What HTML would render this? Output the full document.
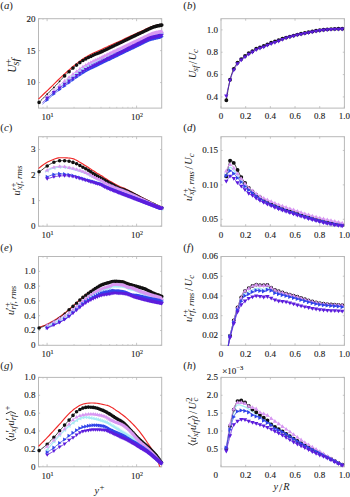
<!DOCTYPE html>
<html><head><meta charset="utf-8"><style>html,body{margin:0;padding:0;background:#fff}svg{display:block}</style></head>
<body><svg width="350" height="497" viewBox="0 0 350 497">
<style>.t{font-family:"Liberation Serif",serif;font-size:9px;fill:#222;stroke:#222;stroke-width:0.12px}.pl{font-family:"Liberation Serif",serif;font-size:10.8px;fill:#222}.al{font-family:"Liberation Serif",serif;fill:#222}</style>
<rect width="350" height="497" fill="#fff"/>
<rect x="38.5" y="18.7" width="123.20" height="89.40" fill="none" stroke="#b8b8b8" stroke-width="1"/>
<line x1="38.5" y1="82.56" x2="40.1" y2="82.56" stroke="#b8b8b8" stroke-width="0.8"/>
<line x1="161.7" y1="82.56" x2="160.1" y2="82.56" stroke="#b8b8b8" stroke-width="0.8"/>
<text x="35.50" y="85.46" text-anchor="end" class="t">10</text>
<line x1="38.5" y1="50.63" x2="40.1" y2="50.63" stroke="#b8b8b8" stroke-width="0.8"/>
<line x1="161.7" y1="50.63" x2="160.1" y2="50.63" stroke="#b8b8b8" stroke-width="0.8"/>
<text x="35.50" y="53.53" text-anchor="end" class="t">15</text>
<line x1="38.5" y1="18.70" x2="40.1" y2="18.70" stroke="#b8b8b8" stroke-width="0.8"/>
<line x1="161.7" y1="18.70" x2="160.1" y2="18.70" stroke="#b8b8b8" stroke-width="0.8"/>
<text x="35.50" y="21.60" text-anchor="end" class="t">20</text>
<line x1="47.10" y1="108.1" x2="47.10" y2="105.6" stroke="#b8b8b8" stroke-width="0.8"/>
<line x1="47.10" y1="18.7" x2="47.10" y2="21.2" stroke="#b8b8b8" stroke-width="0.8"/>
<text x="47.40" y="120.10" text-anchor="middle" class="t">10<tspan dy="-3.2" font-size="6">1</tspan></text>
<line x1="136.60" y1="108.1" x2="136.60" y2="105.6" stroke="#b8b8b8" stroke-width="0.8"/>
<line x1="136.60" y1="18.7" x2="136.60" y2="21.2" stroke="#b8b8b8" stroke-width="0.8"/>
<text x="136.90" y="120.10" text-anchor="middle" class="t">10<tspan dy="-3.2" font-size="6">2</tspan></text>
<line x1="43.00" y1="108.1" x2="43.00" y2="106.8" stroke="#b8b8b8" stroke-width="0.6"/>
<line x1="43.00" y1="18.7" x2="43.00" y2="20.0" stroke="#b8b8b8" stroke-width="0.6"/>
<line x1="74.04" y1="108.1" x2="74.04" y2="106.8" stroke="#b8b8b8" stroke-width="0.6"/>
<line x1="74.04" y1="18.7" x2="74.04" y2="20.0" stroke="#b8b8b8" stroke-width="0.6"/>
<line x1="89.80" y1="108.1" x2="89.80" y2="106.8" stroke="#b8b8b8" stroke-width="0.6"/>
<line x1="89.80" y1="18.7" x2="89.80" y2="20.0" stroke="#b8b8b8" stroke-width="0.6"/>
<line x1="100.98" y1="108.1" x2="100.98" y2="106.8" stroke="#b8b8b8" stroke-width="0.6"/>
<line x1="100.98" y1="18.7" x2="100.98" y2="20.0" stroke="#b8b8b8" stroke-width="0.6"/>
<line x1="109.66" y1="108.1" x2="109.66" y2="106.8" stroke="#b8b8b8" stroke-width="0.6"/>
<line x1="109.66" y1="18.7" x2="109.66" y2="20.0" stroke="#b8b8b8" stroke-width="0.6"/>
<line x1="116.74" y1="108.1" x2="116.74" y2="106.8" stroke="#b8b8b8" stroke-width="0.6"/>
<line x1="116.74" y1="18.7" x2="116.74" y2="20.0" stroke="#b8b8b8" stroke-width="0.6"/>
<line x1="122.74" y1="108.1" x2="122.74" y2="106.8" stroke="#b8b8b8" stroke-width="0.6"/>
<line x1="122.74" y1="18.7" x2="122.74" y2="20.0" stroke="#b8b8b8" stroke-width="0.6"/>
<line x1="127.93" y1="108.1" x2="127.93" y2="106.8" stroke="#b8b8b8" stroke-width="0.6"/>
<line x1="127.93" y1="18.7" x2="127.93" y2="20.0" stroke="#b8b8b8" stroke-width="0.6"/>
<line x1="132.50" y1="108.1" x2="132.50" y2="106.8" stroke="#b8b8b8" stroke-width="0.6"/>
<line x1="132.50" y1="18.7" x2="132.50" y2="20.0" stroke="#b8b8b8" stroke-width="0.6"/>
<rect x="221.0" y="18.7" width="123.40" height="89.40" fill="none" stroke="#b8b8b8" stroke-width="1"/>
<line x1="221.0" y1="96.92" x2="222.6" y2="96.92" stroke="#b8b8b8" stroke-width="0.8"/>
<line x1="344.4" y1="96.92" x2="342.79999999999995" y2="96.92" stroke="#b8b8b8" stroke-width="0.8"/>
<text x="218.00" y="99.83" text-anchor="end" class="t">0.4</text>
<line x1="221.0" y1="74.58" x2="222.6" y2="74.58" stroke="#b8b8b8" stroke-width="0.8"/>
<line x1="344.4" y1="74.58" x2="342.79999999999995" y2="74.58" stroke="#b8b8b8" stroke-width="0.8"/>
<text x="218.00" y="77.48" text-anchor="end" class="t">0.6</text>
<line x1="221.0" y1="52.23" x2="222.6" y2="52.23" stroke="#b8b8b8" stroke-width="0.8"/>
<line x1="344.4" y1="52.23" x2="342.79999999999995" y2="52.23" stroke="#b8b8b8" stroke-width="0.8"/>
<text x="218.00" y="55.12" text-anchor="end" class="t">0.8</text>
<line x1="221.0" y1="29.88" x2="222.6" y2="29.88" stroke="#b8b8b8" stroke-width="0.8"/>
<line x1="344.4" y1="29.88" x2="342.79999999999995" y2="29.88" stroke="#b8b8b8" stroke-width="0.8"/>
<text x="218.00" y="32.78" text-anchor="end" class="t">1.0</text>
<line x1="221.00" y1="108.1" x2="221.00" y2="106.1" stroke="#b8b8b8" stroke-width="0.8"/>
<line x1="221.00" y1="18.7" x2="221.00" y2="20.7" stroke="#b8b8b8" stroke-width="0.8"/>
<text x="221.00" y="119.40" text-anchor="middle" class="t">0</text>
<line x1="245.68" y1="108.1" x2="245.68" y2="106.1" stroke="#b8b8b8" stroke-width="0.8"/>
<line x1="245.68" y1="18.7" x2="245.68" y2="20.7" stroke="#b8b8b8" stroke-width="0.8"/>
<text x="245.68" y="119.40" text-anchor="middle" class="t">0.2</text>
<line x1="270.36" y1="108.1" x2="270.36" y2="106.1" stroke="#b8b8b8" stroke-width="0.8"/>
<line x1="270.36" y1="18.7" x2="270.36" y2="20.7" stroke="#b8b8b8" stroke-width="0.8"/>
<text x="270.36" y="119.40" text-anchor="middle" class="t">0.4</text>
<line x1="295.04" y1="108.1" x2="295.04" y2="106.1" stroke="#b8b8b8" stroke-width="0.8"/>
<line x1="295.04" y1="18.7" x2="295.04" y2="20.7" stroke="#b8b8b8" stroke-width="0.8"/>
<text x="295.04" y="119.40" text-anchor="middle" class="t">0.6</text>
<line x1="319.72" y1="108.1" x2="319.72" y2="106.1" stroke="#b8b8b8" stroke-width="0.8"/>
<line x1="319.72" y1="18.7" x2="319.72" y2="20.7" stroke="#b8b8b8" stroke-width="0.8"/>
<text x="319.72" y="119.40" text-anchor="middle" class="t">0.8</text>
<line x1="344.40" y1="108.1" x2="344.40" y2="106.1" stroke="#b8b8b8" stroke-width="0.8"/>
<line x1="344.40" y1="18.7" x2="344.40" y2="20.7" stroke="#b8b8b8" stroke-width="0.8"/>
<text x="344.40" y="119.40" text-anchor="middle" class="t">1.0</text>
<rect x="38.5" y="136.7" width="123.20" height="89.50" fill="none" stroke="#b8b8b8" stroke-width="1"/>
<line x1="38.5" y1="226.20" x2="40.1" y2="226.20" stroke="#b8b8b8" stroke-width="0.8"/>
<line x1="161.7" y1="226.20" x2="160.1" y2="226.20" stroke="#b8b8b8" stroke-width="0.8"/>
<text x="35.50" y="229.10" text-anchor="end" class="t">0</text>
<line x1="38.5" y1="200.63" x2="40.1" y2="200.63" stroke="#b8b8b8" stroke-width="0.8"/>
<line x1="161.7" y1="200.63" x2="160.1" y2="200.63" stroke="#b8b8b8" stroke-width="0.8"/>
<text x="35.50" y="203.53" text-anchor="end" class="t">1</text>
<line x1="38.5" y1="175.06" x2="40.1" y2="175.06" stroke="#b8b8b8" stroke-width="0.8"/>
<line x1="161.7" y1="175.06" x2="160.1" y2="175.06" stroke="#b8b8b8" stroke-width="0.8"/>
<text x="35.50" y="177.96" text-anchor="end" class="t">2</text>
<line x1="38.5" y1="149.49" x2="40.1" y2="149.49" stroke="#b8b8b8" stroke-width="0.8"/>
<line x1="161.7" y1="149.49" x2="160.1" y2="149.49" stroke="#b8b8b8" stroke-width="0.8"/>
<text x="35.50" y="152.39" text-anchor="end" class="t">3</text>
<line x1="47.10" y1="226.2" x2="47.10" y2="223.7" stroke="#b8b8b8" stroke-width="0.8"/>
<line x1="47.10" y1="136.7" x2="47.10" y2="139.2" stroke="#b8b8b8" stroke-width="0.8"/>
<text x="47.40" y="238.20" text-anchor="middle" class="t">10<tspan dy="-3.2" font-size="6">1</tspan></text>
<line x1="136.60" y1="226.2" x2="136.60" y2="223.7" stroke="#b8b8b8" stroke-width="0.8"/>
<line x1="136.60" y1="136.7" x2="136.60" y2="139.2" stroke="#b8b8b8" stroke-width="0.8"/>
<text x="136.90" y="238.20" text-anchor="middle" class="t">10<tspan dy="-3.2" font-size="6">2</tspan></text>
<line x1="43.00" y1="226.2" x2="43.00" y2="224.89999999999998" stroke="#b8b8b8" stroke-width="0.6"/>
<line x1="43.00" y1="136.7" x2="43.00" y2="138.0" stroke="#b8b8b8" stroke-width="0.6"/>
<line x1="74.04" y1="226.2" x2="74.04" y2="224.89999999999998" stroke="#b8b8b8" stroke-width="0.6"/>
<line x1="74.04" y1="136.7" x2="74.04" y2="138.0" stroke="#b8b8b8" stroke-width="0.6"/>
<line x1="89.80" y1="226.2" x2="89.80" y2="224.89999999999998" stroke="#b8b8b8" stroke-width="0.6"/>
<line x1="89.80" y1="136.7" x2="89.80" y2="138.0" stroke="#b8b8b8" stroke-width="0.6"/>
<line x1="100.98" y1="226.2" x2="100.98" y2="224.89999999999998" stroke="#b8b8b8" stroke-width="0.6"/>
<line x1="100.98" y1="136.7" x2="100.98" y2="138.0" stroke="#b8b8b8" stroke-width="0.6"/>
<line x1="109.66" y1="226.2" x2="109.66" y2="224.89999999999998" stroke="#b8b8b8" stroke-width="0.6"/>
<line x1="109.66" y1="136.7" x2="109.66" y2="138.0" stroke="#b8b8b8" stroke-width="0.6"/>
<line x1="116.74" y1="226.2" x2="116.74" y2="224.89999999999998" stroke="#b8b8b8" stroke-width="0.6"/>
<line x1="116.74" y1="136.7" x2="116.74" y2="138.0" stroke="#b8b8b8" stroke-width="0.6"/>
<line x1="122.74" y1="226.2" x2="122.74" y2="224.89999999999998" stroke="#b8b8b8" stroke-width="0.6"/>
<line x1="122.74" y1="136.7" x2="122.74" y2="138.0" stroke="#b8b8b8" stroke-width="0.6"/>
<line x1="127.93" y1="226.2" x2="127.93" y2="224.89999999999998" stroke="#b8b8b8" stroke-width="0.6"/>
<line x1="127.93" y1="136.7" x2="127.93" y2="138.0" stroke="#b8b8b8" stroke-width="0.6"/>
<line x1="132.50" y1="226.2" x2="132.50" y2="224.89999999999998" stroke="#b8b8b8" stroke-width="0.6"/>
<line x1="132.50" y1="136.7" x2="132.50" y2="138.0" stroke="#b8b8b8" stroke-width="0.6"/>
<rect x="221.0" y="136.7" width="123.40" height="89.50" fill="none" stroke="#b8b8b8" stroke-width="1"/>
<line x1="221.0" y1="219.32" x2="222.6" y2="219.32" stroke="#b8b8b8" stroke-width="0.8"/>
<line x1="344.4" y1="219.32" x2="342.79999999999995" y2="219.32" stroke="#b8b8b8" stroke-width="0.8"/>
<text x="218.00" y="222.22" text-anchor="end" class="t">0.05</text>
<line x1="221.0" y1="184.89" x2="222.6" y2="184.89" stroke="#b8b8b8" stroke-width="0.8"/>
<line x1="344.4" y1="184.89" x2="342.79999999999995" y2="184.89" stroke="#b8b8b8" stroke-width="0.8"/>
<text x="218.00" y="187.79" text-anchor="end" class="t">0.10</text>
<line x1="221.0" y1="150.47" x2="222.6" y2="150.47" stroke="#b8b8b8" stroke-width="0.8"/>
<line x1="344.4" y1="150.47" x2="342.79999999999995" y2="150.47" stroke="#b8b8b8" stroke-width="0.8"/>
<text x="218.00" y="153.37" text-anchor="end" class="t">0.15</text>
<line x1="221.00" y1="226.2" x2="221.00" y2="224.2" stroke="#b8b8b8" stroke-width="0.8"/>
<line x1="221.00" y1="136.7" x2="221.00" y2="138.7" stroke="#b8b8b8" stroke-width="0.8"/>
<text x="221.00" y="237.50" text-anchor="middle" class="t">0</text>
<line x1="245.68" y1="226.2" x2="245.68" y2="224.2" stroke="#b8b8b8" stroke-width="0.8"/>
<line x1="245.68" y1="136.7" x2="245.68" y2="138.7" stroke="#b8b8b8" stroke-width="0.8"/>
<text x="245.68" y="237.50" text-anchor="middle" class="t">0.2</text>
<line x1="270.36" y1="226.2" x2="270.36" y2="224.2" stroke="#b8b8b8" stroke-width="0.8"/>
<line x1="270.36" y1="136.7" x2="270.36" y2="138.7" stroke="#b8b8b8" stroke-width="0.8"/>
<text x="270.36" y="237.50" text-anchor="middle" class="t">0.4</text>
<line x1="295.04" y1="226.2" x2="295.04" y2="224.2" stroke="#b8b8b8" stroke-width="0.8"/>
<line x1="295.04" y1="136.7" x2="295.04" y2="138.7" stroke="#b8b8b8" stroke-width="0.8"/>
<text x="295.04" y="237.50" text-anchor="middle" class="t">0.6</text>
<line x1="319.72" y1="226.2" x2="319.72" y2="224.2" stroke="#b8b8b8" stroke-width="0.8"/>
<line x1="319.72" y1="136.7" x2="319.72" y2="138.7" stroke="#b8b8b8" stroke-width="0.8"/>
<text x="319.72" y="237.50" text-anchor="middle" class="t">0.8</text>
<line x1="344.40" y1="226.2" x2="344.40" y2="224.2" stroke="#b8b8b8" stroke-width="0.8"/>
<line x1="344.40" y1="136.7" x2="344.40" y2="138.7" stroke="#b8b8b8" stroke-width="0.8"/>
<text x="344.40" y="237.50" text-anchor="middle" class="t">1.0</text>
<rect x="38.5" y="256.5" width="123.20" height="88.80" fill="none" stroke="#b8b8b8" stroke-width="1"/>
<line x1="38.5" y1="345.30" x2="40.1" y2="345.30" stroke="#b8b8b8" stroke-width="0.8"/>
<line x1="161.7" y1="345.30" x2="160.1" y2="345.30" stroke="#b8b8b8" stroke-width="0.8"/>
<text x="35.50" y="348.20" text-anchor="end" class="t">0</text>
<line x1="38.5" y1="330.50" x2="40.1" y2="330.50" stroke="#b8b8b8" stroke-width="0.8"/>
<line x1="161.7" y1="330.50" x2="160.1" y2="330.50" stroke="#b8b8b8" stroke-width="0.8"/>
<text x="35.50" y="333.40" text-anchor="end" class="t">0.2</text>
<line x1="38.5" y1="315.70" x2="40.1" y2="315.70" stroke="#b8b8b8" stroke-width="0.8"/>
<line x1="161.7" y1="315.70" x2="160.1" y2="315.70" stroke="#b8b8b8" stroke-width="0.8"/>
<text x="35.50" y="318.60" text-anchor="end" class="t">0.4</text>
<line x1="38.5" y1="300.90" x2="40.1" y2="300.90" stroke="#b8b8b8" stroke-width="0.8"/>
<line x1="161.7" y1="300.90" x2="160.1" y2="300.90" stroke="#b8b8b8" stroke-width="0.8"/>
<text x="35.50" y="303.80" text-anchor="end" class="t">0.6</text>
<line x1="38.5" y1="286.10" x2="40.1" y2="286.10" stroke="#b8b8b8" stroke-width="0.8"/>
<line x1="161.7" y1="286.10" x2="160.1" y2="286.10" stroke="#b8b8b8" stroke-width="0.8"/>
<text x="35.50" y="289.00" text-anchor="end" class="t">0.8</text>
<line x1="38.5" y1="271.30" x2="40.1" y2="271.30" stroke="#b8b8b8" stroke-width="0.8"/>
<line x1="161.7" y1="271.30" x2="160.1" y2="271.30" stroke="#b8b8b8" stroke-width="0.8"/>
<text x="35.50" y="274.20" text-anchor="end" class="t">1.0</text>
<line x1="47.10" y1="345.3" x2="47.10" y2="342.8" stroke="#b8b8b8" stroke-width="0.8"/>
<line x1="47.10" y1="256.5" x2="47.10" y2="259.0" stroke="#b8b8b8" stroke-width="0.8"/>
<text x="47.40" y="357.30" text-anchor="middle" class="t">10<tspan dy="-3.2" font-size="6">1</tspan></text>
<line x1="136.60" y1="345.3" x2="136.60" y2="342.8" stroke="#b8b8b8" stroke-width="0.8"/>
<line x1="136.60" y1="256.5" x2="136.60" y2="259.0" stroke="#b8b8b8" stroke-width="0.8"/>
<text x="136.90" y="357.30" text-anchor="middle" class="t">10<tspan dy="-3.2" font-size="6">2</tspan></text>
<line x1="43.00" y1="345.3" x2="43.00" y2="344.0" stroke="#b8b8b8" stroke-width="0.6"/>
<line x1="43.00" y1="256.5" x2="43.00" y2="257.8" stroke="#b8b8b8" stroke-width="0.6"/>
<line x1="74.04" y1="345.3" x2="74.04" y2="344.0" stroke="#b8b8b8" stroke-width="0.6"/>
<line x1="74.04" y1="256.5" x2="74.04" y2="257.8" stroke="#b8b8b8" stroke-width="0.6"/>
<line x1="89.80" y1="345.3" x2="89.80" y2="344.0" stroke="#b8b8b8" stroke-width="0.6"/>
<line x1="89.80" y1="256.5" x2="89.80" y2="257.8" stroke="#b8b8b8" stroke-width="0.6"/>
<line x1="100.98" y1="345.3" x2="100.98" y2="344.0" stroke="#b8b8b8" stroke-width="0.6"/>
<line x1="100.98" y1="256.5" x2="100.98" y2="257.8" stroke="#b8b8b8" stroke-width="0.6"/>
<line x1="109.66" y1="345.3" x2="109.66" y2="344.0" stroke="#b8b8b8" stroke-width="0.6"/>
<line x1="109.66" y1="256.5" x2="109.66" y2="257.8" stroke="#b8b8b8" stroke-width="0.6"/>
<line x1="116.74" y1="345.3" x2="116.74" y2="344.0" stroke="#b8b8b8" stroke-width="0.6"/>
<line x1="116.74" y1="256.5" x2="116.74" y2="257.8" stroke="#b8b8b8" stroke-width="0.6"/>
<line x1="122.74" y1="345.3" x2="122.74" y2="344.0" stroke="#b8b8b8" stroke-width="0.6"/>
<line x1="122.74" y1="256.5" x2="122.74" y2="257.8" stroke="#b8b8b8" stroke-width="0.6"/>
<line x1="127.93" y1="345.3" x2="127.93" y2="344.0" stroke="#b8b8b8" stroke-width="0.6"/>
<line x1="127.93" y1="256.5" x2="127.93" y2="257.8" stroke="#b8b8b8" stroke-width="0.6"/>
<line x1="132.50" y1="345.3" x2="132.50" y2="344.0" stroke="#b8b8b8" stroke-width="0.6"/>
<line x1="132.50" y1="256.5" x2="132.50" y2="257.8" stroke="#b8b8b8" stroke-width="0.6"/>
<rect x="221.0" y="256.5" width="123.40" height="88.80" fill="none" stroke="#b8b8b8" stroke-width="1"/>
<line x1="221.0" y1="335.43" x2="222.6" y2="335.43" stroke="#b8b8b8" stroke-width="0.8"/>
<line x1="344.4" y1="335.43" x2="342.79999999999995" y2="335.43" stroke="#b8b8b8" stroke-width="0.8"/>
<text x="218.00" y="338.33" text-anchor="end" class="t">0.02</text>
<line x1="221.0" y1="315.70" x2="222.6" y2="315.70" stroke="#b8b8b8" stroke-width="0.8"/>
<line x1="344.4" y1="315.70" x2="342.79999999999995" y2="315.70" stroke="#b8b8b8" stroke-width="0.8"/>
<text x="218.00" y="318.60" text-anchor="end" class="t">0.03</text>
<line x1="221.0" y1="295.97" x2="222.6" y2="295.97" stroke="#b8b8b8" stroke-width="0.8"/>
<line x1="344.4" y1="295.97" x2="342.79999999999995" y2="295.97" stroke="#b8b8b8" stroke-width="0.8"/>
<text x="218.00" y="298.87" text-anchor="end" class="t">0.04</text>
<line x1="221.0" y1="276.23" x2="222.6" y2="276.23" stroke="#b8b8b8" stroke-width="0.8"/>
<line x1="344.4" y1="276.23" x2="342.79999999999995" y2="276.23" stroke="#b8b8b8" stroke-width="0.8"/>
<text x="218.00" y="279.13" text-anchor="end" class="t">0.05</text>
<line x1="221.0" y1="256.50" x2="222.6" y2="256.50" stroke="#b8b8b8" stroke-width="0.8"/>
<line x1="344.4" y1="256.50" x2="342.79999999999995" y2="256.50" stroke="#b8b8b8" stroke-width="0.8"/>
<text x="218.00" y="259.40" text-anchor="end" class="t">0.06</text>
<line x1="221.00" y1="345.3" x2="221.00" y2="343.3" stroke="#b8b8b8" stroke-width="0.8"/>
<line x1="221.00" y1="256.5" x2="221.00" y2="258.5" stroke="#b8b8b8" stroke-width="0.8"/>
<text x="221.00" y="356.60" text-anchor="middle" class="t">0</text>
<line x1="245.68" y1="345.3" x2="245.68" y2="343.3" stroke="#b8b8b8" stroke-width="0.8"/>
<line x1="245.68" y1="256.5" x2="245.68" y2="258.5" stroke="#b8b8b8" stroke-width="0.8"/>
<text x="245.68" y="356.60" text-anchor="middle" class="t">0.2</text>
<line x1="270.36" y1="345.3" x2="270.36" y2="343.3" stroke="#b8b8b8" stroke-width="0.8"/>
<line x1="270.36" y1="256.5" x2="270.36" y2="258.5" stroke="#b8b8b8" stroke-width="0.8"/>
<text x="270.36" y="356.60" text-anchor="middle" class="t">0.4</text>
<line x1="295.04" y1="345.3" x2="295.04" y2="343.3" stroke="#b8b8b8" stroke-width="0.8"/>
<line x1="295.04" y1="256.5" x2="295.04" y2="258.5" stroke="#b8b8b8" stroke-width="0.8"/>
<text x="295.04" y="356.60" text-anchor="middle" class="t">0.6</text>
<line x1="319.72" y1="345.3" x2="319.72" y2="343.3" stroke="#b8b8b8" stroke-width="0.8"/>
<line x1="319.72" y1="256.5" x2="319.72" y2="258.5" stroke="#b8b8b8" stroke-width="0.8"/>
<text x="319.72" y="356.60" text-anchor="middle" class="t">0.8</text>
<line x1="344.40" y1="345.3" x2="344.40" y2="343.3" stroke="#b8b8b8" stroke-width="0.8"/>
<line x1="344.40" y1="256.5" x2="344.40" y2="258.5" stroke="#b8b8b8" stroke-width="0.8"/>
<text x="344.40" y="356.60" text-anchor="middle" class="t">1.0</text>
<rect x="38.5" y="377.4" width="123.20" height="89.40" fill="none" stroke="#b8b8b8" stroke-width="1"/>
<line x1="38.5" y1="466.80" x2="40.1" y2="466.80" stroke="#b8b8b8" stroke-width="0.8"/>
<line x1="161.7" y1="466.80" x2="160.1" y2="466.80" stroke="#b8b8b8" stroke-width="0.8"/>
<text x="35.50" y="469.70" text-anchor="end" class="t">0</text>
<line x1="38.5" y1="448.92" x2="40.1" y2="448.92" stroke="#b8b8b8" stroke-width="0.8"/>
<line x1="161.7" y1="448.92" x2="160.1" y2="448.92" stroke="#b8b8b8" stroke-width="0.8"/>
<text x="35.50" y="451.82" text-anchor="end" class="t">0.2</text>
<line x1="38.5" y1="431.04" x2="40.1" y2="431.04" stroke="#b8b8b8" stroke-width="0.8"/>
<line x1="161.7" y1="431.04" x2="160.1" y2="431.04" stroke="#b8b8b8" stroke-width="0.8"/>
<text x="35.50" y="433.94" text-anchor="end" class="t">0.4</text>
<line x1="38.5" y1="413.16" x2="40.1" y2="413.16" stroke="#b8b8b8" stroke-width="0.8"/>
<line x1="161.7" y1="413.16" x2="160.1" y2="413.16" stroke="#b8b8b8" stroke-width="0.8"/>
<text x="35.50" y="416.06" text-anchor="end" class="t">0.6</text>
<line x1="38.5" y1="395.28" x2="40.1" y2="395.28" stroke="#b8b8b8" stroke-width="0.8"/>
<line x1="161.7" y1="395.28" x2="160.1" y2="395.28" stroke="#b8b8b8" stroke-width="0.8"/>
<text x="35.50" y="398.18" text-anchor="end" class="t">0.8</text>
<line x1="38.5" y1="377.40" x2="40.1" y2="377.40" stroke="#b8b8b8" stroke-width="0.8"/>
<line x1="161.7" y1="377.40" x2="160.1" y2="377.40" stroke="#b8b8b8" stroke-width="0.8"/>
<text x="35.50" y="380.30" text-anchor="end" class="t">1.0</text>
<line x1="47.10" y1="466.8" x2="47.10" y2="464.3" stroke="#b8b8b8" stroke-width="0.8"/>
<line x1="47.10" y1="377.4" x2="47.10" y2="379.9" stroke="#b8b8b8" stroke-width="0.8"/>
<text x="47.40" y="478.80" text-anchor="middle" class="t">10<tspan dy="-3.2" font-size="6">1</tspan></text>
<line x1="136.60" y1="466.8" x2="136.60" y2="464.3" stroke="#b8b8b8" stroke-width="0.8"/>
<line x1="136.60" y1="377.4" x2="136.60" y2="379.9" stroke="#b8b8b8" stroke-width="0.8"/>
<text x="136.90" y="478.80" text-anchor="middle" class="t">10<tspan dy="-3.2" font-size="6">2</tspan></text>
<line x1="43.00" y1="466.8" x2="43.00" y2="465.5" stroke="#b8b8b8" stroke-width="0.6"/>
<line x1="43.00" y1="377.4" x2="43.00" y2="378.7" stroke="#b8b8b8" stroke-width="0.6"/>
<line x1="74.04" y1="466.8" x2="74.04" y2="465.5" stroke="#b8b8b8" stroke-width="0.6"/>
<line x1="74.04" y1="377.4" x2="74.04" y2="378.7" stroke="#b8b8b8" stroke-width="0.6"/>
<line x1="89.80" y1="466.8" x2="89.80" y2="465.5" stroke="#b8b8b8" stroke-width="0.6"/>
<line x1="89.80" y1="377.4" x2="89.80" y2="378.7" stroke="#b8b8b8" stroke-width="0.6"/>
<line x1="100.98" y1="466.8" x2="100.98" y2="465.5" stroke="#b8b8b8" stroke-width="0.6"/>
<line x1="100.98" y1="377.4" x2="100.98" y2="378.7" stroke="#b8b8b8" stroke-width="0.6"/>
<line x1="109.66" y1="466.8" x2="109.66" y2="465.5" stroke="#b8b8b8" stroke-width="0.6"/>
<line x1="109.66" y1="377.4" x2="109.66" y2="378.7" stroke="#b8b8b8" stroke-width="0.6"/>
<line x1="116.74" y1="466.8" x2="116.74" y2="465.5" stroke="#b8b8b8" stroke-width="0.6"/>
<line x1="116.74" y1="377.4" x2="116.74" y2="378.7" stroke="#b8b8b8" stroke-width="0.6"/>
<line x1="122.74" y1="466.8" x2="122.74" y2="465.5" stroke="#b8b8b8" stroke-width="0.6"/>
<line x1="122.74" y1="377.4" x2="122.74" y2="378.7" stroke="#b8b8b8" stroke-width="0.6"/>
<line x1="127.93" y1="466.8" x2="127.93" y2="465.5" stroke="#b8b8b8" stroke-width="0.6"/>
<line x1="127.93" y1="377.4" x2="127.93" y2="378.7" stroke="#b8b8b8" stroke-width="0.6"/>
<line x1="132.50" y1="466.8" x2="132.50" y2="465.5" stroke="#b8b8b8" stroke-width="0.6"/>
<line x1="132.50" y1="377.4" x2="132.50" y2="378.7" stroke="#b8b8b8" stroke-width="0.6"/>
<rect x="221.0" y="377.4" width="123.40" height="89.40" fill="none" stroke="#b8b8b8" stroke-width="1"/>
<line x1="221.0" y1="448.92" x2="222.6" y2="448.92" stroke="#b8b8b8" stroke-width="0.8"/>
<line x1="344.4" y1="448.92" x2="342.79999999999995" y2="448.92" stroke="#b8b8b8" stroke-width="0.8"/>
<text x="218.00" y="451.82" text-anchor="end" class="t">0.5</text>
<line x1="221.0" y1="431.04" x2="222.6" y2="431.04" stroke="#b8b8b8" stroke-width="0.8"/>
<line x1="344.4" y1="431.04" x2="342.79999999999995" y2="431.04" stroke="#b8b8b8" stroke-width="0.8"/>
<text x="218.00" y="433.94" text-anchor="end" class="t">1.0</text>
<line x1="221.0" y1="413.16" x2="222.6" y2="413.16" stroke="#b8b8b8" stroke-width="0.8"/>
<line x1="344.4" y1="413.16" x2="342.79999999999995" y2="413.16" stroke="#b8b8b8" stroke-width="0.8"/>
<text x="218.00" y="416.06" text-anchor="end" class="t">1.5</text>
<line x1="221.0" y1="395.28" x2="222.6" y2="395.28" stroke="#b8b8b8" stroke-width="0.8"/>
<line x1="344.4" y1="395.28" x2="342.79999999999995" y2="395.28" stroke="#b8b8b8" stroke-width="0.8"/>
<text x="218.00" y="398.18" text-anchor="end" class="t">2.0</text>
<line x1="221.0" y1="377.40" x2="222.6" y2="377.40" stroke="#b8b8b8" stroke-width="0.8"/>
<line x1="344.4" y1="377.40" x2="342.79999999999995" y2="377.40" stroke="#b8b8b8" stroke-width="0.8"/>
<text x="218.00" y="380.30" text-anchor="end" class="t">2.5</text>
<line x1="221.00" y1="466.8" x2="221.00" y2="464.8" stroke="#b8b8b8" stroke-width="0.8"/>
<line x1="221.00" y1="377.4" x2="221.00" y2="379.4" stroke="#b8b8b8" stroke-width="0.8"/>
<text x="215.80" y="478.10" text-anchor="middle" class="t">0</text>
<line x1="245.68" y1="466.8" x2="245.68" y2="464.8" stroke="#b8b8b8" stroke-width="0.8"/>
<line x1="245.68" y1="377.4" x2="245.68" y2="379.4" stroke="#b8b8b8" stroke-width="0.8"/>
<text x="245.68" y="478.10" text-anchor="middle" class="t">0.2</text>
<line x1="270.36" y1="466.8" x2="270.36" y2="464.8" stroke="#b8b8b8" stroke-width="0.8"/>
<line x1="270.36" y1="377.4" x2="270.36" y2="379.4" stroke="#b8b8b8" stroke-width="0.8"/>
<text x="270.36" y="478.10" text-anchor="middle" class="t">0.4</text>
<line x1="295.04" y1="466.8" x2="295.04" y2="464.8" stroke="#b8b8b8" stroke-width="0.8"/>
<line x1="295.04" y1="377.4" x2="295.04" y2="379.4" stroke="#b8b8b8" stroke-width="0.8"/>
<text x="295.04" y="478.10" text-anchor="middle" class="t">0.6</text>
<line x1="319.72" y1="466.8" x2="319.72" y2="464.8" stroke="#b8b8b8" stroke-width="0.8"/>
<line x1="319.72" y1="377.4" x2="319.72" y2="379.4" stroke="#b8b8b8" stroke-width="0.8"/>
<text x="319.72" y="478.10" text-anchor="middle" class="t">0.8</text>
<line x1="344.40" y1="466.8" x2="344.40" y2="464.8" stroke="#b8b8b8" stroke-width="0.8"/>
<line x1="344.40" y1="377.4" x2="344.40" y2="379.4" stroke="#b8b8b8" stroke-width="0.8"/>
<text x="344.40" y="478.10" text-anchor="middle" class="t">1.0</text>
<clipPath id="cpa"><rect x="35.5" y="15.7" width="129.2" height="95.39999999999999"/></clipPath>
<g clip-path="url(#cpa)">
<path d="M38.5,99.0 L39.7,97.9 L41.3,96.3 L43.2,94.5 L45.3,92.5 L47.6,90.3 L50.0,88.0 L52.5,85.6 L55.2,82.9 L58.1,80.0 L61.1,77.1 L64.1,74.3 L67.0,71.7 L69.9,69.2 L72.7,66.8 L75.6,64.4 L78.5,62.1 L81.4,60.0 L84.3,58.0 L87.3,56.2 L90.4,54.6 L93.4,53.1 L96.4,51.7 L99.1,50.5 L101.5,49.4 L103.4,48.5 L104.9,47.8 L106.2,47.2 L107.4,46.7 L108.6,46.1 L110.0,45.5 L111.6,44.8 L113.2,44.1 L114.9,43.3 L116.6,42.5 L118.3,41.8 L120.0,41.0 L121.7,40.2 L123.3,39.4 L125.0,38.6 L126.7,37.9 L128.3,37.1 L130.0,36.3 L131.7,35.5 L133.3,34.8 L135.0,34.0 L136.7,33.3 L138.3,32.5 L140.0,31.8 L141.7,31.0 L143.5,30.2 L145.3,29.4 L147.0,28.6 L148.6,27.9 L150.0,27.3 L151.1,26.9 L152.0,26.5 L152.7,26.3 L153.4,26.1 L154.1,25.9 L155.0,25.7 L156.1,25.4 L157.4,25.2 L158.7,24.9 L159.9,24.7 L161.0,24.4 L161.7,24.3" fill="none" stroke="#f02828" stroke-width="1.15"/>
<path d="M45.5,100.0 L46.6,99.0 L48.2,97.6 L50.1,95.9 L52.1,94.0 L54.1,92.2 L56.0,90.5 L57.8,88.9 L59.5,87.3 L61.2,85.8 L63.0,84.1 L65.0,82.4 L67.2,80.6 L69.7,78.6 L72.5,76.4 L75.4,74.1 L78.4,71.8 L81.4,69.6 L84.3,67.7 L87.3,66.0 L90.3,64.4 L93.4,62.9 L96.4,61.5 L99.1,60.3 L101.5,59.2 L103.4,58.3 L104.9,57.5 L106.2,56.9 L107.4,56.3 L108.6,55.8 L110.0,55.1 L111.6,54.4 L113.2,53.6 L114.9,52.8 L116.6,52.1 L118.3,51.3 L120.0,50.5 L121.7,49.7 L123.3,48.9 L125.0,48.1 L126.7,47.4 L128.3,46.6 L130.0,45.8 L131.7,45.0 L133.3,44.3 L135.0,43.5 L136.7,42.7 L138.3,42.0 L140.0,41.2 L141.7,40.4 L143.5,39.5 L145.3,38.7 L147.0,37.8 L148.6,37.1 L150.0,36.5 L151.1,36.0 L152.0,35.7 L152.7,35.4 L153.4,35.2 L154.1,35.0 L155.0,34.8 L156.1,34.5 L157.4,34.3 L158.7,34.0 L159.9,33.8 L161.0,33.6 L161.7,33.5" fill="none" stroke="#a8ecf4" stroke-width="1.3"/>
<path d="M45.4,98.4L48.7,96.6L48.7,100.3ZM52.1,92.4L55.4,90.5L55.4,94.3ZM57.8,87.2L61.1,85.3L61.1,89.1ZM62.8,82.7L66.1,80.8L66.1,84.6ZM67.3,79.1L70.5,77.2L70.5,81.0ZM71.2,75.9L74.5,74.0L74.5,77.8ZM74.8,73.1L78.1,71.2L78.1,75.0ZM78.1,70.7L81.4,68.8L81.4,72.6ZM81.1,68.6L84.4,66.7L84.4,70.5ZM84.0,66.8L87.2,65.0L87.2,68.7ZM86.6,65.4L89.8,63.5L89.8,67.3ZM89.1,64.1L92.3,62.2L92.3,66.0ZM91.4,63.0L94.6,61.1L94.6,64.9ZM93.5,62.0L96.8,60.1L96.8,63.9ZM95.6,61.1L98.9,59.2L98.9,63.0ZM97.6,60.2L100.8,58.3L100.8,62.1ZM99.4,59.3L102.7,57.4L102.7,61.2ZM101.2,58.5L104.5,56.6L104.5,60.3ZM102.9,57.6L106.2,55.7L106.2,59.5ZM104.6,56.8L107.8,54.9L107.8,58.7ZM106.1,56.1L109.4,54.2L109.4,58.0ZM107.6,55.4L110.9,53.5L110.9,57.3ZM109.1,54.7L112.3,52.8L112.3,56.6ZM110.5,54.0L113.7,52.1L113.7,55.9ZM111.8,53.4L115.1,51.5L115.1,55.3ZM113.1,52.8L116.4,50.9L116.4,54.7ZM114.4,52.2L117.6,50.4L117.6,54.1ZM115.6,51.7L118.9,49.8L118.9,53.6ZM116.8,51.1L120.1,49.3L120.1,53.0ZM118.0,50.6L121.2,48.7L121.2,52.5ZM119.1,50.1L122.3,48.2L122.3,52.0ZM120.2,49.6L123.4,47.7L123.4,51.5ZM121.2,49.1L124.5,47.2L124.5,51.0ZM122.2,48.6L125.5,46.7L125.5,50.5ZM123.2,48.1L126.5,46.2L126.5,50.0ZM124.2,47.7L127.5,45.8L127.5,49.6ZM125.2,47.2L128.4,45.3L128.4,49.1ZM126.1,46.8L129.3,44.9L129.3,48.7ZM127.0,46.4L130.3,44.5L130.3,48.2ZM127.9,45.9L131.1,44.0L131.1,47.8ZM128.8,45.5L132.0,43.6L132.0,47.4ZM129.6,45.1L132.9,43.3L132.9,47.0ZM130.4,44.8L133.7,42.9L133.7,46.7ZM131.3,44.4L134.5,42.5L134.5,46.3ZM132.1,44.0L135.3,42.1L135.3,45.9ZM132.8,43.7L136.1,41.8L136.1,45.6ZM133.6,43.3L136.8,41.4L136.8,45.2ZM134.4,43.0L137.6,41.1L137.6,44.9ZM135.1,42.6L138.3,40.7L138.3,44.5ZM135.8,42.3L139.1,40.4L139.1,44.2ZM136.5,42.0L139.8,40.1L139.8,43.9ZM137.2,41.7L140.5,39.8L140.5,43.5ZM137.9,41.3L141.1,39.4L141.1,43.2ZM138.6,41.0L141.8,39.1L141.8,42.9ZM139.2,40.7L142.5,38.8L142.5,42.6ZM139.9,40.4L143.1,38.5L143.1,42.3ZM140.5,40.1L143.8,38.2L143.8,42.0ZM141.2,39.8L144.4,37.9L144.4,41.7ZM141.8,39.5L145.0,37.6L145.0,41.4ZM142.4,39.2L145.6,37.3L145.6,41.1ZM143.0,38.9L146.2,37.0L146.2,40.8ZM143.6,38.6L146.8,36.8L146.8,40.5ZM144.2,38.4L147.4,36.5L147.4,40.3ZM144.7,38.1L148.0,36.2L148.0,40.0ZM145.3,37.8L148.5,35.9L148.5,39.7ZM145.8,37.6L149.1,35.7L149.1,39.5ZM146.4,37.3L149.6,35.4L149.6,39.2ZM146.9,37.1L150.2,35.2L150.2,38.9ZM147.5,36.8L150.7,34.9L150.7,38.7ZM148.0,36.6L151.2,34.7L151.2,38.5ZM148.5,36.4L151.8,34.5L151.8,38.3ZM149.0,36.2L152.3,34.3L152.3,38.0ZM149.5,35.9L152.8,34.1L152.8,37.8ZM150.0,35.7L153.3,33.9L153.3,37.6ZM150.5,35.6L153.8,33.7L153.8,37.5ZM151.0,35.4L154.3,33.5L154.3,37.3ZM151.5,35.3L154.7,33.4L154.7,37.1ZM152.0,35.1L155.2,33.2L155.2,37.0ZM152.4,35.0L155.7,33.1L155.7,36.9ZM152.9,34.9L156.1,33.0L156.1,36.8ZM153.4,34.8L156.6,32.9L156.6,36.7ZM153.8,34.7L157.1,32.8L157.1,36.5ZM154.3,34.6L157.5,32.7L157.5,36.4ZM154.7,34.5L157.9,32.6L157.9,36.4ZM155.1,34.4L158.4,32.5L158.4,36.3ZM155.6,34.3L158.8,32.4L158.8,36.2ZM156.0,34.2L159.2,32.3L159.2,36.1ZM156.4,34.1L159.7,32.2L159.7,36.0ZM156.9,34.0L160.1,32.2L160.1,35.9ZM157.3,34.0L160.5,32.1L160.5,35.9ZM157.7,33.9L160.9,32.0L160.9,35.8ZM158.1,33.8L161.3,31.9L161.3,35.7ZM158.5,33.8L161.7,31.9L161.7,35.6ZM158.9,33.7L162.1,31.8L162.1,35.6ZM159.3,33.6L162.5,31.7L162.5,35.5ZM159.7,33.5L162.9,31.7L162.9,35.4ZM160.0,33.5L163.3,31.6L163.3,35.4Z" fill="#a8ecf4"/>
<path d="M39.0,102.5 L39.7,101.7 L40.7,100.7 L41.9,99.5 L43.2,98.2 L44.6,96.7 L46.0,95.3 L47.5,93.8 L49.2,92.1 L51.0,90.4 L52.7,88.6 L54.4,86.9 L56.0,85.3 L57.4,83.8 L58.8,82.3 L60.0,80.8 L61.3,79.4 L62.5,78.1 L63.7,76.8 L64.9,75.6 L66.1,74.5 L67.2,73.4 L68.3,72.3 L69.5,71.3 L70.6,70.3 L71.7,69.3 L72.9,68.3 L74.0,67.3 L75.1,66.3 L76.3,65.4 L77.4,64.5 L78.5,63.6 L79.6,62.8 L80.7,62.0 L81.9,61.2 L83.1,60.5 L84.3,59.7 L85.6,58.9 L87.0,58.2 L88.5,57.5 L90.0,56.8 L91.4,56.1 L92.9,55.4 L94.3,54.8 L95.8,54.2 L97.2,53.6 L98.6,53.0 L100.1,52.4 L101.5,51.8 L102.9,51.2 L104.3,50.5 L105.7,49.8 L107.1,49.1 L108.5,48.4 L110.0,47.7 L111.6,46.9 L113.2,46.2 L114.9,45.3 L116.6,44.5 L118.3,43.7 L120.0,42.9 L121.7,42.1 L123.3,41.3 L125.0,40.5 L126.7,39.7 L128.3,38.9 L130.0,38.1 L131.7,37.3 L133.3,36.5 L135.0,35.7 L136.7,34.9 L138.3,34.1 L140.0,33.3 L141.7,32.5 L143.5,31.6 L145.3,30.7 L147.0,29.9 L148.6,29.1 L150.0,28.5 L151.1,28.0 L152.0,27.6 L152.7,27.3 L153.4,27.1 L154.1,26.9 L155.0,26.6 L156.1,26.3 L157.4,26.0 L158.7,25.7 L159.9,25.5 L161.0,25.3 L161.7,25.1" fill="none" stroke="#111111" stroke-width="0.8"/>
<path d="M37.3,102.4a1.80,1.80 0 1,0 3.60,0a1.80,1.80 0 1,0 -3.60,0M46.3,94.1a0.90,0.90 0 1,0 1.80,0a0.90,0.90 0 1,0 -1.80,0M53.0,87.4a0.90,0.90 0 1,0 1.80,0a0.90,0.90 0 1,0 -1.80,0M58.7,81.3a0.90,0.90 0 1,0 1.80,0a0.90,0.90 0 1,0 -1.80,0M62.8,75.9a1.80,1.80 0 1,0 3.60,0a1.80,1.80 0 1,0 -3.60,0M67.3,71.7a1.80,1.80 0 1,0 3.60,0a1.80,1.80 0 1,0 -3.60,0M71.2,68.1a1.80,1.80 0 1,0 3.60,0a1.80,1.80 0 1,0 -3.60,0M74.8,65.1a1.80,1.80 0 1,0 3.60,0a1.80,1.80 0 1,0 -3.60,0M78.1,62.6a1.80,1.80 0 1,0 3.60,0a1.80,1.80 0 1,0 -3.60,0M81.1,60.5a1.80,1.80 0 1,0 3.60,0a1.80,1.80 0 1,0 -3.60,0M84.0,58.9a1.80,1.80 0 1,0 3.60,0a1.80,1.80 0 1,0 -3.60,0M86.6,57.5a1.80,1.80 0 1,0 3.60,0a1.80,1.80 0 1,0 -3.60,0M89.1,56.4a1.80,1.80 0 1,0 3.60,0a1.80,1.80 0 1,0 -3.60,0M91.4,55.3a1.80,1.80 0 1,0 3.60,0a1.80,1.80 0 1,0 -3.60,0M93.5,54.3a1.80,1.80 0 1,0 3.60,0a1.80,1.80 0 1,0 -3.60,0M95.6,53.5a1.80,1.80 0 1,0 3.60,0a1.80,1.80 0 1,0 -3.60,0M97.6,52.7a1.80,1.80 0 1,0 3.60,0a1.80,1.80 0 1,0 -3.60,0M99.4,51.9a1.80,1.80 0 1,0 3.60,0a1.80,1.80 0 1,0 -3.60,0M101.2,51.1a1.80,1.80 0 1,0 3.60,0a1.80,1.80 0 1,0 -3.60,0M102.9,50.3a1.80,1.80 0 1,0 3.60,0a1.80,1.80 0 1,0 -3.60,0M104.6,49.5a1.80,1.80 0 1,0 3.60,0a1.80,1.80 0 1,0 -3.60,0M106.1,48.7a1.80,1.80 0 1,0 3.60,0a1.80,1.80 0 1,0 -3.60,0M107.6,48.0a1.80,1.80 0 1,0 3.60,0a1.80,1.80 0 1,0 -3.60,0M109.1,47.3a1.80,1.80 0 1,0 3.60,0a1.80,1.80 0 1,0 -3.60,0M110.5,46.6a1.80,1.80 0 1,0 3.60,0a1.80,1.80 0 1,0 -3.60,0M111.8,46.0a1.80,1.80 0 1,0 3.60,0a1.80,1.80 0 1,0 -3.60,0M113.1,45.3a1.80,1.80 0 1,0 3.60,0a1.80,1.80 0 1,0 -3.60,0M114.4,44.7a1.80,1.80 0 1,0 3.60,0a1.80,1.80 0 1,0 -3.60,0M115.6,44.1a1.80,1.80 0 1,0 3.60,0a1.80,1.80 0 1,0 -3.60,0M116.8,43.6a1.80,1.80 0 1,0 3.60,0a1.80,1.80 0 1,0 -3.60,0M118.0,43.0a1.80,1.80 0 1,0 3.60,0a1.80,1.80 0 1,0 -3.60,0M119.1,42.5a1.80,1.80 0 1,0 3.60,0a1.80,1.80 0 1,0 -3.60,0M120.2,42.0a1.80,1.80 0 1,0 3.60,0a1.80,1.80 0 1,0 -3.60,0M121.2,41.5a1.80,1.80 0 1,0 3.60,0a1.80,1.80 0 1,0 -3.60,0M122.2,41.0a1.80,1.80 0 1,0 3.60,0a1.80,1.80 0 1,0 -3.60,0M123.2,40.5a1.80,1.80 0 1,0 3.60,0a1.80,1.80 0 1,0 -3.60,0M124.2,40.0a1.80,1.80 0 1,0 3.60,0a1.80,1.80 0 1,0 -3.60,0M125.2,39.6a1.80,1.80 0 1,0 3.60,0a1.80,1.80 0 1,0 -3.60,0M126.1,39.1a1.80,1.80 0 1,0 3.60,0a1.80,1.80 0 1,0 -3.60,0M127.0,38.7a1.80,1.80 0 1,0 3.60,0a1.80,1.80 0 1,0 -3.60,0M127.9,38.2a1.80,1.80 0 1,0 3.60,0a1.80,1.80 0 1,0 -3.60,0M128.8,37.8a1.80,1.80 0 1,0 3.60,0a1.80,1.80 0 1,0 -3.60,0M129.6,37.4a1.80,1.80 0 1,0 3.60,0a1.80,1.80 0 1,0 -3.60,0M130.4,37.0a1.80,1.80 0 1,0 3.60,0a1.80,1.80 0 1,0 -3.60,0M131.3,36.6a1.80,1.80 0 1,0 3.60,0a1.80,1.80 0 1,0 -3.60,0M132.1,36.2a1.80,1.80 0 1,0 3.60,0a1.80,1.80 0 1,0 -3.60,0M132.8,35.9a1.80,1.80 0 1,0 3.60,0a1.80,1.80 0 1,0 -3.60,0M133.6,35.5a1.80,1.80 0 1,0 3.60,0a1.80,1.80 0 1,0 -3.60,0M134.4,35.1a1.80,1.80 0 1,0 3.60,0a1.80,1.80 0 1,0 -3.60,0M135.1,34.8a1.80,1.80 0 1,0 3.60,0a1.80,1.80 0 1,0 -3.60,0M135.8,34.4a1.80,1.80 0 1,0 3.60,0a1.80,1.80 0 1,0 -3.60,0M136.5,34.1a1.80,1.80 0 1,0 3.60,0a1.80,1.80 0 1,0 -3.60,0M137.2,33.8a1.80,1.80 0 1,0 3.60,0a1.80,1.80 0 1,0 -3.60,0M137.9,33.4a1.80,1.80 0 1,0 3.60,0a1.80,1.80 0 1,0 -3.60,0M138.6,33.1a1.80,1.80 0 1,0 3.60,0a1.80,1.80 0 1,0 -3.60,0M139.2,32.8a1.80,1.80 0 1,0 3.60,0a1.80,1.80 0 1,0 -3.60,0M139.9,32.5a1.80,1.80 0 1,0 3.60,0a1.80,1.80 0 1,0 -3.60,0M140.5,32.2a1.80,1.80 0 1,0 3.60,0a1.80,1.80 0 1,0 -3.60,0M141.2,31.9a1.80,1.80 0 1,0 3.60,0a1.80,1.80 0 1,0 -3.60,0M141.8,31.6a1.80,1.80 0 1,0 3.60,0a1.80,1.80 0 1,0 -3.60,0M142.4,31.3a1.80,1.80 0 1,0 3.60,0a1.80,1.80 0 1,0 -3.60,0M143.0,31.0a1.80,1.80 0 1,0 3.60,0a1.80,1.80 0 1,0 -3.60,0M143.6,30.7a1.80,1.80 0 1,0 3.60,0a1.80,1.80 0 1,0 -3.60,0M144.2,30.4a1.80,1.80 0 1,0 3.60,0a1.80,1.80 0 1,0 -3.60,0M144.7,30.1a1.80,1.80 0 1,0 3.60,0a1.80,1.80 0 1,0 -3.60,0M145.3,29.9a1.80,1.80 0 1,0 3.60,0a1.80,1.80 0 1,0 -3.60,0M145.8,29.6a1.80,1.80 0 1,0 3.60,0a1.80,1.80 0 1,0 -3.60,0M146.4,29.3a1.80,1.80 0 1,0 3.60,0a1.80,1.80 0 1,0 -3.60,0M146.9,29.1a1.80,1.80 0 1,0 3.60,0a1.80,1.80 0 1,0 -3.60,0M147.5,28.8a1.80,1.80 0 1,0 3.60,0a1.80,1.80 0 1,0 -3.60,0M148.0,28.6a1.80,1.80 0 1,0 3.60,0a1.80,1.80 0 1,0 -3.60,0M148.5,28.4a1.80,1.80 0 1,0 3.60,0a1.80,1.80 0 1,0 -3.60,0M149.0,28.1a1.80,1.80 0 1,0 3.60,0a1.80,1.80 0 1,0 -3.60,0M149.5,27.9a1.80,1.80 0 1,0 3.60,0a1.80,1.80 0 1,0 -3.60,0M150.0,27.7a1.80,1.80 0 1,0 3.60,0a1.80,1.80 0 1,0 -3.60,0M150.5,27.5a1.80,1.80 0 1,0 3.60,0a1.80,1.80 0 1,0 -3.60,0M151.0,27.3a1.80,1.80 0 1,0 3.60,0a1.80,1.80 0 1,0 -3.60,0M151.5,27.1a1.80,1.80 0 1,0 3.60,0a1.80,1.80 0 1,0 -3.60,0M152.0,27.0a1.80,1.80 0 1,0 3.60,0a1.80,1.80 0 1,0 -3.60,0M152.4,26.8a1.80,1.80 0 1,0 3.60,0a1.80,1.80 0 1,0 -3.60,0M152.9,26.7a1.80,1.80 0 1,0 3.60,0a1.80,1.80 0 1,0 -3.60,0M153.4,26.6a1.80,1.80 0 1,0 3.60,0a1.80,1.80 0 1,0 -3.60,0M153.8,26.4a1.80,1.80 0 1,0 3.60,0a1.80,1.80 0 1,0 -3.60,0M154.3,26.3a1.80,1.80 0 1,0 3.60,0a1.80,1.80 0 1,0 -3.60,0M154.7,26.2a1.80,1.80 0 1,0 3.60,0a1.80,1.80 0 1,0 -3.60,0M155.1,26.1a1.80,1.80 0 1,0 3.60,0a1.80,1.80 0 1,0 -3.60,0M155.6,26.0a1.80,1.80 0 1,0 3.60,0a1.80,1.80 0 1,0 -3.60,0M156.0,25.9a1.80,1.80 0 1,0 3.60,0a1.80,1.80 0 1,0 -3.60,0M156.4,25.8a1.80,1.80 0 1,0 3.60,0a1.80,1.80 0 1,0 -3.60,0M156.9,25.7a1.80,1.80 0 1,0 3.60,0a1.80,1.80 0 1,0 -3.60,0M157.3,25.6a1.80,1.80 0 1,0 3.60,0a1.80,1.80 0 1,0 -3.60,0M157.7,25.6a1.80,1.80 0 1,0 3.60,0a1.80,1.80 0 1,0 -3.60,0M158.1,25.5a1.80,1.80 0 1,0 3.60,0a1.80,1.80 0 1,0 -3.60,0M158.5,25.4a1.80,1.80 0 1,0 3.60,0a1.80,1.80 0 1,0 -3.60,0M158.9,25.3a1.80,1.80 0 1,0 3.60,0a1.80,1.80 0 1,0 -3.60,0M159.3,25.2a1.80,1.80 0 1,0 3.60,0a1.80,1.80 0 1,0 -3.60,0M159.7,25.2a1.80,1.80 0 1,0 3.60,0a1.80,1.80 0 1,0 -3.60,0M160.0,25.1a1.80,1.80 0 1,0 3.60,0a1.80,1.80 0 1,0 -3.60,0" fill="#111111"/>
<path d="M45.5,98.0 L46.6,97.0 L48.2,95.6 L50.1,93.9 L52.1,92.0 L54.1,90.2 L56.0,88.5 L57.8,86.9 L59.5,85.3 L61.2,83.8 L63.0,82.1 L65.0,80.4 L67.2,78.6 L69.7,76.6 L72.5,74.4 L75.4,72.1 L78.4,69.8 L81.4,67.6 L84.3,65.7 L87.3,64.0 L90.3,62.4 L93.4,60.9 L96.4,59.5 L99.1,58.3 L101.5,57.2 L103.4,56.3 L104.9,55.5 L106.2,54.9 L107.4,54.3 L108.6,53.8 L110.0,53.1 L111.6,52.4 L113.2,51.6 L114.9,50.8 L116.6,50.1 L118.3,49.3 L120.0,48.5 L121.7,47.7 L123.3,46.9 L125.0,46.1 L126.7,45.4 L128.3,44.6 L130.0,43.8 L131.7,43.0 L133.3,42.3 L135.0,41.5 L136.7,40.7 L138.3,40.0 L140.0,39.2 L141.7,38.4 L143.5,37.5 L145.3,36.7 L147.0,35.8 L148.6,35.1 L150.0,34.5 L151.1,34.0 L152.0,33.7 L152.7,33.4 L153.4,33.2 L154.1,33.0 L155.0,32.8 L156.1,32.5 L157.4,32.3 L158.7,32.0 L159.9,31.8 L161.0,31.6 L161.7,31.5" fill="none" stroke="#d898f2" stroke-width="0.8"/>
<path d="M47.2,94.5L49.2,98.0L45.2,98.0ZM53.9,88.4L55.9,91.9L51.9,91.9ZM59.6,83.3L61.7,86.7L57.6,86.7ZM64.6,78.8L66.6,82.3L62.6,82.3ZM69.1,75.2L71.1,78.6L67.0,78.6ZM73.0,72.0L75.0,75.5L71.0,75.5ZM76.6,69.2L78.6,72.7L74.6,72.7ZM79.9,66.8L81.9,70.2L77.9,70.2ZM82.9,64.7L85.0,68.1L80.9,68.1ZM85.8,62.9L87.8,66.4L83.7,66.4ZM88.4,61.5L90.4,64.9L86.4,64.9ZM90.9,60.2L92.9,63.7L88.8,63.7ZM93.2,59.1L95.2,62.6L91.1,62.6ZM95.3,58.1L97.4,61.6L93.3,61.6ZM97.4,57.2L99.4,60.6L95.4,60.6ZM99.4,56.3L101.4,59.7L97.4,59.7ZM101.2,55.4L103.3,58.9L99.2,58.9ZM103.0,54.5L105.0,58.0L101.0,58.0ZM104.7,53.7L106.7,57.2L102.7,57.2ZM106.4,52.9L108.4,56.4L104.4,56.4ZM107.9,52.2L109.9,55.6L105.9,55.6ZM109.4,51.4L111.5,54.9L107.4,54.9ZM110.9,50.8L112.9,54.2L108.9,54.2ZM112.3,50.1L114.3,53.6L110.3,53.6ZM113.6,49.5L115.7,53.0L111.6,53.0ZM114.9,48.9L117.0,52.4L112.9,52.4ZM116.2,48.3L118.2,51.8L114.2,51.8ZM117.4,47.8L119.4,51.2L115.4,51.2ZM118.6,47.2L120.6,50.7L116.6,50.7ZM119.8,46.7L121.8,50.1L117.7,50.1ZM120.9,46.2L122.9,49.6L118.9,49.6ZM122.0,45.7L124.0,49.1L119.9,49.1ZM123.0,45.2L125.0,48.6L121.0,48.6ZM124.0,44.7L126.1,48.1L122.0,48.1ZM125.0,44.2L127.1,47.7L123.0,47.7ZM126.0,43.7L128.0,47.2L124.0,47.2ZM127.0,43.3L129.0,46.8L125.0,46.8ZM127.9,42.9L129.9,46.3L125.9,46.3ZM128.8,42.4L130.8,45.9L126.8,45.9ZM129.7,42.0L131.7,45.5L127.7,45.5ZM130.6,41.6L132.6,45.1L128.6,45.1ZM131.4,41.2L133.4,44.7L129.4,44.7ZM132.2,40.8L134.3,44.3L130.2,44.3ZM133.1,40.5L135.1,43.9L131.0,43.9ZM133.9,40.1L135.9,43.6L131.8,43.6ZM134.6,39.7L136.7,43.2L132.6,43.2ZM135.4,39.4L137.4,42.9L133.4,42.9ZM136.2,39.1L138.2,42.5L134.1,42.5ZM136.9,38.7L138.9,42.2L134.9,42.2ZM137.6,38.4L139.6,41.8L135.6,41.8ZM138.3,38.1L140.3,41.5L136.3,41.5ZM139.0,37.7L141.0,41.2L137.0,41.2ZM139.7,37.4L141.7,40.9L137.7,40.9ZM140.4,37.1L142.4,40.6L138.4,40.6ZM141.0,36.8L143.1,40.2L139.0,40.2ZM141.7,36.5L143.7,39.9L139.7,39.9ZM142.3,36.2L144.3,39.6L140.3,39.6ZM143.0,35.9L145.0,39.3L140.9,39.3ZM143.6,35.6L145.6,39.0L141.6,39.0ZM144.2,35.3L146.2,38.7L142.2,38.7ZM144.8,35.0L146.8,38.5L142.8,38.5ZM145.4,34.7L147.4,38.2L143.4,38.2ZM146.0,34.4L148.0,37.9L143.9,37.9ZM146.5,34.2L148.5,37.6L144.5,37.6ZM147.1,33.9L149.1,37.4L145.1,37.4ZM147.6,33.6L149.7,37.1L145.6,37.1ZM148.2,33.4L150.2,36.8L146.2,36.8ZM148.7,33.1L150.8,36.6L146.7,36.6ZM149.3,32.9L151.3,36.4L147.3,36.4ZM149.8,32.7L151.8,36.1L147.8,36.1ZM150.3,32.4L152.3,35.9L148.3,35.9ZM150.8,32.2L152.8,35.7L148.8,35.7ZM151.3,32.0L153.4,35.5L149.3,35.5ZM151.8,31.8L153.9,35.3L149.8,35.3ZM152.3,31.6L154.3,35.1L150.3,35.1ZM152.8,31.5L154.8,34.9L150.8,34.9ZM153.3,31.3L155.3,34.8L151.3,34.8ZM153.8,31.2L155.8,34.7L151.8,34.7ZM154.2,31.1L156.3,34.5L152.2,34.5ZM154.7,31.0L156.7,34.4L152.7,34.4ZM155.2,30.8L157.2,34.3L153.2,34.3ZM155.6,30.7L157.6,34.2L153.6,34.2ZM156.1,30.6L158.1,34.1L154.1,34.1ZM156.5,30.5L158.5,34.0L154.5,34.0ZM156.9,30.5L159.0,33.9L154.9,33.9ZM157.4,30.4L159.4,33.8L155.4,33.8ZM157.8,30.3L159.8,33.7L155.8,33.7ZM158.2,30.2L160.2,33.7L156.2,33.7ZM158.7,30.1L160.7,33.6L156.6,33.6ZM159.1,30.1L161.1,33.5L157.0,33.5ZM159.5,30.0L161.5,33.4L157.5,33.4ZM159.9,29.9L161.9,33.4L157.9,33.4ZM160.3,29.8L162.3,33.3L158.3,33.3ZM160.7,29.8L162.7,33.2L158.7,33.2ZM161.1,29.7L163.1,33.2L159.1,33.2ZM161.5,29.6L163.5,33.1L159.4,33.1ZM161.8,29.6L163.9,33.0L159.8,33.0Z" fill="#d898f2"/>
<path d="M42.5,104.1 L43.4,103.3 L44.6,102.2 L46.1,100.9 L47.6,99.6 L49.2,98.3 L50.5,97.1 L51.6,96.1 L52.6,95.2 L53.6,94.4 L54.6,93.5 L55.7,92.6 L57.0,91.6 L58.4,90.5 L59.9,89.4 L61.4,88.3 L63.2,87.0 L65.1,85.6 L67.2,84.1 L69.6,82.3 L72.4,80.3 L75.3,78.2 L78.3,76.0 L81.4,74.0 L84.3,72.1 L87.3,70.4 L90.3,68.8 L93.4,67.3 L96.4,65.8 L99.1,64.5 L101.5,63.4 L103.4,62.5 L104.9,61.7 L106.2,61.1 L107.4,60.5 L108.6,60.0 L110.0,59.3 L111.6,58.5 L113.2,57.8 L114.9,57.0 L116.6,56.1 L118.3,55.3 L120.0,54.5 L121.7,53.7 L123.3,52.9 L125.0,52.1 L126.7,51.2 L128.3,50.4 L130.0,49.6 L131.7,48.8 L133.3,48.0 L135.0,47.2 L136.7,46.4 L138.3,45.6 L140.0,44.8 L141.7,43.9 L143.5,43.0 L145.3,42.1 L147.0,41.3 L148.6,40.5 L150.0,39.9 L151.1,39.5 L152.0,39.2 L152.7,38.9 L153.4,38.8 L154.1,38.6 L155.0,38.4 L156.1,38.1 L157.4,37.8 L158.7,37.5 L159.9,37.2 L161.0,37.0 L161.7,36.8" fill="none" stroke="#3044ea" stroke-width="0.8"/>
<path d="M49.1,100.0L45.7,97.9L45.7,102.0ZM55.8,94.1L52.4,92.1L52.4,96.1ZM61.6,89.6L58.1,87.6L58.1,91.6ZM66.6,85.9L63.1,83.9L63.1,88.0ZM71.0,82.8L67.5,80.7L67.5,84.8ZM74.9,79.8L71.5,77.8L71.5,81.9ZM78.5,77.2L75.1,75.2L75.1,79.3ZM81.8,75.0L78.4,72.9L78.4,77.0ZM84.9,73.0L81.4,70.9L81.4,75.0ZM87.7,71.3L84.2,69.2L84.2,73.3ZM90.3,69.8L86.9,67.8L86.9,71.8ZM92.8,68.5L89.3,66.5L89.3,70.6ZM95.1,67.4L91.6,65.4L91.6,69.4ZM97.3,66.3L93.8,64.3L93.8,68.4ZM99.3,65.4L95.9,63.3L95.9,67.4ZM101.3,64.4L97.8,62.4L97.8,66.4ZM103.2,63.5L99.7,61.5L99.7,65.5ZM104.9,62.6L101.5,60.6L101.5,64.7ZM106.7,61.8L103.2,59.8L103.2,63.8ZM108.3,61.0L104.8,59.0L104.8,63.0ZM109.9,60.3L106.4,58.3L106.4,62.3ZM111.4,59.6L107.9,57.6L107.9,61.6ZM112.8,58.9L109.4,56.9L109.4,60.9ZM114.2,58.2L110.8,56.2L110.8,60.2ZM115.6,57.6L112.1,55.5L112.1,59.6ZM116.9,56.9L113.4,54.9L113.4,58.9ZM118.1,56.3L114.7,54.3L114.7,58.3ZM119.3,55.7L115.9,53.7L115.9,57.8ZM120.5,55.2L117.1,53.2L117.1,57.2ZM121.7,54.6L118.2,52.6L118.2,56.6ZM122.8,54.1L119.3,52.1L119.3,56.1ZM123.9,53.5L120.4,51.5L120.4,55.6ZM124.9,53.0L121.5,51.0L121.5,55.0ZM126.0,52.5L122.5,50.5L122.5,54.5ZM127.0,52.0L123.5,50.0L123.5,54.0ZM127.9,51.5L124.5,49.5L124.5,53.6ZM128.9,51.1L125.4,49.1L125.4,53.1ZM129.8,50.6L126.4,48.6L126.4,52.6ZM130.7,50.2L127.3,48.2L127.3,52.2ZM131.6,49.7L128.2,47.7L128.2,51.8ZM132.5,49.3L129.0,47.3L129.0,51.3ZM133.3,48.9L129.9,46.9L129.9,50.9ZM134.2,48.5L130.7,46.5L130.7,50.5ZM135.0,48.1L131.5,46.1L131.5,50.1ZM135.8,47.7L132.3,45.7L132.3,49.8ZM136.6,47.4L133.1,45.4L133.1,49.4ZM137.3,47.0L133.9,45.0L133.9,49.0ZM138.1,46.6L134.6,44.6L134.6,48.7ZM138.8,46.3L135.4,44.3L135.4,48.3ZM139.5,46.0L136.1,43.9L136.1,48.0ZM140.2,45.6L136.8,43.6L136.8,47.6ZM140.9,45.3L137.5,43.3L137.5,47.3ZM141.6,44.9L138.2,42.9L138.2,47.0ZM142.3,44.6L138.8,42.6L138.8,46.6ZM143.0,44.3L139.5,42.3L139.5,46.3ZM143.6,44.0L140.2,42.0L140.2,46.0ZM144.2,43.6L140.8,41.6L140.8,45.7ZM144.9,43.3L141.4,41.3L141.4,45.3ZM145.5,43.0L142.0,41.0L142.0,45.0ZM146.1,42.7L142.6,40.7L142.6,44.7ZM146.7,42.4L143.2,40.4L143.2,44.4ZM147.3,42.1L143.8,40.1L143.8,44.1ZM147.9,41.8L144.4,39.8L144.4,43.8ZM148.4,41.5L145.0,39.5L145.0,43.6ZM149.0,41.3L145.6,39.2L145.6,43.3ZM149.6,41.0L146.1,39.0L146.1,43.0ZM150.1,40.7L146.7,38.7L146.7,42.7ZM150.7,40.5L147.2,38.5L147.2,42.5ZM151.2,40.2L147.7,38.2L147.7,42.2ZM151.7,40.0L148.3,38.0L148.3,42.0ZM152.2,39.8L148.8,37.8L148.8,41.8ZM152.8,39.6L149.3,37.5L149.3,41.6ZM153.3,39.4L149.8,37.4L149.8,41.4ZM153.8,39.2L150.3,37.2L150.3,41.2ZM154.3,39.1L150.8,37.0L150.8,41.1ZM154.7,38.9L151.3,36.9L151.3,40.9ZM155.2,38.8L151.8,36.8L151.8,40.8ZM155.7,38.7L152.2,36.7L152.2,40.7ZM156.2,38.6L152.7,36.6L152.7,40.6ZM156.6,38.5L153.2,36.5L153.2,40.5ZM157.1,38.4L153.6,36.3L153.6,40.4ZM157.5,38.2L154.1,36.2L154.1,40.3ZM158.0,38.1L154.5,36.1L154.5,40.1ZM158.4,38.0L155.0,36.0L155.0,40.0ZM158.9,37.9L155.4,35.9L155.4,39.9ZM159.3,37.8L155.8,35.8L155.8,39.8ZM159.7,37.7L156.3,35.7L156.3,39.7ZM160.2,37.6L156.7,35.6L156.7,39.6ZM160.6,37.5L157.1,35.5L157.1,39.5ZM161.0,37.4L157.5,35.4L157.5,39.4ZM161.4,37.3L157.9,35.3L157.9,39.3ZM161.8,37.2L158.3,35.2L158.3,39.2ZM162.2,37.1L158.7,35.1L158.7,39.1ZM162.6,37.0L159.1,35.0L159.1,39.1ZM163.0,36.9L159.5,34.9L159.5,39.0ZM163.4,36.9L159.9,34.8L159.9,38.9ZM163.8,36.8L160.3,34.8L160.3,38.8Z" fill="#3044ea"/>
<path d="M42.5,102.5 L43.4,101.7 L44.6,100.6 L46.1,99.3 L47.6,98.0 L49.2,96.7 L50.5,95.5 L51.6,94.5 L52.6,93.6 L53.6,92.8 L54.6,91.9 L55.7,91.0 L57.0,90.0 L58.4,88.9 L59.9,87.8 L61.4,86.7 L63.2,85.4 L65.1,84.0 L67.2,82.5 L69.6,80.7 L72.4,78.7 L75.3,76.6 L78.3,74.4 L81.4,72.4 L84.3,70.5 L87.3,68.8 L90.3,67.2 L93.4,65.7 L96.4,64.2 L99.1,62.9 L101.5,61.8 L103.4,60.9 L104.9,60.1 L106.2,59.5 L107.4,58.9 L108.6,58.4 L110.0,57.7 L111.6,56.9 L113.2,56.2 L114.9,55.4 L116.6,54.5 L118.3,53.7 L120.0,52.9 L121.7,52.1 L123.3,51.3 L125.0,50.4 L126.7,49.6 L128.3,48.8 L130.0,48.0 L131.7,47.2 L133.3,46.4 L135.0,45.6 L136.7,44.8 L138.3,44.0 L140.0,43.2 L141.7,42.3 L143.5,41.4 L145.3,40.5 L147.0,39.7 L148.6,38.9 L150.0,38.3 L151.1,37.9 L152.0,37.6 L152.7,37.3 L153.4,37.2 L154.1,37.0 L155.0,36.8 L156.1,36.5 L157.4,36.2 L158.7,35.9 L159.9,35.6 L161.0,35.4 L161.7,35.2" fill="none" stroke="#5c1cdc" stroke-width="0.8"/>
<path d="M47.2,100.3L49.2,96.8L45.2,96.8ZM53.9,94.4L55.9,91.0L51.9,91.0ZM59.6,89.9L61.7,86.4L57.6,86.4ZM64.6,86.3L66.6,82.8L62.6,82.8ZM69.1,83.1L71.1,79.6L67.0,79.6ZM73.0,80.2L75.0,76.7L71.0,76.7ZM76.6,77.6L78.6,74.1L74.6,74.1ZM79.9,75.3L81.9,71.8L77.9,71.8ZM82.9,73.3L85.0,69.8L80.9,69.8ZM85.8,71.6L87.8,68.1L83.7,68.1ZM88.4,70.1L90.4,66.7L86.4,66.7ZM90.9,68.9L92.9,65.4L88.8,65.4ZM93.2,67.7L95.2,64.3L91.1,64.3ZM95.3,66.7L97.4,63.2L93.3,63.2ZM97.4,65.7L99.4,62.2L95.4,62.2ZM99.4,64.7L101.4,61.3L97.4,61.3ZM101.2,63.8L103.3,60.4L99.2,60.4ZM103.0,63.0L105.0,59.5L101.0,59.5ZM104.7,62.1L106.7,58.7L102.7,58.7ZM106.4,61.3L108.4,57.9L104.4,57.9ZM107.9,60.6L109.9,57.1L105.9,57.1ZM109.4,59.9L111.5,56.4L107.4,56.4ZM110.9,59.2L112.9,55.7L108.9,55.7ZM112.3,58.5L114.3,55.1L110.3,55.1ZM113.6,57.9L115.7,54.4L111.6,54.4ZM114.9,57.3L117.0,53.8L112.9,53.8ZM116.2,56.6L118.2,53.2L114.2,53.2ZM117.4,56.1L119.4,52.6L115.4,52.6ZM118.6,55.5L120.6,52.0L116.6,52.0ZM119.8,54.9L121.8,51.5L117.7,51.5ZM120.9,54.4L122.9,50.9L118.9,50.9ZM122.0,53.9L124.0,50.4L119.9,50.4ZM123.0,53.3L125.0,49.9L121.0,49.9ZM124.0,52.8L126.1,49.4L122.0,49.4ZM125.0,52.3L127.1,48.9L123.0,48.9ZM126.0,51.9L128.0,48.4L124.0,48.4ZM127.0,51.4L129.0,47.9L125.0,47.9ZM127.9,50.9L129.9,47.5L125.9,47.5ZM128.8,50.5L130.8,47.0L126.8,47.0ZM129.7,50.1L131.7,46.6L127.7,46.6ZM130.6,49.6L132.6,46.2L128.6,46.2ZM131.4,49.2L133.4,45.8L129.4,45.8ZM132.2,48.8L134.3,45.4L130.2,45.4ZM133.1,48.4L135.1,45.0L131.0,45.0ZM133.9,48.1L135.9,44.6L131.8,44.6ZM134.6,47.7L136.7,44.2L132.6,44.2ZM135.4,47.3L137.4,43.9L133.4,43.9ZM136.2,47.0L138.2,43.5L134.1,43.5ZM136.9,46.6L138.9,43.2L134.9,43.2ZM137.6,46.3L139.6,42.8L135.6,42.8ZM138.3,45.9L140.3,42.5L136.3,42.5ZM139.0,45.6L141.0,42.1L137.0,42.1ZM139.7,45.3L141.7,41.8L137.7,41.8ZM140.4,44.9L142.4,41.5L138.4,41.5ZM141.0,44.6L143.1,41.2L139.0,41.2ZM141.7,44.3L143.7,40.8L139.7,40.8ZM142.3,44.0L144.3,40.5L140.3,40.5ZM143.0,43.7L145.0,40.2L140.9,40.2ZM143.6,43.3L145.6,39.9L141.6,39.9ZM144.2,43.0L146.2,39.6L142.2,39.6ZM144.8,42.7L146.8,39.3L142.8,39.3ZM145.4,42.4L147.4,39.0L143.4,39.0ZM146.0,42.1L148.0,38.7L143.9,38.7ZM146.5,41.9L148.5,38.4L144.5,38.4ZM147.1,41.6L149.1,38.1L145.1,38.1ZM147.6,41.3L149.7,37.9L145.6,37.9ZM148.2,41.0L150.2,37.6L146.2,37.6ZM148.7,40.8L150.8,37.3L146.7,37.3ZM149.3,40.5L151.3,37.1L147.3,37.1ZM149.8,40.3L151.8,36.9L147.8,36.9ZM150.3,40.1L152.3,36.6L148.3,36.6ZM150.8,39.9L152.8,36.4L148.8,36.4ZM151.3,39.7L153.4,36.2L149.3,36.2ZM151.8,39.5L153.9,36.1L149.8,36.1ZM152.3,39.4L154.3,35.9L150.3,35.9ZM152.8,39.2L154.8,35.8L150.8,35.8ZM153.3,39.1L155.3,35.7L151.3,35.7ZM153.8,39.0L155.8,35.6L151.8,35.6ZM154.2,38.9L156.3,35.5L152.2,35.5ZM154.7,38.8L156.7,35.3L152.7,35.3ZM155.2,38.7L157.2,35.2L153.2,35.2ZM155.6,38.6L157.6,35.1L153.6,35.1ZM156.1,38.4L158.1,35.0L154.1,35.0ZM156.5,38.3L158.5,34.9L154.5,34.9ZM156.9,38.2L159.0,34.8L154.9,34.8ZM157.4,38.1L159.4,34.7L155.4,34.7ZM157.8,38.0L159.8,34.6L155.8,34.6ZM158.2,37.9L160.2,34.5L156.2,34.5ZM158.7,37.8L160.7,34.4L156.6,34.4ZM159.1,37.7L161.1,34.3L157.0,34.3ZM159.5,37.6L161.5,34.2L157.5,34.2ZM159.9,37.5L161.9,34.1L157.9,34.1ZM160.3,37.5L162.3,34.0L158.3,34.0ZM160.7,37.4L162.7,33.9L158.7,33.9ZM161.1,37.3L163.1,33.8L159.1,33.8ZM161.5,37.2L163.5,33.7L159.4,33.7ZM161.8,37.1L163.9,33.7L159.8,33.7Z" fill="#5c1cdc"/>
</g>
<clipPath id="cpc"><rect x="35.5" y="133.7" width="129.2" height="95.5"/></clipPath>
<g clip-path="url(#cpc)">
<path d="M38.5,168.5 L39.3,167.9 L40.4,167.0 L41.6,166.0 L43.0,165.0 L44.5,163.9 L46.0,163.0 L47.6,162.1 L49.3,161.3 L51.0,160.5 L52.8,159.7 L54.5,159.0 L56.0,158.5 L57.3,158.1 L58.5,157.9 L59.6,157.8 L60.7,157.7 L61.8,157.7 L63.0,157.7 L64.3,157.7 L65.7,157.8 L67.1,157.8 L68.5,158.0 L69.8,158.1 L71.0,158.3 L71.9,158.5 L72.7,158.6 L73.4,158.8 L74.1,159.1 L74.9,159.5 L76.0,160.0 L77.4,160.7 L79.0,161.7 L80.7,162.7 L82.5,163.8 L84.3,164.9 L86.0,166.0 L87.7,167.1 L89.5,168.3 L91.3,169.4 L93.0,170.6 L94.6,171.6 L96.0,172.5 L97.1,173.2 L98.0,173.7 L98.7,174.1 L99.4,174.5 L100.1,175.0 L101.0,175.5 L102.0,176.1 L103.0,176.8 L104.0,177.5 L105.2,178.3 L106.5,179.1 L107.9,180.0 L109.6,181.0 L111.6,182.1 L113.7,183.3 L115.8,184.4 L117.7,185.5 L119.3,186.3 L120.5,186.9 L121.5,187.3 L122.3,187.6 L123.1,187.8 L123.9,188.1 L125.0,188.6 L126.3,189.2 L127.6,189.9 L129.1,190.6 L130.7,191.5 L132.3,192.3 L134.0,193.2 L135.8,194.2 L137.8,195.2 L139.8,196.3 L141.9,197.4 L144.0,198.5 L146.0,199.5 L148.1,200.6 L150.3,201.7 L152.5,202.9 L154.6,203.9 L156.5,204.8 L158.0,205.5 L159.1,206.0 L160.0,206.3 L160.6,206.5 L161.0,206.6 L161.4,206.7 L161.7,206.8" fill="none" stroke="#f02828" stroke-width="1.15"/>
<path d="M45.0,172.1 L45.7,171.7 L46.6,171.2 L47.6,170.6 L48.8,170.0 L49.9,169.4 L51.0,168.9 L52.0,168.5 L53.0,168.2 L54.0,168.0 L55.0,167.7 L56.0,167.6 L57.0,167.4 L58.0,167.3 L58.9,167.2 L59.8,167.2 L60.7,167.2 L61.6,167.2 L62.5,167.2 L63.3,167.2 L64.1,167.3 L64.8,167.4 L65.6,167.5 L66.5,167.7 L67.5,167.9 L68.7,168.1 L70.0,168.4 L71.4,168.7 L72.9,169.1 L74.5,169.5 L76.0,169.9 L77.6,170.4 L79.2,170.9 L80.9,171.4 L82.6,172.0 L84.3,172.7 L86.0,173.4 L87.7,174.2 L89.5,175.1 L91.3,176.1 L93.0,177.1 L94.6,178.0 L96.0,178.7 L97.1,179.2 L98.0,179.6 L98.7,179.9 L99.4,180.1 L100.1,180.5 L101.0,180.9 L102.0,181.5 L103.0,182.1 L104.0,182.7 L105.2,183.4 L106.5,184.2 L107.9,184.9 L109.6,185.7 L111.6,186.5 L113.7,187.4 L115.8,188.3 L117.7,189.0 L119.3,189.7 L120.5,190.2 L121.5,190.6 L122.3,190.8 L123.1,191.1 L123.9,191.4 L125.0,191.9 L126.3,192.5 L127.6,193.1 L129.1,193.8 L130.7,194.5 L132.3,195.3 L134.0,196.1 L135.8,197.0 L137.8,197.9 L139.8,198.9 L141.9,199.9 L144.0,200.9 L146.0,201.8 L148.1,202.8 L150.3,203.9 L152.5,205.0 L154.6,206.0 L156.5,206.9 L158.0,207.6 L159.1,208.1 L160.0,208.3 L160.6,208.5 L161.0,208.6 L161.4,208.6 L161.7,208.7" fill="none" stroke="#a8ecf4" stroke-width="1.3"/>
<path d="M45.4,170.8L48.7,168.9L48.7,172.7ZM52.1,168.0L55.4,166.1L55.4,169.9ZM57.8,167.2L61.1,165.3L61.1,169.1ZM62.8,167.4L66.1,165.5L66.1,169.3ZM67.3,168.2L70.5,166.3L70.5,170.1ZM71.2,169.1L74.5,167.2L74.5,171.0ZM74.8,170.1L78.1,168.2L78.1,172.0ZM78.1,171.1L81.4,169.2L81.4,173.0ZM81.1,172.2L84.4,170.3L84.4,174.1ZM84.0,173.3L87.2,171.4L87.2,175.2ZM86.6,174.6L89.8,172.7L89.8,176.5ZM89.1,175.9L92.3,174.0L92.3,177.8ZM91.4,177.2L94.6,175.3L94.6,179.1ZM93.5,178.4L96.8,176.5L96.8,180.2ZM95.6,179.4L98.9,177.5L98.9,181.2ZM97.6,180.1L100.8,178.3L100.8,182.0ZM99.4,181.0L102.7,179.1L102.7,182.9ZM101.2,182.1L104.5,180.2L104.5,184.0ZM102.9,183.2L106.2,181.3L106.2,185.0ZM104.6,184.1L107.8,182.2L107.8,186.0ZM106.1,184.9L109.4,183.0L109.4,186.8ZM107.6,185.6L110.9,183.7L110.9,187.5ZM109.1,186.2L112.3,184.3L112.3,188.1ZM110.5,186.8L113.7,184.9L113.7,188.7ZM111.8,187.4L115.1,185.5L115.1,189.3ZM113.1,187.9L116.4,186.0L116.4,189.8ZM114.4,188.4L117.6,186.6L117.6,190.3ZM115.6,188.9L118.9,187.0L118.9,190.8ZM116.8,189.4L120.1,187.5L120.1,191.3ZM118.0,189.9L121.2,188.0L121.2,191.8ZM119.1,190.3L122.3,188.4L122.3,192.2ZM120.2,190.7L123.4,188.8L123.4,192.6ZM121.2,191.1L124.5,189.2L124.5,193.0ZM122.2,191.5L125.5,189.6L125.5,193.4ZM123.2,191.9L126.5,190.0L126.5,193.8ZM124.2,192.4L127.5,190.5L127.5,194.2ZM125.2,192.8L128.4,190.9L128.4,194.7ZM126.1,193.2L129.3,191.3L129.3,195.1ZM127.0,193.6L130.3,191.8L130.3,195.5ZM127.9,194.1L131.1,192.2L131.1,196.0ZM128.8,194.5L132.0,192.6L132.0,196.4ZM129.6,194.9L132.9,193.0L132.9,196.8ZM130.4,195.3L133.7,193.4L133.7,197.2ZM131.3,195.7L134.5,193.8L134.5,197.5ZM132.1,196.0L135.3,194.1L135.3,197.9ZM132.8,196.4L136.1,194.5L136.1,198.3ZM133.6,196.8L136.8,194.9L136.8,198.7ZM134.4,197.1L137.6,195.2L137.6,199.0ZM135.1,197.5L138.3,195.6L138.3,199.4ZM135.8,197.8L139.1,195.9L139.1,199.7ZM136.5,198.2L139.8,196.3L139.8,200.0ZM137.2,198.5L140.5,196.6L140.5,200.4ZM137.9,198.8L141.1,196.9L141.1,200.7ZM138.6,199.1L141.8,197.2L141.8,201.0ZM139.2,199.5L142.5,197.6L142.5,201.3ZM139.9,199.8L143.1,197.9L143.1,201.7ZM140.5,200.1L143.8,198.2L143.8,202.0ZM141.2,200.4L144.4,198.5L144.4,202.3ZM141.8,200.7L145.0,198.8L145.0,202.6ZM142.4,201.0L145.6,199.1L145.6,202.9ZM143.0,201.2L146.2,199.4L146.2,203.1ZM143.6,201.5L146.8,199.6L146.8,203.4ZM144.2,201.8L147.4,199.9L147.4,203.7ZM144.7,202.1L148.0,200.2L148.0,204.0ZM145.3,202.4L148.5,200.5L148.5,204.2ZM145.8,202.6L149.1,200.7L149.1,204.5ZM146.4,202.9L149.6,201.0L149.6,204.8ZM146.9,203.2L150.2,201.3L150.2,205.0ZM147.5,203.4L150.7,201.5L150.7,205.3ZM148.0,203.7L151.2,201.8L151.2,205.6ZM148.5,203.9L151.8,202.0L151.8,205.8ZM149.0,204.2L152.3,202.3L152.3,206.1ZM149.5,204.4L152.8,202.5L152.8,206.3ZM150.0,204.7L153.3,202.8L153.3,206.6ZM150.5,204.9L153.8,203.0L153.8,206.8ZM151.0,205.1L154.3,203.3L154.3,207.0ZM151.5,205.4L154.7,203.5L154.7,207.3ZM152.0,205.6L155.2,203.7L155.2,207.5ZM152.4,205.8L155.7,203.9L155.7,207.7ZM152.9,206.1L156.1,204.2L156.1,208.0ZM153.4,206.3L156.6,204.4L156.6,208.2ZM153.8,206.5L157.1,204.6L157.1,208.4ZM154.3,206.7L157.5,204.8L157.5,208.6ZM154.7,206.9L157.9,205.0L157.9,208.8ZM155.1,207.1L158.4,205.2L158.4,209.0ZM155.6,207.3L158.8,205.4L158.8,209.2ZM156.0,207.5L159.2,205.6L159.2,209.4ZM156.4,207.7L159.7,205.8L159.7,209.6ZM156.9,207.9L160.1,206.0L160.1,209.8ZM157.3,208.0L160.5,206.1L160.5,209.9ZM157.7,208.2L160.9,206.3L160.9,210.1ZM158.1,208.3L161.3,206.4L161.3,210.2ZM158.5,208.4L161.7,206.5L161.7,210.3ZM158.9,208.5L162.1,206.6L162.1,210.4ZM159.3,208.6L162.5,206.7L162.5,210.5ZM159.7,208.6L162.9,206.8L162.9,210.5ZM160.0,208.7L163.3,206.8L163.3,210.6Z" fill="#a8ecf4"/>
<path d="M39.5,171.8 L40.4,171.1 L41.6,170.2 L43.1,169.0 L44.6,167.8 L46.2,166.7 L47.5,165.8 L48.7,165.0 L49.8,164.3 L50.9,163.7 L51.9,163.2 L53.0,162.7 L54.0,162.2 L55.0,161.8 L56.0,161.5 L57.0,161.2 L57.9,161.0 L58.9,160.8 L59.8,160.7 L60.7,160.6 L61.6,160.6 L62.5,160.6 L63.3,160.6 L64.2,160.6 L65.0,160.7 L65.8,160.7 L66.4,160.8 L67.1,160.8 L67.8,160.9 L68.6,161.1 L69.5,161.3 L70.6,161.6 L71.8,162.0 L73.1,162.5 L74.5,163.0 L75.8,163.5 L77.0,164.0 L78.1,164.5 L79.3,165.1 L80.3,165.7 L81.4,166.3 L82.5,166.9 L83.5,167.5 L84.5,168.1 L85.5,168.6 L86.5,169.2 L87.5,169.8 L88.5,170.4 L89.5,171.0 L90.5,171.6 L91.5,172.3 L92.5,173.0 L93.5,173.7 L94.5,174.4 L95.5,175.0 L96.4,175.6 L97.3,176.1 L98.2,176.5 L99.1,177.0 L100.0,177.5 L101.0,178.1 L102.0,178.6 L103.0,179.3 L104.1,179.9 L105.2,180.6 L106.5,181.3 L107.9,182.1 L109.6,183.1 L111.6,184.2 L113.7,185.4 L115.8,186.5 L117.7,187.6 L119.3,188.4 L120.5,188.9 L121.5,189.2 L122.3,189.4 L123.1,189.6 L123.9,189.8 L125.0,190.2 L126.3,190.8 L127.6,191.5 L129.1,192.2 L130.7,193.0 L132.3,193.8 L134.0,194.7 L135.8,195.6 L137.8,196.6 L139.8,197.7 L141.9,198.7 L144.0,199.8 L146.0,200.8 L148.1,201.9 L150.3,203.0 L152.5,204.1 L154.6,205.1 L156.5,206.0 L158.0,206.7 L159.1,207.2 L160.0,207.5 L160.6,207.7 L161.0,207.8 L161.4,207.9 L161.7,208.0" fill="none" stroke="#111111" stroke-width="0.8"/>
<path d="M37.3,171.8a1.80,1.80 0 1,0 3.60,0a1.80,1.80 0 1,0 -3.60,0M45.4,166.0a1.80,1.80 0 1,0 3.60,0a1.80,1.80 0 1,0 -3.60,0M52.1,162.2a1.80,1.80 0 1,0 3.60,0a1.80,1.80 0 1,0 -3.60,0M57.8,160.7a1.80,1.80 0 1,0 3.60,0a1.80,1.80 0 1,0 -3.60,0M62.8,160.7a1.80,1.80 0 1,0 3.60,0a1.80,1.80 0 1,0 -3.60,0M67.3,161.2a1.80,1.80 0 1,0 3.60,0a1.80,1.80 0 1,0 -3.60,0M71.2,162.4a1.80,1.80 0 1,0 3.60,0a1.80,1.80 0 1,0 -3.60,0M74.8,163.8a1.80,1.80 0 1,0 3.60,0a1.80,1.80 0 1,0 -3.60,0M78.1,165.5a1.80,1.80 0 1,0 3.60,0a1.80,1.80 0 1,0 -3.60,0M81.1,167.2a1.80,1.80 0 1,0 3.60,0a1.80,1.80 0 1,0 -3.60,0M84.0,168.8a1.80,1.80 0 1,0 3.60,0a1.80,1.80 0 1,0 -3.60,0M86.6,170.3a1.80,1.80 0 1,0 3.60,0a1.80,1.80 0 1,0 -3.60,0M89.1,171.9a1.80,1.80 0 1,0 3.60,0a1.80,1.80 0 1,0 -3.60,0M91.4,173.5a1.80,1.80 0 1,0 3.60,0a1.80,1.80 0 1,0 -3.60,0M93.5,174.9a1.80,1.80 0 1,0 3.60,0a1.80,1.80 0 1,0 -3.60,0M95.6,176.1a1.80,1.80 0 1,0 3.60,0a1.80,1.80 0 1,0 -3.60,0M97.6,177.2a1.80,1.80 0 1,0 3.60,0a1.80,1.80 0 1,0 -3.60,0M99.4,178.2a1.80,1.80 0 1,0 3.60,0a1.80,1.80 0 1,0 -3.60,0M101.2,179.2a1.80,1.80 0 1,0 3.60,0a1.80,1.80 0 1,0 -3.60,0M102.9,180.3a1.80,1.80 0 1,0 3.60,0a1.80,1.80 0 1,0 -3.60,0M104.6,181.2a1.80,1.80 0 1,0 3.60,0a1.80,1.80 0 1,0 -3.60,0M106.1,182.1a1.80,1.80 0 1,0 3.60,0a1.80,1.80 0 1,0 -3.60,0M107.6,183.0a1.80,1.80 0 1,0 3.60,0a1.80,1.80 0 1,0 -3.60,0M109.1,183.8a1.80,1.80 0 1,0 3.60,0a1.80,1.80 0 1,0 -3.60,0M110.5,184.6a1.80,1.80 0 1,0 3.60,0a1.80,1.80 0 1,0 -3.60,0M111.8,185.4a1.80,1.80 0 1,0 3.60,0a1.80,1.80 0 1,0 -3.60,0M113.1,186.1a1.80,1.80 0 1,0 3.60,0a1.80,1.80 0 1,0 -3.60,0M114.4,186.8a1.80,1.80 0 1,0 3.60,0a1.80,1.80 0 1,0 -3.60,0M115.6,187.4a1.80,1.80 0 1,0 3.60,0a1.80,1.80 0 1,0 -3.60,0M116.8,188.1a1.80,1.80 0 1,0 3.60,0a1.80,1.80 0 1,0 -3.60,0M118.0,188.6a1.80,1.80 0 1,0 3.60,0a1.80,1.80 0 1,0 -3.60,0M119.1,189.0a1.80,1.80 0 1,0 3.60,0a1.80,1.80 0 1,0 -3.60,0M120.2,189.4a1.80,1.80 0 1,0 3.60,0a1.80,1.80 0 1,0 -3.60,0M121.2,189.6a1.80,1.80 0 1,0 3.60,0a1.80,1.80 0 1,0 -3.60,0M122.2,189.9a1.80,1.80 0 1,0 3.60,0a1.80,1.80 0 1,0 -3.60,0M123.2,190.3a1.80,1.80 0 1,0 3.60,0a1.80,1.80 0 1,0 -3.60,0M124.2,190.7a1.80,1.80 0 1,0 3.60,0a1.80,1.80 0 1,0 -3.60,0M125.2,191.1a1.80,1.80 0 1,0 3.60,0a1.80,1.80 0 1,0 -3.60,0M126.1,191.6a1.80,1.80 0 1,0 3.60,0a1.80,1.80 0 1,0 -3.60,0M127.0,192.0a1.80,1.80 0 1,0 3.60,0a1.80,1.80 0 1,0 -3.60,0M127.9,192.5a1.80,1.80 0 1,0 3.60,0a1.80,1.80 0 1,0 -3.60,0M128.8,192.9a1.80,1.80 0 1,0 3.60,0a1.80,1.80 0 1,0 -3.60,0M129.6,193.3a1.80,1.80 0 1,0 3.60,0a1.80,1.80 0 1,0 -3.60,0M130.4,193.8a1.80,1.80 0 1,0 3.60,0a1.80,1.80 0 1,0 -3.60,0M131.3,194.2a1.80,1.80 0 1,0 3.60,0a1.80,1.80 0 1,0 -3.60,0M132.1,194.6a1.80,1.80 0 1,0 3.60,0a1.80,1.80 0 1,0 -3.60,0M132.8,195.0a1.80,1.80 0 1,0 3.60,0a1.80,1.80 0 1,0 -3.60,0M133.6,195.4a1.80,1.80 0 1,0 3.60,0a1.80,1.80 0 1,0 -3.60,0M134.4,195.8a1.80,1.80 0 1,0 3.60,0a1.80,1.80 0 1,0 -3.60,0M135.1,196.1a1.80,1.80 0 1,0 3.60,0a1.80,1.80 0 1,0 -3.60,0M135.8,196.5a1.80,1.80 0 1,0 3.60,0a1.80,1.80 0 1,0 -3.60,0M136.5,196.9a1.80,1.80 0 1,0 3.60,0a1.80,1.80 0 1,0 -3.60,0M137.2,197.2a1.80,1.80 0 1,0 3.60,0a1.80,1.80 0 1,0 -3.60,0M137.9,197.6a1.80,1.80 0 1,0 3.60,0a1.80,1.80 0 1,0 -3.60,0M138.6,198.0a1.80,1.80 0 1,0 3.60,0a1.80,1.80 0 1,0 -3.60,0M139.2,198.3a1.80,1.80 0 1,0 3.60,0a1.80,1.80 0 1,0 -3.60,0M139.9,198.6a1.80,1.80 0 1,0 3.60,0a1.80,1.80 0 1,0 -3.60,0M140.5,199.0a1.80,1.80 0 1,0 3.60,0a1.80,1.80 0 1,0 -3.60,0M141.2,199.3a1.80,1.80 0 1,0 3.60,0a1.80,1.80 0 1,0 -3.60,0M141.8,199.6a1.80,1.80 0 1,0 3.60,0a1.80,1.80 0 1,0 -3.60,0M142.4,199.9a1.80,1.80 0 1,0 3.60,0a1.80,1.80 0 1,0 -3.60,0M143.0,200.2a1.80,1.80 0 1,0 3.60,0a1.80,1.80 0 1,0 -3.60,0M143.6,200.5a1.80,1.80 0 1,0 3.60,0a1.80,1.80 0 1,0 -3.60,0M144.2,200.8a1.80,1.80 0 1,0 3.60,0a1.80,1.80 0 1,0 -3.60,0M144.7,201.1a1.80,1.80 0 1,0 3.60,0a1.80,1.80 0 1,0 -3.60,0M145.3,201.4a1.80,1.80 0 1,0 3.60,0a1.80,1.80 0 1,0 -3.60,0M145.8,201.7a1.80,1.80 0 1,0 3.60,0a1.80,1.80 0 1,0 -3.60,0M146.4,201.9a1.80,1.80 0 1,0 3.60,0a1.80,1.80 0 1,0 -3.60,0M146.9,202.2a1.80,1.80 0 1,0 3.60,0a1.80,1.80 0 1,0 -3.60,0M147.5,202.5a1.80,1.80 0 1,0 3.60,0a1.80,1.80 0 1,0 -3.60,0M148.0,202.7a1.80,1.80 0 1,0 3.60,0a1.80,1.80 0 1,0 -3.60,0M148.5,203.0a1.80,1.80 0 1,0 3.60,0a1.80,1.80 0 1,0 -3.60,0M149.0,203.2a1.80,1.80 0 1,0 3.60,0a1.80,1.80 0 1,0 -3.60,0M149.5,203.5a1.80,1.80 0 1,0 3.60,0a1.80,1.80 0 1,0 -3.60,0M150.0,203.7a1.80,1.80 0 1,0 3.60,0a1.80,1.80 0 1,0 -3.60,0M150.5,204.0a1.80,1.80 0 1,0 3.60,0a1.80,1.80 0 1,0 -3.60,0M151.0,204.2a1.80,1.80 0 1,0 3.60,0a1.80,1.80 0 1,0 -3.60,0M151.5,204.4a1.80,1.80 0 1,0 3.60,0a1.80,1.80 0 1,0 -3.60,0M152.0,204.7a1.80,1.80 0 1,0 3.60,0a1.80,1.80 0 1,0 -3.60,0M152.4,204.9a1.80,1.80 0 1,0 3.60,0a1.80,1.80 0 1,0 -3.60,0M152.9,205.1a1.80,1.80 0 1,0 3.60,0a1.80,1.80 0 1,0 -3.60,0M153.4,205.3a1.80,1.80 0 1,0 3.60,0a1.80,1.80 0 1,0 -3.60,0M153.8,205.6a1.80,1.80 0 1,0 3.60,0a1.80,1.80 0 1,0 -3.60,0M154.3,205.8a1.80,1.80 0 1,0 3.60,0a1.80,1.80 0 1,0 -3.60,0M154.7,206.0a1.80,1.80 0 1,0 3.60,0a1.80,1.80 0 1,0 -3.60,0M155.1,206.2a1.80,1.80 0 1,0 3.60,0a1.80,1.80 0 1,0 -3.60,0M155.6,206.4a1.80,1.80 0 1,0 3.60,0a1.80,1.80 0 1,0 -3.60,0M156.0,206.6a1.80,1.80 0 1,0 3.60,0a1.80,1.80 0 1,0 -3.60,0M156.4,206.8a1.80,1.80 0 1,0 3.60,0a1.80,1.80 0 1,0 -3.60,0M156.9,207.0a1.80,1.80 0 1,0 3.60,0a1.80,1.80 0 1,0 -3.60,0M157.3,207.1a1.80,1.80 0 1,0 3.60,0a1.80,1.80 0 1,0 -3.60,0M157.7,207.3a1.80,1.80 0 1,0 3.60,0a1.80,1.80 0 1,0 -3.60,0M158.1,207.5a1.80,1.80 0 1,0 3.60,0a1.80,1.80 0 1,0 -3.60,0M158.5,207.6a1.80,1.80 0 1,0 3.60,0a1.80,1.80 0 1,0 -3.60,0M158.9,207.7a1.80,1.80 0 1,0 3.60,0a1.80,1.80 0 1,0 -3.60,0M159.3,207.8a1.80,1.80 0 1,0 3.60,0a1.80,1.80 0 1,0 -3.60,0M159.7,207.9a1.80,1.80 0 1,0 3.60,0a1.80,1.80 0 1,0 -3.60,0M160.0,208.0a1.80,1.80 0 1,0 3.60,0a1.80,1.80 0 1,0 -3.60,0" fill="#111111"/>
<path d="M45.0,171.2 L45.7,170.8 L46.6,170.3 L47.6,169.7 L48.8,169.1 L49.9,168.5 L51.0,168.0 L52.0,167.6 L53.0,167.3 L54.0,167.1 L55.0,166.8 L56.0,166.7 L57.0,166.5 L58.0,166.4 L58.9,166.3 L59.8,166.3 L60.7,166.3 L61.6,166.3 L62.5,166.3 L63.3,166.3 L64.1,166.4 L64.8,166.5 L65.6,166.6 L66.5,166.8 L67.5,167.0 L68.7,167.2 L70.0,167.5 L71.4,167.8 L72.9,168.2 L74.5,168.6 L76.0,169.0 L77.6,169.5 L79.2,170.0 L80.9,170.5 L82.6,171.1 L84.3,171.8 L86.0,172.5 L87.7,173.3 L89.5,174.2 L91.3,175.2 L93.0,176.2 L94.6,177.1 L96.0,177.8 L97.1,178.3 L98.0,178.7 L98.7,179.0 L99.4,179.3 L100.1,179.6 L101.0,180.0 L102.0,180.6 L103.0,181.2 L104.0,181.9 L105.2,182.6 L106.5,183.4 L107.9,184.1 L109.6,184.9 L111.6,185.8 L113.7,186.7 L115.8,187.6 L117.7,188.4 L119.3,189.1 L120.5,189.6 L121.5,190.0 L122.3,190.2 L123.1,190.5 L123.9,190.8 L125.0,191.3 L126.3,191.8 L127.6,192.4 L129.1,193.1 L130.7,193.8 L132.3,194.6 L134.0,195.4 L135.8,196.3 L137.8,197.2 L139.8,198.2 L141.9,199.2 L144.0,200.1 L146.0,201.1 L148.1,202.1 L150.3,203.2 L152.5,204.3 L154.6,205.3 L156.5,206.2 L158.0,206.9 L159.1,207.4 L160.0,207.6 L160.6,207.8 L161.0,207.9 L161.4,207.9 L161.7,208.0" fill="none" stroke="#d898f2" stroke-width="0.8"/>
<path d="M47.2,168.0L49.2,171.5L45.2,171.5ZM53.9,165.2L55.9,168.6L51.9,168.6ZM59.6,164.3L61.7,167.8L57.6,167.8ZM64.6,164.6L66.6,168.0L62.6,168.0ZM69.1,165.4L71.1,168.9L67.0,168.9ZM73.0,166.3L75.0,169.7L71.0,169.7ZM76.6,167.3L78.6,170.7L74.6,170.7ZM79.9,168.3L81.9,171.8L77.9,171.8ZM82.9,169.4L85.0,172.8L80.9,172.8ZM85.8,170.5L87.8,173.9L83.7,173.9ZM88.4,171.7L90.4,175.2L86.4,175.2ZM90.9,173.1L92.9,176.5L88.8,176.5ZM93.2,174.3L95.2,177.8L91.1,177.8ZM95.3,175.5L97.4,179.0L93.3,179.0ZM97.4,176.5L99.4,180.0L95.4,180.0ZM99.4,177.3L101.4,180.8L97.4,180.8ZM101.2,178.2L103.3,181.7L99.2,181.7ZM103.0,179.3L105.0,182.8L101.0,182.8ZM104.7,180.4L106.7,183.9L102.7,183.9ZM106.4,181.4L108.4,184.8L104.4,184.8ZM107.9,182.2L109.9,185.7L105.9,185.7ZM109.4,182.9L111.5,186.4L107.4,186.4ZM110.9,183.6L112.9,187.0L108.9,187.0ZM112.3,184.2L114.3,187.7L110.3,187.7ZM113.6,184.8L115.7,188.3L111.6,188.3ZM114.9,185.4L117.0,188.8L112.9,188.8ZM116.2,185.9L118.2,189.3L114.2,189.3ZM117.4,186.4L119.4,189.9L115.4,189.9ZM118.6,186.9L120.6,190.3L116.6,190.3ZM119.8,187.4L121.8,190.8L117.7,190.8ZM120.9,187.8L122.9,191.3L118.9,191.3ZM122.0,188.2L124.0,191.6L119.9,191.6ZM123.0,188.6L125.0,192.0L121.0,192.0ZM124.0,188.9L126.1,192.4L122.0,192.4ZM125.0,189.4L127.1,192.8L123.0,192.8ZM126.0,189.8L128.0,193.2L124.0,193.2ZM127.0,190.2L129.0,193.7L125.0,193.7ZM127.9,190.6L129.9,194.1L125.9,194.1ZM128.8,191.0L130.8,194.5L126.8,194.5ZM129.7,191.5L131.7,194.9L127.7,194.9ZM130.6,191.9L132.6,195.3L128.6,195.3ZM131.4,192.3L133.4,195.7L129.4,195.7ZM132.2,192.7L134.3,196.1L130.2,196.1ZM133.1,193.0L135.1,196.5L131.0,196.5ZM133.9,193.4L135.9,196.9L131.8,196.9ZM134.6,193.8L136.7,197.2L132.6,197.2ZM135.4,194.1L137.4,197.6L133.4,197.6ZM136.2,194.5L138.2,197.9L134.1,197.9ZM136.9,194.8L138.9,198.3L134.9,198.3ZM137.6,195.2L139.6,198.6L135.6,198.6ZM138.3,195.5L140.3,199.0L136.3,199.0ZM139.0,195.9L141.0,199.3L137.0,199.3ZM139.7,196.2L141.7,199.6L137.7,199.6ZM140.4,196.5L142.4,200.0L138.4,200.0ZM141.0,196.8L143.1,200.3L139.0,200.3ZM141.7,197.1L143.7,200.6L139.7,200.6ZM142.3,197.4L144.3,200.9L140.3,200.9ZM143.0,197.7L145.0,201.2L140.9,201.2ZM143.6,198.0L145.6,201.5L141.6,201.5ZM144.2,198.3L146.2,201.8L142.2,201.8ZM144.8,198.6L146.8,202.1L142.8,202.1ZM145.4,198.9L147.4,202.4L143.4,202.4ZM146.0,199.2L148.0,202.6L143.9,202.6ZM146.5,199.5L148.5,202.9L144.5,202.9ZM147.1,199.7L149.1,203.2L145.1,203.2ZM147.6,200.0L149.7,203.5L145.6,203.5ZM148.2,200.3L150.2,203.7L146.2,203.7ZM148.7,200.5L150.8,204.0L146.7,204.0ZM149.3,200.8L151.3,204.2L147.3,204.2ZM149.8,201.0L151.8,204.5L147.8,204.5ZM150.3,201.3L152.3,204.8L148.3,204.8ZM150.8,201.6L152.8,205.0L148.8,205.0ZM151.3,201.8L153.4,205.3L149.3,205.3ZM151.8,202.0L153.9,205.5L149.8,205.5ZM152.3,202.3L154.3,205.7L150.3,205.7ZM152.8,202.5L154.8,206.0L150.8,206.0ZM153.3,202.8L155.3,206.2L151.3,206.2ZM153.8,203.0L155.8,206.4L151.8,206.4ZM154.2,203.2L156.3,206.7L152.2,206.7ZM154.7,203.4L156.7,206.9L152.7,206.9ZM155.2,203.7L157.2,207.1L153.2,207.1ZM155.6,203.9L157.6,207.3L153.6,207.3ZM156.1,204.1L158.1,207.5L154.1,207.5ZM156.5,204.3L158.5,207.8L154.5,207.8ZM156.9,204.5L159.0,207.9L154.9,207.9ZM157.4,204.7L159.4,208.1L155.4,208.1ZM157.8,204.9L159.8,208.3L155.8,208.3ZM158.2,205.1L160.2,208.5L156.2,208.5ZM158.7,205.2L160.7,208.7L156.6,208.7ZM159.1,205.4L161.1,208.9L157.0,208.9ZM159.5,205.6L161.5,209.0L157.5,209.0ZM159.9,205.7L161.9,209.1L157.9,209.1ZM160.3,205.8L162.3,209.3L158.3,209.3ZM160.7,205.9L162.7,209.4L158.7,209.4ZM161.1,206.0L163.1,209.4L159.1,209.4ZM161.5,206.0L163.5,209.5L159.4,209.5ZM161.8,206.1L163.9,209.5L159.8,209.5Z" fill="#d898f2"/>
<path d="M46.5,177.0 L47.3,176.7 L48.4,176.3 L49.6,175.8 L51.0,175.3 L52.3,174.8 L53.5,174.5 L54.6,174.3 L55.6,174.1 L56.6,174.0 L57.6,173.9 L58.5,173.8 L59.5,173.8 L60.5,173.8 L61.4,173.8 L62.3,173.9 L63.3,174.0 L64.1,174.1 L65.0,174.2 L65.8,174.3 L66.5,174.3 L67.2,174.4 L67.9,174.5 L68.6,174.6 L69.5,174.8 L70.4,175.0 L71.4,175.2 L72.4,175.5 L73.5,175.8 L74.7,176.1 L76.0,176.5 L77.5,176.9 L79.1,177.4 L80.8,177.9 L82.5,178.5 L84.3,179.0 L86.0,179.5 L87.7,180.0 L89.5,180.6 L91.3,181.1 L93.0,181.6 L94.6,182.1 L96.0,182.5 L97.1,182.8 L98.0,183.0 L98.7,183.2 L99.4,183.4 L100.1,183.7 L101.0,184.0 L102.0,184.5 L103.0,185.0 L104.0,185.6 L105.2,186.2 L106.5,186.8 L107.9,187.5 L109.5,188.2 L111.2,188.9 L113.1,189.6 L115.1,190.4 L117.2,191.2 L119.3,192.0 L121.6,192.9 L124.1,193.8 L126.6,194.7 L129.2,195.7 L131.7,196.6 L134.0,197.5 L136.2,198.3 L138.2,199.1 L140.2,199.9 L142.1,200.6 L144.0,201.4 L146.0,202.1 L148.1,203.0 L150.3,203.8 L152.5,204.7 L154.6,205.5 L156.5,206.3 L158.0,206.9 L159.1,207.3 L160.0,207.6 L160.6,207.8 L161.0,207.9 L161.4,208.0 L161.7,208.1" fill="none" stroke="#3044ea" stroke-width="0.8"/>
<path d="M49.1,176.7L45.7,174.7L45.7,178.7ZM55.8,174.4L52.4,172.4L52.4,176.4ZM61.6,173.8L58.1,171.8L58.1,175.8ZM66.6,174.2L63.1,172.1L63.1,176.2ZM71.0,174.7L67.5,172.7L67.5,176.7ZM74.9,175.7L71.5,173.6L71.5,177.7ZM78.5,176.7L75.1,174.7L75.1,178.7ZM81.8,177.7L78.4,175.6L78.4,179.7ZM84.9,178.6L81.4,176.6L81.4,180.6ZM87.7,179.4L84.2,177.4L84.2,181.4ZM90.3,180.2L86.9,178.2L86.9,182.2ZM92.8,181.0L89.3,178.9L89.3,183.0ZM95.1,181.6L91.6,179.6L91.6,183.7ZM97.3,182.3L93.8,180.3L93.8,184.3ZM99.3,182.9L95.9,180.9L95.9,184.9ZM101.3,183.4L97.8,181.4L97.8,185.4ZM103.2,184.1L99.7,182.1L99.7,186.1ZM104.9,185.0L101.5,183.0L101.5,187.0ZM106.7,185.9L103.2,183.9L103.2,187.9ZM108.3,186.8L104.8,184.8L104.8,188.8ZM109.9,187.5L106.4,185.5L106.4,189.5ZM111.4,188.2L107.9,186.1L107.9,190.2ZM112.8,188.7L109.4,186.7L109.4,190.8ZM114.2,189.3L110.8,187.3L110.8,191.3ZM115.6,189.8L112.1,187.8L112.1,191.8ZM116.9,190.3L113.4,188.3L113.4,192.3ZM118.1,190.8L114.7,188.8L114.7,192.8ZM119.3,191.3L115.9,189.3L115.9,193.3ZM120.5,191.7L117.1,189.7L117.1,193.8ZM121.7,192.2L118.2,190.2L118.2,194.2ZM122.8,192.6L119.3,190.6L119.3,194.6ZM123.9,193.0L120.4,191.0L120.4,195.0ZM124.9,193.4L121.5,191.4L121.5,195.4ZM126.0,193.8L122.5,191.8L122.5,195.8ZM127.0,194.2L123.5,192.1L123.5,196.2ZM127.9,194.5L124.5,192.5L124.5,196.5ZM128.9,194.9L125.4,192.9L125.4,196.9ZM129.8,195.2L126.4,193.2L126.4,197.2ZM130.7,195.6L127.3,193.5L127.3,197.6ZM131.6,195.9L128.2,193.9L128.2,197.9ZM132.5,196.2L129.0,194.2L129.0,198.2ZM133.3,196.5L129.9,194.5L129.9,198.5ZM134.2,196.8L130.7,194.8L130.7,198.9ZM135.0,197.1L131.5,195.1L131.5,199.2ZM135.8,197.4L132.3,195.4L132.3,199.5ZM136.6,197.7L133.1,195.7L133.1,199.8ZM137.3,198.0L133.9,196.0L133.9,200.1ZM138.1,198.3L134.6,196.3L134.6,200.3ZM138.8,198.6L135.4,196.6L135.4,200.6ZM139.5,198.9L136.1,196.9L136.1,200.9ZM140.2,199.2L136.8,197.1L136.8,201.2ZM140.9,199.4L137.5,197.4L137.5,201.4ZM141.6,199.7L138.2,197.7L138.2,201.7ZM142.3,199.9L138.8,197.9L138.8,202.0ZM143.0,200.2L139.5,198.2L139.5,202.2ZM143.6,200.5L140.2,198.4L140.2,202.5ZM144.2,200.7L140.8,198.7L140.8,202.7ZM144.9,200.9L141.4,198.9L141.4,203.0ZM145.5,201.2L142.0,199.2L142.0,203.2ZM146.1,201.4L142.6,199.4L142.6,203.4ZM146.7,201.7L143.2,199.6L143.2,203.7ZM147.3,201.9L143.8,199.9L143.8,203.9ZM147.9,202.1L144.4,200.1L144.4,204.1ZM148.4,202.3L145.0,200.3L145.0,204.4ZM149.0,202.6L145.6,200.5L145.6,204.6ZM149.6,202.8L146.1,200.8L146.1,204.8ZM150.1,203.0L146.7,201.0L146.7,205.0ZM150.7,203.2L147.2,201.2L147.2,205.2ZM151.2,203.4L147.7,201.4L147.7,205.4ZM151.7,203.6L148.3,201.6L148.3,205.6ZM152.2,203.8L148.8,201.8L148.8,205.9ZM152.8,204.0L149.3,202.0L149.3,206.1ZM153.3,204.2L149.8,202.2L149.8,206.3ZM153.8,204.4L150.3,202.4L150.3,206.5ZM154.3,204.6L150.8,202.6L150.8,206.6ZM154.7,204.8L151.3,202.8L151.3,206.8ZM155.2,205.0L151.8,203.0L151.8,207.0ZM155.7,205.2L152.2,203.2L152.2,207.2ZM156.2,205.4L152.7,203.4L152.7,207.4ZM156.6,205.6L153.2,203.6L153.2,207.6ZM157.1,205.8L153.6,203.7L153.6,207.8ZM157.5,205.9L154.1,203.9L154.1,207.9ZM158.0,206.1L154.5,204.1L154.5,208.1ZM158.4,206.3L155.0,204.3L155.0,208.3ZM158.9,206.4L155.4,204.4L155.4,208.5ZM159.3,206.6L155.8,204.6L155.8,208.6ZM159.7,206.8L156.3,204.8L156.3,208.8ZM160.2,206.9L156.7,204.9L156.7,209.0ZM160.6,207.1L157.1,205.1L157.1,209.1ZM161.0,207.2L157.5,205.2L157.5,209.3ZM161.4,207.4L157.9,205.4L157.9,209.4ZM161.8,207.5L158.3,205.5L158.3,209.6ZM162.2,207.7L158.7,205.7L158.7,209.7ZM162.6,207.8L159.1,205.8L159.1,209.8ZM163.0,207.9L159.5,205.9L159.5,209.9ZM163.4,208.0L159.9,206.0L159.9,210.0ZM163.8,208.1L160.3,206.1L160.3,210.1Z" fill="#3044ea"/>
<path d="M46.5,179.0 L47.3,178.8 L48.4,178.4 L49.6,178.1 L51.0,177.7 L52.3,177.3 L53.5,177.0 L54.6,176.8 L55.6,176.6 L56.6,176.4 L57.6,176.2 L58.5,176.1 L59.5,176.0 L60.5,175.9 L61.4,175.9 L62.3,175.8 L63.3,175.8 L64.1,175.8 L65.0,175.8 L65.8,175.8 L66.5,175.8 L67.2,175.8 L67.9,175.8 L68.6,175.9 L69.5,176.0 L70.4,176.2 L71.4,176.3 L72.4,176.6 L73.5,176.8 L74.7,177.1 L76.0,177.5 L77.5,177.9 L79.1,178.4 L80.8,178.9 L82.5,179.4 L84.3,180.0 L86.0,180.5 L87.7,181.0 L89.5,181.6 L91.3,182.1 L93.0,182.6 L94.6,183.1 L96.0,183.5 L97.1,183.8 L98.0,184.0 L98.7,184.2 L99.4,184.4 L100.1,184.7 L101.0,185.0 L102.0,185.5 L103.0,186.0 L104.0,186.6 L105.2,187.2 L106.5,187.8 L107.9,188.5 L109.5,189.2 L111.2,189.9 L113.1,190.6 L115.1,191.4 L117.2,192.2 L119.3,193.0 L121.6,193.9 L124.1,194.8 L126.6,195.8 L129.2,196.7 L131.7,197.6 L134.0,198.5 L136.2,199.3 L138.2,200.1 L140.2,200.8 L142.1,201.5 L144.0,202.2 L146.0,203.0 L148.1,203.7 L150.3,204.5 L152.5,205.3 L154.6,206.1 L156.5,206.8 L158.0,207.3 L159.1,207.7 L160.0,208.0 L160.6,208.1 L161.0,208.2 L161.4,208.3 L161.7,208.4" fill="none" stroke="#5c1cdc" stroke-width="0.8"/>
<path d="M47.2,180.7L49.2,177.3L45.2,177.3ZM53.9,178.8L55.9,175.4L51.9,175.4ZM59.6,177.9L61.7,174.5L57.6,174.5ZM64.6,177.7L66.6,174.3L62.6,174.3ZM69.1,177.9L71.1,174.4L67.0,174.4ZM73.0,178.6L75.0,175.2L71.0,175.2ZM76.6,179.6L78.6,176.1L74.6,176.1ZM79.9,180.6L81.9,177.1L77.9,177.1ZM82.9,181.5L85.0,178.0L80.9,178.0ZM85.8,182.3L87.8,178.9L83.7,178.9ZM88.4,183.1L90.4,179.7L86.4,179.7ZM90.9,183.9L92.9,180.4L88.8,180.4ZM93.2,184.6L95.2,181.1L91.1,181.1ZM95.3,185.2L97.4,181.8L93.3,181.8ZM97.4,185.8L99.4,182.4L95.4,182.4ZM99.4,186.3L101.4,182.9L97.4,182.9ZM101.2,187.0L103.3,183.6L99.2,183.6ZM103.0,187.9L105.0,184.5L101.0,184.5ZM104.7,188.9L106.7,185.4L102.7,185.4ZM106.4,189.7L108.4,186.2L104.4,186.2ZM107.9,190.4L109.9,187.0L105.9,187.0ZM109.4,191.1L111.5,187.6L107.4,187.6ZM110.9,191.7L112.9,188.2L108.9,188.2ZM112.3,192.2L114.3,188.8L110.3,188.8ZM113.6,192.7L115.7,189.3L111.6,189.3ZM114.9,193.3L117.0,189.8L112.9,189.8ZM116.2,193.7L118.2,190.3L114.2,190.3ZM117.4,194.2L119.4,190.7L115.4,190.7ZM118.6,194.7L120.6,191.2L116.6,191.2ZM119.8,195.1L121.8,191.6L117.7,191.6ZM120.9,195.5L122.9,192.1L118.9,192.1ZM122.0,195.9L124.0,192.5L119.9,192.5ZM123.0,196.3L125.0,192.9L121.0,192.9ZM124.0,196.7L126.1,193.3L122.0,193.3ZM125.0,197.1L127.1,193.6L123.0,193.6ZM126.0,197.5L128.0,194.0L124.0,194.0ZM127.0,197.8L129.0,194.4L125.0,194.4ZM127.9,198.2L129.9,194.7L125.9,194.7ZM128.8,198.5L130.8,195.0L126.8,195.0ZM129.7,198.8L131.7,195.4L127.7,195.4ZM130.6,199.1L132.6,195.7L128.6,195.7ZM131.4,199.5L133.4,196.0L129.4,196.0ZM132.2,199.8L134.3,196.3L130.2,196.3ZM133.1,200.1L135.1,196.6L131.0,196.6ZM133.9,200.4L135.9,196.9L131.8,196.9ZM134.6,200.7L136.7,197.2L132.6,197.2ZM135.4,200.9L137.4,197.5L133.4,197.5ZM136.2,201.2L138.2,197.8L134.1,197.8ZM136.9,201.5L138.9,198.0L134.9,198.0ZM137.6,201.8L139.6,198.3L135.6,198.3ZM138.3,202.0L140.3,198.6L136.3,198.6ZM139.0,202.3L141.0,198.8L137.0,198.8ZM139.7,202.6L141.7,199.1L137.7,199.1ZM140.4,202.8L142.4,199.3L138.4,199.3ZM141.0,203.0L143.1,199.6L139.0,199.6ZM141.7,203.3L143.7,199.8L139.7,199.8ZM142.3,203.5L144.3,200.1L140.3,200.1ZM143.0,203.8L145.0,200.3L140.9,200.3ZM143.6,204.0L145.6,200.5L141.6,200.5ZM144.2,204.2L146.2,200.8L142.2,200.8ZM144.8,204.4L146.8,201.0L142.8,201.0ZM145.4,204.7L147.4,201.2L143.4,201.2ZM146.0,204.9L148.0,201.4L143.9,201.4ZM146.5,205.1L148.5,201.6L144.5,201.6ZM147.1,205.3L149.1,201.8L145.1,201.8ZM147.6,205.5L149.7,202.0L145.6,202.0ZM148.2,205.7L150.2,202.2L146.2,202.2ZM148.7,205.9L150.8,202.4L146.7,202.4ZM149.3,206.1L151.3,202.6L147.3,202.6ZM149.8,206.3L151.8,202.8L147.8,202.8ZM150.3,206.5L152.3,203.0L148.3,203.0ZM150.8,206.7L152.8,203.2L148.8,203.2ZM151.3,206.8L153.4,203.4L149.3,203.4ZM151.8,207.0L153.9,203.6L149.8,203.6ZM152.3,207.2L154.3,203.7L150.3,203.7ZM152.8,207.4L154.8,203.9L150.8,203.9ZM153.3,207.5L155.3,204.1L151.3,204.1ZM153.8,207.7L155.8,204.3L151.8,204.3ZM154.2,207.9L156.3,204.4L152.2,204.4ZM154.7,208.1L156.7,204.6L152.7,204.6ZM155.2,208.2L157.2,204.8L153.2,204.8ZM155.6,208.4L157.6,204.9L153.6,204.9ZM156.1,208.5L158.1,205.1L154.1,205.1ZM156.5,208.7L158.5,205.2L154.5,205.2ZM156.9,208.9L159.0,205.4L154.9,205.4ZM157.4,209.0L159.4,205.6L155.4,205.6ZM157.8,209.2L159.8,205.7L155.8,205.7ZM158.2,209.3L160.2,205.8L156.2,205.8ZM158.7,209.4L160.7,206.0L156.6,206.0ZM159.1,209.6L161.1,206.1L157.0,206.1ZM159.5,209.7L161.5,206.3L157.5,206.3ZM159.9,209.8L161.9,206.4L157.9,206.4ZM160.3,210.0L162.3,206.5L158.3,206.5ZM160.7,210.1L162.7,206.6L158.7,206.6ZM161.1,210.2L163.1,206.7L159.1,206.7ZM161.5,210.3L163.5,206.8L159.4,206.8ZM161.8,210.3L163.9,206.9L159.8,206.9Z" fill="#5c1cdc"/>
</g>
<clipPath id="cpe"><rect x="35.5" y="253.5" width="129.2" height="94.80000000000001"/></clipPath>
<g clip-path="url(#cpe)">
<path d="M38.5,327.6 L39.4,327.3 L40.6,326.8 L42.0,326.3 L43.5,325.7 L44.9,325.2 L46.0,324.7 L46.8,324.4 L47.4,324.1 L47.9,323.8 L48.5,323.6 L49.1,323.2 L50.0,322.7 L51.2,322.0 L52.5,321.3 L54.0,320.4 L55.6,319.5 L57.1,318.6 L58.6,317.6 L60.0,316.6 L61.5,315.5 L62.9,314.4 L64.3,313.3 L65.8,312.1 L67.2,310.9 L68.6,309.7 L70.0,308.5 L71.5,307.2 L72.9,305.9 L74.3,304.7 L75.7,303.4 L77.1,302.1 L78.6,300.8 L80.0,299.5 L81.4,298.2 L82.9,296.9 L84.3,295.7 L85.7,294.6 L87.2,293.5 L88.6,292.5 L90.0,291.5 L91.5,290.5 L92.9,289.6 L94.3,288.7 L95.8,287.7 L97.2,286.8 L98.6,285.9 L100.1,285.1 L101.5,284.4 L103.0,283.8 L104.5,283.2 L106.1,282.8 L107.6,282.4 L108.9,282.0 L110.0,281.7 L110.8,281.4 L111.3,281.3 L111.7,281.1 L112.1,281.0 L112.4,281.0 L113.0,280.9 L113.7,280.8 L114.5,280.8 L115.4,280.8 L116.3,280.8 L117.1,280.9 L118.0,280.9 L118.8,280.9 L119.7,281.0 L120.5,281.0 L121.3,281.1 L122.2,281.2 L123.0,281.4 L123.8,281.7 L124.7,282.0 L125.5,282.3 L126.3,282.7 L127.2,283.1 L128.0,283.4 L128.8,283.7 L129.6,283.9 L130.4,284.1 L131.2,284.4 L132.1,284.6 L133.0,284.9 L134.1,285.2 L135.3,285.5 L136.5,285.9 L137.7,286.3 L138.9,286.6 L140.0,286.9 L140.9,287.2 L141.8,287.4 L142.6,287.6 L143.4,287.8 L144.2,288.1 L145.0,288.4 L145.8,288.8 L146.7,289.2 L147.5,289.6 L148.3,290.0 L149.2,290.5 L150.0,290.9 L150.8,291.3 L151.7,291.8 L152.5,292.2 L153.3,292.6 L154.2,293.0 L155.0,293.4 L155.9,293.7 L156.8,294.1 L157.7,294.4 L158.6,294.6 L159.4,294.9 L160.0,295.1 L160.5,295.3 L160.9,295.5 L161.2,295.6 L161.4,295.7 L161.6,295.8 L161.7,295.9" fill="none" stroke="#f02828" stroke-width="1.15"/>
<path d="M45.0,327.5 L45.5,327.3 L46.2,326.9 L47.0,326.5 L47.9,326.1 L48.9,325.6 L50.0,325.0 L51.2,324.4 L52.6,323.7 L54.1,322.9 L55.6,322.1 L57.1,321.3 L58.6,320.5 L60.0,319.7 L61.5,318.9 L62.9,318.2 L64.3,317.3 L65.8,316.5 L67.2,315.5 L68.6,314.5 L70.0,313.3 L71.5,312.2 L72.9,310.9 L74.3,309.7 L75.7,308.5 L77.1,307.3 L78.6,306.0 L80.0,304.7 L81.4,303.4 L82.9,302.2 L84.3,301.0 L85.7,299.9 L87.2,298.8 L88.6,297.7 L90.0,296.6 L91.5,295.6 L92.9,294.7 L94.3,293.8 L95.8,292.9 L97.2,292.1 L98.6,291.4 L100.1,290.6 L101.5,290.0 L103.0,289.4 L104.5,288.9 L106.1,288.4 L107.6,288.0 L108.9,287.6 L110.0,287.3 L110.7,287.0 L111.1,286.7 L111.4,286.5 L111.7,286.2 L112.2,286.1 L113.0,286.0 L114.3,286.0 L116.0,286.0 L117.9,286.0 L119.8,286.2 L121.5,286.3 L123.0,286.5 L124.1,286.8 L125.0,287.1 L125.8,287.5 L126.5,287.9 L127.2,288.2 L128.0,288.5 L128.8,288.7 L129.6,288.8 L130.4,288.9 L131.2,289.1 L132.1,289.2 L133.0,289.5 L134.0,289.9 L135.1,290.3 L136.2,290.8 L137.4,291.4 L138.6,291.9 L140.0,292.5 L141.5,293.1 L143.1,293.6 L144.8,294.2 L146.6,294.9 L148.3,295.4 L150.0,296.0 L151.8,296.6 L153.6,297.1 L155.5,297.7 L157.3,298.2 L158.8,298.6 L160.0,299.0 L160.8,299.3 L161.2,299.5 L161.5,299.7 L161.6,299.8 L161.6,299.9 L161.7,300.0" fill="none" stroke="#a8ecf4" stroke-width="1.3"/>
<path d="M45.4,326.4L48.7,324.5L48.7,328.3ZM52.1,323.0L55.4,321.1L55.4,324.9ZM57.8,319.9L61.1,318.0L61.1,321.8ZM62.8,317.2L66.1,315.3L66.1,319.0ZM67.3,314.1L70.5,312.2L70.5,316.0ZM71.2,310.8L74.5,308.9L74.5,312.7ZM74.8,307.7L78.1,305.8L78.1,309.6ZM78.1,304.8L81.4,302.9L81.4,306.7ZM81.1,302.1L84.4,300.2L84.4,304.0ZM84.0,299.8L87.2,297.9L87.2,301.7ZM86.6,297.8L89.8,295.9L89.8,299.7ZM89.1,296.1L92.3,294.2L92.3,298.0ZM91.4,294.5L94.6,292.6L94.6,296.4ZM93.5,293.2L96.8,291.3L96.8,295.1ZM95.6,292.0L98.9,290.1L98.9,293.9ZM97.6,291.0L100.8,289.1L100.8,292.9ZM99.4,290.1L102.7,288.2L102.7,292.0ZM101.2,289.4L104.5,287.5L104.5,291.3ZM102.9,288.8L106.2,287.0L106.2,290.7ZM104.6,288.4L107.8,286.5L107.8,290.3ZM106.1,287.9L109.4,286.0L109.4,289.8ZM107.6,287.5L110.9,285.6L110.9,289.4ZM109.1,286.9L112.3,285.0L112.3,288.8ZM110.5,286.1L113.7,284.2L113.7,288.0ZM111.8,286.0L115.1,284.1L115.1,287.9ZM113.1,286.0L116.4,284.1L116.4,287.9ZM114.4,286.0L117.6,284.1L117.6,287.9ZM115.6,286.0L118.9,284.1L118.9,287.9ZM116.8,286.1L120.1,284.2L120.1,288.0ZM118.0,286.2L121.2,284.3L121.2,288.0ZM119.1,286.3L122.3,284.4L122.3,288.1ZM120.2,286.4L123.4,284.5L123.4,288.3ZM121.2,286.5L124.5,284.6L124.5,288.4ZM122.2,286.7L125.5,284.9L125.5,288.6ZM123.2,287.1L126.5,285.2L126.5,289.0ZM124.2,287.6L127.5,285.7L127.5,289.5ZM125.2,288.1L128.4,286.2L128.4,290.0ZM126.1,288.5L129.3,286.6L129.3,290.4ZM127.0,288.7L130.3,286.8L130.3,290.6ZM127.9,288.8L131.1,287.0L131.1,290.7ZM128.8,289.0L132.0,287.1L132.0,290.9ZM129.6,289.1L132.9,287.2L132.9,291.0ZM130.4,289.3L133.7,287.4L133.7,291.2ZM131.3,289.5L134.5,287.6L134.5,291.4ZM132.1,289.8L135.3,287.9L135.3,291.7ZM132.8,290.1L136.1,288.3L136.1,292.0ZM133.6,290.5L136.8,288.6L136.8,292.4ZM134.4,290.8L137.6,288.9L137.6,292.7ZM135.1,291.2L138.3,289.3L138.3,293.1ZM135.8,291.5L139.1,289.6L139.1,293.4ZM136.5,291.8L139.8,289.9L139.8,293.7ZM137.2,292.1L140.5,290.2L140.5,294.0ZM137.9,292.4L141.1,290.5L141.1,294.3ZM138.6,292.6L141.8,290.8L141.8,294.5ZM139.2,292.9L142.5,291.0L142.5,294.8ZM139.9,293.1L143.1,291.2L143.1,295.0ZM140.5,293.4L143.8,291.5L143.8,295.3ZM141.2,293.6L144.4,291.7L144.4,295.5ZM141.8,293.8L145.0,291.9L145.0,295.7ZM142.4,294.0L145.6,292.1L145.6,295.9ZM143.0,294.2L146.2,292.3L146.2,296.1ZM143.6,294.4L146.8,292.6L146.8,296.3ZM144.2,294.6L147.4,292.8L147.4,296.5ZM144.7,294.8L148.0,293.0L148.0,296.7ZM145.3,295.0L148.5,293.1L148.5,296.9ZM145.8,295.2L149.1,293.3L149.1,297.1ZM146.4,295.4L149.6,293.5L149.6,297.3ZM146.9,295.6L150.2,293.7L150.2,297.5ZM147.5,295.8L150.7,293.9L150.7,297.7ZM148.0,295.9L151.2,294.0L151.2,297.8ZM148.5,296.1L151.8,294.2L151.8,298.0ZM149.0,296.3L152.3,294.4L152.3,298.2ZM149.5,296.4L152.8,294.5L152.8,298.3ZM150.0,296.6L153.3,294.7L153.3,298.5ZM150.5,296.7L153.8,294.8L153.8,298.6ZM151.0,296.9L154.3,295.0L154.3,298.8ZM151.5,297.0L154.7,295.1L154.7,298.9ZM152.0,297.2L155.2,295.3L155.2,299.0ZM152.4,297.3L155.7,295.4L155.7,299.2ZM152.9,297.4L156.1,295.5L156.1,299.3ZM153.4,297.6L156.6,295.7L156.6,299.4ZM153.8,297.7L157.1,295.8L157.1,299.6ZM154.3,297.8L157.5,295.9L157.5,299.7ZM154.7,297.9L157.9,296.1L157.9,299.8ZM155.1,298.1L158.4,296.2L158.4,300.0ZM155.6,298.2L158.8,296.3L158.8,300.1ZM156.0,298.3L159.2,296.4L159.2,300.2ZM156.4,298.4L159.7,296.6L159.7,300.3ZM156.9,298.6L160.1,296.7L160.1,300.5ZM157.3,298.7L160.5,296.8L160.5,300.6ZM157.7,298.8L160.9,296.9L160.9,300.7ZM158.1,299.0L161.3,297.1L161.3,300.9ZM158.5,299.1L161.7,297.2L161.7,301.0ZM158.9,299.3L162.1,297.4L162.1,301.1ZM159.3,299.4L162.5,297.5L162.5,301.3ZM159.7,299.7L162.9,297.8L162.9,301.6ZM160.0,300.0L163.3,298.1L163.3,301.9Z" fill="#a8ecf4"/>
<path d="M39.5,328.0 L40.2,327.7 L41.3,327.3 L42.5,326.8 L43.8,326.2 L45.0,325.7 L46.0,325.3 L46.8,325.0 L47.3,324.7 L47.9,324.4 L48.4,324.2 L49.1,323.8 L50.0,323.3 L51.2,322.6 L52.5,321.9 L54.0,321.0 L55.6,320.1 L57.1,319.2 L58.6,318.2 L60.0,317.2 L61.5,316.1 L62.9,315.0 L64.3,313.9 L65.8,312.7 L67.2,311.5 L68.6,310.3 L70.0,309.1 L71.5,307.8 L72.9,306.5 L74.3,305.3 L75.7,304.0 L77.1,302.7 L78.6,301.4 L80.0,300.1 L81.4,298.8 L82.9,297.5 L84.3,296.3 L85.7,295.2 L87.2,294.1 L88.6,293.1 L90.0,292.1 L91.5,291.1 L92.9,290.2 L94.3,289.3 L95.8,288.3 L97.2,287.4 L98.6,286.5 L100.1,285.7 L101.5,285.0 L103.0,284.4 L104.5,283.8 L106.1,283.4 L107.6,283.0 L108.9,282.6 L110.0,282.3 L110.8,282.0 L111.3,281.9 L111.7,281.7 L112.1,281.6 L112.4,281.6 L113.0,281.5 L113.7,281.4 L114.5,281.4 L115.4,281.4 L116.3,281.4 L117.1,281.5 L118.0,281.5 L118.8,281.5 L119.7,281.6 L120.5,281.6 L121.3,281.7 L122.2,281.8 L123.0,282.0 L123.8,282.3 L124.7,282.6 L125.5,282.9 L126.3,283.3 L127.2,283.7 L128.0,284.0 L128.8,284.3 L129.6,284.5 L130.4,284.8 L131.2,285.0 L132.1,285.2 L133.0,285.5 L134.1,285.8 L135.3,286.1 L136.5,286.5 L137.7,286.9 L138.9,287.2 L140.0,287.5 L140.9,287.8 L141.8,288.0 L142.6,288.2 L143.4,288.4 L144.2,288.7 L145.0,289.0 L145.8,289.4 L146.7,289.8 L147.5,290.2 L148.3,290.6 L149.2,291.1 L150.0,291.5 L150.8,291.9 L151.7,292.4 L152.5,292.8 L153.3,293.2 L154.2,293.6 L155.0,294.0 L155.9,294.3 L156.8,294.7 L157.7,295.0 L158.6,295.2 L159.4,295.5 L160.0,295.7 L160.5,295.9 L160.9,296.1 L161.2,296.2 L161.4,296.3 L161.6,296.4 L161.7,296.5" fill="none" stroke="#111111" stroke-width="0.8"/>
<path d="M37.3,328.0a1.80,1.80 0 1,0 3.60,0a1.80,1.80 0 1,0 -3.60,0M46.2,324.8a1.05,1.05 0 1,0 2.10,0a1.05,1.05 0 1,0 -2.10,0M52.9,321.1a1.05,1.05 0 1,0 2.10,0a1.05,1.05 0 1,0 -2.10,0M58.6,317.5a1.05,1.05 0 1,0 2.10,0a1.05,1.05 0 1,0 -2.10,0M63.6,313.6a1.05,1.05 0 1,0 2.10,0a1.05,1.05 0 1,0 -2.10,0M67.3,309.9a1.80,1.80 0 1,0 3.60,0a1.80,1.80 0 1,0 -3.60,0M71.2,306.4a1.80,1.80 0 1,0 3.60,0a1.80,1.80 0 1,0 -3.60,0M74.8,303.2a1.80,1.80 0 1,0 3.60,0a1.80,1.80 0 1,0 -3.60,0M78.1,300.1a1.80,1.80 0 1,0 3.60,0a1.80,1.80 0 1,0 -3.60,0M81.1,297.4a1.80,1.80 0 1,0 3.60,0a1.80,1.80 0 1,0 -3.60,0M84.0,295.2a1.80,1.80 0 1,0 3.60,0a1.80,1.80 0 1,0 -3.60,0M86.6,293.2a1.80,1.80 0 1,0 3.60,0a1.80,1.80 0 1,0 -3.60,0M89.1,291.6a1.80,1.80 0 1,0 3.60,0a1.80,1.80 0 1,0 -3.60,0M91.4,290.0a1.80,1.80 0 1,0 3.60,0a1.80,1.80 0 1,0 -3.60,0M93.5,288.6a1.80,1.80 0 1,0 3.60,0a1.80,1.80 0 1,0 -3.60,0M95.6,287.3a1.80,1.80 0 1,0 3.60,0a1.80,1.80 0 1,0 -3.60,0M97.6,286.1a1.80,1.80 0 1,0 3.60,0a1.80,1.80 0 1,0 -3.60,0M99.4,285.1a1.80,1.80 0 1,0 3.60,0a1.80,1.80 0 1,0 -3.60,0M101.2,284.4a1.80,1.80 0 1,0 3.60,0a1.80,1.80 0 1,0 -3.60,0M102.9,283.8a1.80,1.80 0 1,0 3.60,0a1.80,1.80 0 1,0 -3.60,0M104.6,283.3a1.80,1.80 0 1,0 3.60,0a1.80,1.80 0 1,0 -3.60,0M106.1,282.9a1.80,1.80 0 1,0 3.60,0a1.80,1.80 0 1,0 -3.60,0M107.6,282.5a1.80,1.80 0 1,0 3.60,0a1.80,1.80 0 1,0 -3.60,0M109.1,282.0a1.80,1.80 0 1,0 3.60,0a1.80,1.80 0 1,0 -3.60,0M110.5,281.6a1.80,1.80 0 1,0 3.60,0a1.80,1.80 0 1,0 -3.60,0M111.8,281.5a1.80,1.80 0 1,0 3.60,0a1.80,1.80 0 1,0 -3.60,0M113.1,281.4a1.80,1.80 0 1,0 3.60,0a1.80,1.80 0 1,0 -3.60,0M114.4,281.4a1.80,1.80 0 1,0 3.60,0a1.80,1.80 0 1,0 -3.60,0M115.6,281.5a1.80,1.80 0 1,0 3.60,0a1.80,1.80 0 1,0 -3.60,0M116.8,281.5a1.80,1.80 0 1,0 3.60,0a1.80,1.80 0 1,0 -3.60,0M118.0,281.6a1.80,1.80 0 1,0 3.60,0a1.80,1.80 0 1,0 -3.60,0M119.1,281.7a1.80,1.80 0 1,0 3.60,0a1.80,1.80 0 1,0 -3.60,0M120.2,281.8a1.80,1.80 0 1,0 3.60,0a1.80,1.80 0 1,0 -3.60,0M121.2,282.0a1.80,1.80 0 1,0 3.60,0a1.80,1.80 0 1,0 -3.60,0M122.2,282.3a1.80,1.80 0 1,0 3.60,0a1.80,1.80 0 1,0 -3.60,0M123.2,282.7a1.80,1.80 0 1,0 3.60,0a1.80,1.80 0 1,0 -3.60,0M124.2,283.2a1.80,1.80 0 1,0 3.60,0a1.80,1.80 0 1,0 -3.60,0M125.2,283.6a1.80,1.80 0 1,0 3.60,0a1.80,1.80 0 1,0 -3.60,0M126.1,284.0a1.80,1.80 0 1,0 3.60,0a1.80,1.80 0 1,0 -3.60,0M127.0,284.3a1.80,1.80 0 1,0 3.60,0a1.80,1.80 0 1,0 -3.60,0M127.9,284.6a1.80,1.80 0 1,0 3.60,0a1.80,1.80 0 1,0 -3.60,0M128.8,284.8a1.80,1.80 0 1,0 3.60,0a1.80,1.80 0 1,0 -3.60,0M129.6,285.0a1.80,1.80 0 1,0 3.60,0a1.80,1.80 0 1,0 -3.60,0M130.4,285.3a1.80,1.80 0 1,0 3.60,0a1.80,1.80 0 1,0 -3.60,0M131.3,285.5a1.80,1.80 0 1,0 3.60,0a1.80,1.80 0 1,0 -3.60,0M132.1,285.7a1.80,1.80 0 1,0 3.60,0a1.80,1.80 0 1,0 -3.60,0M132.8,286.0a1.80,1.80 0 1,0 3.60,0a1.80,1.80 0 1,0 -3.60,0M133.6,286.2a1.80,1.80 0 1,0 3.60,0a1.80,1.80 0 1,0 -3.60,0M134.4,286.4a1.80,1.80 0 1,0 3.60,0a1.80,1.80 0 1,0 -3.60,0M135.1,286.6a1.80,1.80 0 1,0 3.60,0a1.80,1.80 0 1,0 -3.60,0M135.8,286.8a1.80,1.80 0 1,0 3.60,0a1.80,1.80 0 1,0 -3.60,0M136.5,287.0a1.80,1.80 0 1,0 3.60,0a1.80,1.80 0 1,0 -3.60,0M137.2,287.2a1.80,1.80 0 1,0 3.60,0a1.80,1.80 0 1,0 -3.60,0M137.9,287.4a1.80,1.80 0 1,0 3.60,0a1.80,1.80 0 1,0 -3.60,0M138.6,287.6a1.80,1.80 0 1,0 3.60,0a1.80,1.80 0 1,0 -3.60,0M139.2,287.8a1.80,1.80 0 1,0 3.60,0a1.80,1.80 0 1,0 -3.60,0M139.9,288.0a1.80,1.80 0 1,0 3.60,0a1.80,1.80 0 1,0 -3.60,0M140.5,288.1a1.80,1.80 0 1,0 3.60,0a1.80,1.80 0 1,0 -3.60,0M141.2,288.3a1.80,1.80 0 1,0 3.60,0a1.80,1.80 0 1,0 -3.60,0M141.8,288.5a1.80,1.80 0 1,0 3.60,0a1.80,1.80 0 1,0 -3.60,0M142.4,288.7a1.80,1.80 0 1,0 3.60,0a1.80,1.80 0 1,0 -3.60,0M143.0,288.9a1.80,1.80 0 1,0 3.60,0a1.80,1.80 0 1,0 -3.60,0M143.6,289.2a1.80,1.80 0 1,0 3.60,0a1.80,1.80 0 1,0 -3.60,0M144.2,289.4a1.80,1.80 0 1,0 3.60,0a1.80,1.80 0 1,0 -3.60,0M144.7,289.7a1.80,1.80 0 1,0 3.60,0a1.80,1.80 0 1,0 -3.60,0M145.3,290.0a1.80,1.80 0 1,0 3.60,0a1.80,1.80 0 1,0 -3.60,0M145.8,290.3a1.80,1.80 0 1,0 3.60,0a1.80,1.80 0 1,0 -3.60,0M146.4,290.6a1.80,1.80 0 1,0 3.60,0a1.80,1.80 0 1,0 -3.60,0M146.9,290.8a1.80,1.80 0 1,0 3.60,0a1.80,1.80 0 1,0 -3.60,0M147.5,291.1a1.80,1.80 0 1,0 3.60,0a1.80,1.80 0 1,0 -3.60,0M148.0,291.4a1.80,1.80 0 1,0 3.60,0a1.80,1.80 0 1,0 -3.60,0M148.5,291.7a1.80,1.80 0 1,0 3.60,0a1.80,1.80 0 1,0 -3.60,0M149.0,291.9a1.80,1.80 0 1,0 3.60,0a1.80,1.80 0 1,0 -3.60,0M149.5,292.2a1.80,1.80 0 1,0 3.60,0a1.80,1.80 0 1,0 -3.60,0M150.0,292.5a1.80,1.80 0 1,0 3.60,0a1.80,1.80 0 1,0 -3.60,0M150.5,292.7a1.80,1.80 0 1,0 3.60,0a1.80,1.80 0 1,0 -3.60,0M151.0,293.0a1.80,1.80 0 1,0 3.60,0a1.80,1.80 0 1,0 -3.60,0M151.5,293.2a1.80,1.80 0 1,0 3.60,0a1.80,1.80 0 1,0 -3.60,0M152.0,293.4a1.80,1.80 0 1,0 3.60,0a1.80,1.80 0 1,0 -3.60,0M152.4,293.7a1.80,1.80 0 1,0 3.60,0a1.80,1.80 0 1,0 -3.60,0M152.9,293.9a1.80,1.80 0 1,0 3.60,0a1.80,1.80 0 1,0 -3.60,0M153.4,294.1a1.80,1.80 0 1,0 3.60,0a1.80,1.80 0 1,0 -3.60,0M153.8,294.2a1.80,1.80 0 1,0 3.60,0a1.80,1.80 0 1,0 -3.60,0M154.3,294.4a1.80,1.80 0 1,0 3.60,0a1.80,1.80 0 1,0 -3.60,0M154.7,294.6a1.80,1.80 0 1,0 3.60,0a1.80,1.80 0 1,0 -3.60,0M155.1,294.7a1.80,1.80 0 1,0 3.60,0a1.80,1.80 0 1,0 -3.60,0M155.6,294.9a1.80,1.80 0 1,0 3.60,0a1.80,1.80 0 1,0 -3.60,0M156.0,295.0a1.80,1.80 0 1,0 3.60,0a1.80,1.80 0 1,0 -3.60,0M156.4,295.1a1.80,1.80 0 1,0 3.60,0a1.80,1.80 0 1,0 -3.60,0M156.9,295.3a1.80,1.80 0 1,0 3.60,0a1.80,1.80 0 1,0 -3.60,0M157.3,295.4a1.80,1.80 0 1,0 3.60,0a1.80,1.80 0 1,0 -3.60,0M157.7,295.5a1.80,1.80 0 1,0 3.60,0a1.80,1.80 0 1,0 -3.60,0M158.1,295.7a1.80,1.80 0 1,0 3.60,0a1.80,1.80 0 1,0 -3.60,0M158.5,295.8a1.80,1.80 0 1,0 3.60,0a1.80,1.80 0 1,0 -3.60,0M158.9,296.0a1.80,1.80 0 1,0 3.60,0a1.80,1.80 0 1,0 -3.60,0M159.3,296.2a1.80,1.80 0 1,0 3.60,0a1.80,1.80 0 1,0 -3.60,0M159.7,296.4a1.80,1.80 0 1,0 3.60,0a1.80,1.80 0 1,0 -3.60,0M160.0,296.5a1.80,1.80 0 1,0 3.60,0a1.80,1.80 0 1,0 -3.60,0" fill="#111111"/>
<path d="M45.0,326.0 L45.5,325.8 L46.2,325.4 L47.0,325.0 L47.9,324.6 L48.9,324.1 L50.0,323.5 L51.2,322.9 L52.6,322.2 L54.1,321.4 L55.6,320.6 L57.1,319.8 L58.6,319.0 L60.0,318.2 L61.5,317.4 L62.9,316.7 L64.3,315.8 L65.8,315.0 L67.2,314.0 L68.6,313.0 L70.0,311.8 L71.5,310.7 L72.9,309.4 L74.3,308.2 L75.7,307.0 L77.1,305.8 L78.6,304.5 L80.0,303.2 L81.4,301.9 L82.9,300.7 L84.3,299.5 L85.7,298.4 L87.2,297.3 L88.6,296.2 L90.0,295.1 L91.5,294.1 L92.9,293.2 L94.3,292.3 L95.8,291.4 L97.2,290.6 L98.6,289.9 L100.1,289.1 L101.5,288.5 L103.0,287.9 L104.5,287.4 L106.1,286.9 L107.6,286.5 L108.9,286.1 L110.0,285.8 L110.7,285.5 L111.1,285.2 L111.4,285.0 L111.7,284.7 L112.2,284.6 L113.0,284.5 L114.3,284.5 L116.0,284.5 L117.9,284.5 L119.8,284.7 L121.5,284.8 L123.0,285.0 L124.1,285.3 L125.0,285.6 L125.8,286.0 L126.5,286.4 L127.2,286.7 L128.0,287.0 L128.8,287.2 L129.6,287.3 L130.4,287.4 L131.2,287.6 L132.1,287.7 L133.0,288.0 L134.0,288.4 L135.1,288.8 L136.2,289.3 L137.4,289.9 L138.6,290.4 L140.0,291.0 L141.5,291.6 L143.1,292.1 L144.8,292.8 L146.6,293.4 L148.3,293.9 L150.0,294.5 L151.8,295.1 L153.6,295.6 L155.5,296.2 L157.3,296.7 L158.8,297.1 L160.0,297.5 L160.8,297.8 L161.2,298.0 L161.5,298.2 L161.6,298.3 L161.6,298.4 L161.7,298.5" fill="none" stroke="#d898f2" stroke-width="0.8"/>
<path d="M47.2,323.0L49.2,326.4L45.2,326.4ZM53.9,319.6L55.9,323.0L51.9,323.0ZM59.6,316.5L61.7,320.0L57.6,320.0ZM64.6,313.7L66.6,317.2L62.6,317.2ZM69.1,310.7L71.1,314.2L67.0,314.2ZM73.0,307.4L75.0,310.8L71.0,310.8ZM76.6,304.3L78.6,307.7L74.6,307.7ZM79.9,301.4L81.9,304.8L77.9,304.8ZM82.9,298.7L85.0,302.2L80.9,302.2ZM85.8,296.4L87.8,299.9L83.7,299.9ZM88.4,294.4L90.4,297.9L86.4,297.9ZM90.9,292.7L92.9,296.1L88.8,296.1ZM93.2,291.1L95.2,294.6L91.1,294.6ZM95.3,289.8L97.4,293.2L93.3,293.2ZM97.4,288.6L99.4,292.0L95.4,292.0ZM99.4,287.6L101.4,291.0L97.4,291.0ZM101.2,286.7L103.3,290.2L99.2,290.2ZM103.0,286.0L105.0,289.4L101.0,289.4ZM104.7,285.4L106.7,288.9L102.7,288.9ZM106.4,284.9L108.4,288.4L104.4,288.4ZM107.9,284.5L109.9,288.0L105.9,288.0ZM109.4,284.1L111.5,287.5L107.4,287.5ZM110.9,283.5L112.9,286.9L108.9,286.9ZM112.3,282.7L114.3,286.1L110.3,286.1ZM113.6,282.6L115.7,286.0L111.6,286.0ZM114.9,282.5L117.0,286.0L112.9,286.0ZM116.2,282.6L118.2,286.0L114.2,286.0ZM117.4,282.6L119.4,286.1L115.4,286.1ZM118.6,282.7L120.6,286.1L116.6,286.1ZM119.8,282.7L121.8,286.2L117.7,286.2ZM120.9,282.8L122.9,286.3L118.9,286.3ZM122.0,282.9L124.0,286.4L119.9,286.4ZM123.0,283.1L125.0,286.5L121.0,286.5ZM124.0,283.3L126.1,286.8L122.0,286.8ZM125.0,283.7L127.1,287.1L123.0,287.1ZM126.0,284.2L128.0,287.6L124.0,287.6ZM127.0,284.7L129.0,288.1L125.0,288.1ZM127.9,285.0L129.9,288.5L125.9,288.5ZM128.8,285.3L130.8,288.7L126.8,288.7ZM129.7,285.4L131.7,288.9L127.7,288.9ZM130.6,285.5L132.6,289.0L128.6,289.0ZM131.4,285.7L133.4,289.1L129.4,289.1ZM132.2,285.9L134.3,289.3L130.2,289.3ZM133.1,286.1L135.1,289.6L131.0,289.6ZM133.9,286.4L135.9,289.9L131.8,289.9ZM134.6,286.7L136.7,290.2L132.6,290.2ZM135.4,287.1L137.4,290.5L133.4,290.5ZM136.2,287.4L138.2,290.9L134.1,290.9ZM136.9,287.7L138.9,291.2L134.9,291.2ZM137.6,288.1L139.6,291.5L135.6,291.5ZM138.3,288.4L140.3,291.8L136.3,291.8ZM139.0,288.7L141.0,292.1L137.0,292.1ZM139.7,289.0L141.7,292.4L137.7,292.4ZM140.4,289.2L142.4,292.7L138.4,292.7ZM141.0,289.5L143.1,292.9L139.0,292.9ZM141.7,289.7L143.7,293.2L139.7,293.2ZM142.3,289.9L144.3,293.4L140.3,293.4ZM143.0,290.2L145.0,293.6L140.9,293.6ZM143.6,290.4L145.6,293.8L141.6,293.8ZM144.2,290.6L146.2,294.1L142.2,294.1ZM144.8,290.8L146.8,294.3L142.8,294.3ZM145.4,291.0L147.4,294.5L143.4,294.5ZM146.0,291.2L148.0,294.7L143.9,294.7ZM146.5,291.4L148.5,294.9L144.5,294.9ZM147.1,291.6L149.1,295.1L145.1,295.1ZM147.6,291.8L149.7,295.3L145.6,295.3ZM148.2,292.0L150.2,295.4L146.2,295.4ZM148.7,292.2L150.8,295.6L146.7,295.6ZM149.3,292.3L151.3,295.8L147.3,295.8ZM149.8,292.5L151.8,296.0L147.8,296.0ZM150.3,292.7L152.3,296.1L148.3,296.1ZM150.8,292.8L152.8,296.3L148.8,296.3ZM151.3,293.0L153.4,296.5L149.3,296.5ZM151.8,293.2L153.9,296.6L149.8,296.6ZM152.3,293.3L154.3,296.8L150.3,296.8ZM152.8,293.4L154.8,296.9L150.8,296.9ZM153.3,293.6L155.3,297.0L151.3,297.0ZM153.8,293.7L155.8,297.2L151.8,297.2ZM154.2,293.9L156.3,297.3L152.2,297.3ZM154.7,294.0L156.7,297.5L152.7,297.5ZM155.2,294.1L157.2,297.6L153.2,297.6ZM155.6,294.3L157.6,297.7L153.6,297.7ZM156.1,294.4L158.1,297.9L154.1,297.9ZM156.5,294.5L158.5,298.0L154.5,298.0ZM156.9,294.6L159.0,298.1L154.9,298.1ZM157.4,294.8L159.4,298.2L155.4,298.2ZM157.8,294.9L159.8,298.4L155.8,298.4ZM158.2,295.0L160.2,298.5L156.2,298.5ZM158.7,295.2L160.7,298.6L156.6,298.6ZM159.1,295.3L161.1,298.7L157.0,298.7ZM159.5,295.4L161.5,298.9L157.5,298.9ZM159.9,295.5L161.9,299.0L157.9,299.0ZM160.3,295.7L162.3,299.1L158.3,299.1ZM160.7,295.8L162.7,299.3L158.7,299.3ZM161.1,296.0L163.1,299.5L159.1,299.5ZM161.5,296.3L163.5,299.7L159.4,299.7ZM161.8,296.6L163.9,300.0L159.8,300.0Z" fill="#d898f2"/>
<path d="M47.0,327.8 L47.3,327.7 L47.6,327.5 L48.0,327.3 L48.5,327.0 L49.1,326.7 L50.0,326.3 L51.1,325.8 L52.5,325.2 L53.9,324.5 L55.5,323.8 L57.1,323.1 L58.6,322.3 L60.0,321.5 L61.5,320.8 L62.9,320.0 L64.3,319.2 L65.8,318.3 L67.2,317.3 L68.6,316.3 L70.0,315.1 L71.5,314.0 L72.9,312.8 L74.3,311.5 L75.7,310.3 L77.1,309.0 L78.6,307.7 L80.0,306.3 L81.4,305.0 L82.9,303.7 L84.3,302.6 L85.7,301.6 L87.2,300.6 L88.6,299.8 L90.0,299.0 L91.5,298.2 L92.9,297.4 L94.3,296.6 L95.8,295.8 L97.2,295.1 L98.6,294.4 L100.1,293.7 L101.5,293.2 L103.0,292.7 L104.5,292.4 L106.1,292.1 L107.6,291.8 L108.9,291.6 L110.0,291.4 L110.7,291.2 L111.1,291.1 L111.4,290.9 L111.7,290.9 L112.2,290.8 L113.0,290.8 L114.3,290.8 L116.0,290.9 L117.9,291.0 L119.8,291.2 L121.5,291.3 L123.0,291.5 L124.1,291.7 L125.0,291.9 L125.8,292.2 L126.5,292.4 L127.2,292.7 L128.0,293.0 L128.8,293.3 L129.6,293.7 L130.4,294.0 L131.2,294.4 L132.1,294.7 L133.0,295.0 L134.0,295.2 L135.1,295.4 L136.2,295.5 L137.4,295.6 L138.6,295.8 L140.0,296.0 L141.5,296.3 L143.1,296.7 L144.8,297.2 L146.6,297.6 L148.3,298.1 L150.0,298.5 L151.8,298.9 L153.6,299.3 L155.5,299.6 L157.3,300.0 L158.8,300.3 L160.0,300.5 L160.8,300.7 L161.2,300.8 L161.5,300.9 L161.6,300.9 L161.6,301.0 L161.7,301.0" fill="none" stroke="#3044ea" stroke-width="0.8"/>
<path d="M49.1,327.7L45.7,325.7L45.7,329.7ZM55.8,324.5L52.4,322.5L52.4,326.5ZM61.6,321.8L58.1,319.7L58.1,323.8ZM66.6,319.0L63.1,317.0L63.1,321.0ZM71.0,315.9L67.5,313.9L67.5,317.9ZM74.9,312.6L71.5,310.6L71.5,314.6ZM78.5,309.5L75.1,307.5L75.1,311.5ZM81.8,306.4L78.4,304.4L78.4,308.4ZM84.9,303.7L81.4,301.7L81.4,305.7ZM87.7,301.6L84.2,299.5L84.2,303.6ZM90.3,299.9L86.9,297.9L86.9,301.9ZM92.8,298.5L89.3,296.5L89.3,300.5ZM95.1,297.3L91.6,295.2L91.6,299.3ZM97.3,296.1L93.8,294.1L93.8,298.1ZM99.3,295.0L95.9,293.0L95.9,297.0ZM101.3,294.1L97.8,292.0L97.8,296.1ZM103.2,293.3L99.7,291.3L99.7,295.3ZM104.9,292.7L101.5,290.7L101.5,294.8ZM106.7,292.3L103.2,290.3L103.2,294.4ZM108.3,292.0L104.8,290.0L104.8,294.0ZM109.9,291.8L106.4,289.7L106.4,293.8ZM111.4,291.5L107.9,289.5L107.9,293.5ZM112.8,291.2L109.4,289.1L109.4,293.2ZM114.2,290.8L110.8,288.8L110.8,292.8ZM115.6,290.8L112.1,288.8L112.1,292.8ZM116.9,290.9L113.4,288.8L113.4,292.9ZM118.1,290.9L114.7,288.9L114.7,292.9ZM119.3,291.0L115.9,289.0L115.9,293.0ZM120.5,291.1L117.1,289.1L117.1,293.1ZM121.7,291.2L118.2,289.1L118.2,293.2ZM122.8,291.3L119.3,289.2L119.3,293.3ZM123.9,291.4L120.4,289.4L120.4,293.4ZM124.9,291.5L121.5,289.5L121.5,293.5ZM126.0,291.7L122.5,289.7L122.5,293.7ZM127.0,291.9L123.5,289.9L123.5,293.9ZM127.9,292.2L124.5,290.2L124.5,294.3ZM128.9,292.6L125.4,290.6L125.4,294.6ZM129.8,293.0L126.4,290.9L126.4,295.0ZM130.7,293.3L127.3,291.3L127.3,295.3ZM131.6,293.7L128.2,291.7L128.2,295.7ZM132.5,294.1L129.0,292.1L129.0,296.1ZM133.3,294.5L129.9,292.5L129.9,296.5ZM134.2,294.8L130.7,292.8L130.7,296.8ZM135.0,295.0L131.5,293.0L131.5,297.0ZM135.8,295.2L132.3,293.2L132.3,297.2ZM136.6,295.3L133.1,293.3L133.1,297.3ZM137.3,295.4L133.9,293.4L133.9,297.4ZM138.1,295.5L134.6,293.4L134.6,297.5ZM138.8,295.5L135.4,293.5L135.4,297.6ZM139.5,295.6L136.1,293.6L136.1,297.6ZM140.2,295.7L136.8,293.7L136.8,297.7ZM140.9,295.8L137.5,293.8L137.5,297.8ZM141.6,295.9L138.2,293.9L138.2,298.0ZM142.3,296.1L138.8,294.1L138.8,298.1ZM143.0,296.2L139.5,294.2L139.5,298.2ZM143.6,296.4L140.2,294.4L140.2,298.4ZM144.2,296.5L140.8,294.5L140.8,298.6ZM144.9,296.7L141.4,294.7L141.4,298.7ZM145.5,296.9L142.0,294.8L142.0,298.9ZM146.1,297.0L142.6,295.0L142.6,299.0ZM146.7,297.2L143.2,295.2L143.2,299.2ZM147.3,297.3L143.8,295.3L143.8,299.4ZM147.9,297.5L144.4,295.5L144.4,299.5ZM148.4,297.6L145.0,295.6L145.0,299.7ZM149.0,297.8L145.6,295.8L145.6,299.8ZM149.6,297.9L146.1,295.9L146.1,299.9ZM150.1,298.1L146.7,296.1L146.7,300.1ZM150.7,298.2L147.2,296.2L147.2,300.2ZM151.2,298.3L147.7,296.3L147.7,300.3ZM151.7,298.5L148.3,296.4L148.3,300.5ZM152.2,298.6L148.8,296.6L148.8,300.6ZM152.8,298.7L149.3,296.7L149.3,300.7ZM153.3,298.8L149.8,296.8L149.8,300.8ZM153.8,298.9L150.3,296.9L150.3,300.9ZM154.3,299.0L150.8,297.0L150.8,301.0ZM154.7,299.1L151.3,297.1L151.3,301.1ZM155.2,299.2L151.8,297.2L151.8,301.2ZM155.7,299.3L152.2,297.3L152.2,301.3ZM156.2,299.4L152.7,297.4L152.7,301.4ZM156.6,299.5L153.2,297.5L153.2,301.5ZM157.1,299.6L153.6,297.5L153.6,301.6ZM157.5,299.6L154.1,297.6L154.1,301.7ZM158.0,299.7L154.5,297.7L154.5,301.7ZM158.4,299.8L155.0,297.8L155.0,301.8ZM158.9,299.9L155.4,297.9L155.4,301.9ZM159.3,300.0L155.8,298.0L155.8,302.0ZM159.7,300.1L156.3,298.0L156.3,302.1ZM160.2,300.1L156.7,298.1L156.7,302.2ZM160.6,300.2L157.1,298.2L157.1,302.2ZM161.0,300.3L157.5,298.3L157.5,302.3ZM161.4,300.4L157.9,298.4L157.9,302.4ZM161.8,300.5L158.3,298.5L158.3,302.5ZM162.2,300.6L158.7,298.5L158.7,302.6ZM162.6,300.7L159.1,298.6L159.1,302.7ZM163.0,300.8L159.5,298.7L159.5,302.8ZM163.4,300.9L159.9,298.9L159.9,302.9ZM163.8,301.0L160.3,299.0L160.3,303.0Z" fill="#3044ea"/>
<path d="M47.0,328.5 L47.3,328.4 L47.6,328.2 L48.0,328.0 L48.5,327.7 L49.1,327.4 L50.0,327.0 L51.1,326.5 L52.5,325.9 L53.9,325.2 L55.5,324.5 L57.1,323.8 L58.6,323.0 L60.0,322.2 L61.5,321.5 L62.9,320.7 L64.3,319.9 L65.8,319.0 L67.2,318.0 L68.6,316.9 L70.0,315.8 L71.5,314.6 L72.9,313.4 L74.3,312.2 L75.7,311.0 L77.1,309.8 L78.6,308.6 L80.0,307.4 L81.4,306.2 L82.9,305.1 L84.3,304.0 L85.7,303.0 L87.2,302.1 L88.6,301.3 L90.0,300.5 L91.5,299.7 L92.9,299.0 L94.3,298.3 L95.8,297.6 L97.2,297.0 L98.6,296.5 L100.1,296.0 L101.5,295.5 L103.0,295.1 L104.5,294.8 L106.1,294.6 L107.6,294.4 L108.9,294.2 L110.0,294.0 L110.7,293.8 L111.1,293.6 L111.4,293.5 L111.7,293.4 L112.2,293.3 L113.0,293.2 L114.3,293.2 L116.0,293.2 L117.9,293.2 L119.8,293.3 L121.5,293.4 L123.0,293.5 L124.1,293.6 L125.0,293.7 L125.8,293.9 L126.5,294.1 L127.2,294.3 L128.0,294.5 L128.8,294.8 L129.6,295.1 L130.4,295.4 L131.2,295.8 L132.1,296.2 L133.0,296.5 L134.0,296.8 L135.1,297.1 L136.2,297.5 L137.4,297.8 L138.6,298.1 L140.0,298.5 L141.5,298.9 L143.1,299.3 L144.8,299.8 L146.6,300.2 L148.3,300.6 L150.0,301.0 L151.8,301.4 L153.6,301.8 L155.5,302.1 L157.3,302.5 L158.8,302.8 L160.0,303.0 L160.8,303.2 L161.2,303.3 L161.5,303.4 L161.6,303.4 L161.6,303.5 L161.7,303.5" fill="none" stroke="#5c1cdc" stroke-width="0.8"/>
<path d="M47.2,330.3L49.2,326.9L45.2,326.9ZM53.9,327.1L55.9,323.7L51.9,323.7ZM59.6,324.4L61.7,320.9L57.6,320.9ZM64.6,321.6L66.6,318.1L62.6,318.1ZM69.1,318.5L71.1,315.1L67.0,315.1ZM73.0,315.2L75.0,311.7L71.0,311.7ZM76.6,312.2L78.6,308.7L74.6,308.7ZM79.9,309.4L81.9,305.9L77.9,305.9ZM82.9,306.9L85.0,303.5L80.9,303.5ZM85.8,304.9L87.8,301.5L83.7,301.5ZM88.4,303.3L90.4,299.9L86.4,299.9ZM90.9,302.0L92.9,298.5L88.8,298.5ZM93.2,300.8L95.2,297.3L91.1,297.3ZM95.3,299.8L97.4,296.3L93.3,296.3ZM97.4,298.9L99.4,295.4L95.4,295.4ZM99.4,298.1L101.4,294.7L97.4,294.7ZM101.2,297.5L103.3,294.0L99.2,294.0ZM103.0,297.0L105.0,293.6L101.0,293.6ZM104.7,296.7L106.7,293.3L102.7,293.3ZM106.4,296.5L108.4,293.0L104.4,293.0ZM107.9,296.2L109.9,292.8L105.9,292.8ZM109.4,296.0L111.5,292.6L107.4,292.6ZM110.9,295.7L112.9,292.2L108.9,292.2ZM112.3,295.2L114.3,291.7L110.3,291.7ZM113.6,295.1L115.7,291.7L111.6,291.7ZM114.9,295.1L117.0,291.6L112.9,291.6ZM116.2,295.1L118.2,291.7L114.2,291.7ZM117.4,295.1L119.4,291.7L115.4,291.7ZM118.6,295.2L120.6,291.7L116.6,291.7ZM119.8,295.2L121.8,291.8L117.7,291.8ZM120.9,295.3L122.9,291.8L118.9,291.8ZM122.0,295.3L124.0,291.9L119.9,291.9ZM123.0,295.4L125.0,292.0L121.0,292.0ZM124.0,295.5L126.1,292.1L122.0,292.1ZM125.0,295.7L127.1,292.2L123.0,292.2ZM126.0,295.9L128.0,292.4L124.0,292.4ZM127.0,296.1L129.0,292.7L125.0,292.7ZM127.9,296.4L129.9,292.9L125.9,292.9ZM128.8,296.7L130.8,293.2L126.8,293.2ZM129.7,297.1L131.7,293.6L127.7,293.6ZM130.6,297.4L132.6,294.0L128.6,294.0ZM131.4,297.8L133.4,294.4L129.4,294.4ZM132.2,298.1L134.3,294.7L130.2,294.7ZM133.1,298.4L135.1,295.0L131.0,295.0ZM133.9,298.7L135.9,295.2L131.8,295.2ZM134.6,298.9L136.7,295.5L132.6,295.5ZM135.4,299.2L137.4,295.7L133.4,295.7ZM136.2,299.4L138.2,295.9L134.1,295.9ZM136.9,299.6L138.9,296.1L134.9,296.1ZM137.6,299.8L139.6,296.3L135.6,296.3ZM138.3,300.0L140.3,296.5L136.3,296.5ZM139.0,300.2L141.0,296.7L137.0,296.7ZM139.7,300.3L141.7,296.9L137.7,296.9ZM140.4,300.5L142.4,297.1L138.4,297.1ZM141.0,300.7L143.1,297.2L139.0,297.2ZM141.7,300.9L143.7,297.4L139.7,297.4ZM142.3,301.0L144.3,297.6L140.3,297.6ZM143.0,301.2L145.0,297.7L140.9,297.7ZM143.6,301.4L145.6,297.9L141.6,297.9ZM144.2,301.5L146.2,298.1L142.2,298.1ZM144.8,301.7L146.8,298.2L142.8,298.2ZM145.4,301.8L147.4,298.4L143.4,298.4ZM146.0,302.0L148.0,298.5L143.9,298.5ZM146.5,302.1L148.5,298.6L144.5,298.6ZM147.1,302.2L149.1,298.8L145.1,298.8ZM147.6,302.4L149.7,298.9L145.6,298.9ZM148.2,302.5L150.2,299.0L146.2,299.0ZM148.7,302.6L150.8,299.2L146.7,299.2ZM149.3,302.8L151.3,299.3L147.3,299.3ZM149.8,302.9L151.8,299.4L147.8,299.4ZM150.3,303.0L152.3,299.5L148.3,299.5ZM150.8,303.1L152.8,299.6L148.8,299.6ZM151.3,303.2L153.4,299.8L149.3,299.8ZM151.8,303.3L153.9,299.9L149.8,299.9ZM152.3,303.4L154.3,300.0L150.3,300.0ZM152.8,303.5L154.8,300.1L150.8,300.1ZM153.3,303.6L155.3,300.2L151.3,300.2ZM153.8,303.7L155.8,300.2L151.8,300.2ZM154.2,303.8L156.3,300.3L152.2,300.3ZM154.7,303.9L156.7,300.4L152.7,300.4ZM155.2,304.0L157.2,300.5L153.2,300.5ZM155.6,304.1L157.6,300.6L153.6,300.6ZM156.1,304.2L158.1,300.7L154.1,300.7ZM156.5,304.2L158.5,300.8L154.5,300.8ZM156.9,304.3L159.0,300.9L154.9,300.9ZM157.4,304.4L159.4,300.9L155.4,300.9ZM157.8,304.5L159.8,301.0L155.8,301.0ZM158.2,304.6L160.2,301.1L156.2,301.1ZM158.7,304.6L160.7,301.2L156.6,301.2ZM159.1,304.7L161.1,301.3L157.0,301.3ZM159.5,304.8L161.5,301.4L157.5,301.4ZM159.9,304.9L161.9,301.4L157.9,301.4ZM160.3,305.0L162.3,301.5L158.3,301.5ZM160.7,305.1L162.7,301.6L158.7,301.6ZM161.1,305.2L163.1,301.7L159.1,301.7ZM161.5,305.3L163.5,301.8L159.4,301.8ZM161.8,305.4L163.9,302.0L159.8,302.0Z" fill="#5c1cdc"/>
</g>
<clipPath id="cpg"><rect x="35.5" y="374.4" width="129.2" height="95.40000000000003"/></clipPath>
<g clip-path="url(#cpg)">
<path d="M38.5,446.4 L39.4,445.5 L40.7,444.2 L42.2,442.7 L43.9,441.0 L45.7,439.2 L47.4,437.4 L49.2,435.5 L51.0,433.5 L53.0,431.4 L55.0,429.2 L57.0,427.0 L58.9,424.9 L60.8,422.8 L62.7,420.6 L64.6,418.4 L66.4,416.3 L68.3,414.3 L70.2,412.5 L72.1,410.9 L73.9,409.3 L75.8,407.9 L77.6,406.7 L79.5,405.6 L81.4,404.7 L83.3,404.0 L85.2,403.6 L87.1,403.3 L89.1,403.1 L91.0,403.0 L92.9,403.0 L94.9,403.1 L96.9,403.3 L99.0,403.6 L100.9,404.0 L102.7,404.4 L104.3,404.7 L105.6,405.0 L106.6,405.2 L107.5,405.4 L108.3,405.7 L109.1,406.0 L110.0,406.4 L110.9,406.9 L111.9,407.4 L112.8,408.1 L113.8,408.7 L114.8,409.4 L115.9,410.2 L117.1,411.0 L118.4,411.8 L119.7,412.7 L121.0,413.7 L122.4,414.7 L123.7,415.7 L125.0,416.8 L126.3,417.9 L127.7,419.1 L129.0,420.3 L130.3,421.5 L131.6,422.8 L132.9,424.1 L134.2,425.5 L135.5,426.9 L136.8,428.3 L138.1,429.8 L139.4,431.4 L140.7,433.1 L142.0,434.9 L143.3,436.7 L144.7,438.6 L146.0,440.5 L147.3,442.5 L148.7,444.5 L150.1,446.6 L151.5,448.7 L152.8,450.8 L154.1,452.9 L155.2,455.0 L156.2,457.1 L157.2,459.4 L158.0,461.7 L158.8,463.8 L159.4,465.5 L159.9,466.8" fill="none" stroke="#f02828" stroke-width="1.15"/>
<path d="M46.0,451.0 L47.3,449.5 L49.1,447.4 L51.2,444.9 L53.4,442.3 L55.7,439.8 L57.7,437.5 L59.5,435.5 L61.3,433.6 L63.1,431.7 L64.9,429.9 L66.7,428.2 L68.6,426.5 L70.6,424.8 L72.8,423.1 L75.0,421.5 L77.2,420.0 L79.3,418.8 L81.4,417.9 L83.4,417.4 L85.3,417.3 L87.2,417.4 L89.1,417.7 L91.0,418.1 L92.9,418.4 L94.9,418.8 L96.9,419.3 L99.0,419.9 L100.9,420.5 L102.7,421.1 L104.3,421.6 L105.5,422.1 L106.3,422.4 L107.0,422.7 L107.7,423.1 L108.7,423.7 L110.0,424.5 L111.9,425.7 L114.2,427.1 L116.7,428.8 L119.3,430.4 L121.7,432.0 L123.7,433.3 L125.4,434.3 L126.8,435.1 L128.0,435.8 L129.2,436.5 L130.4,437.2 L131.6,438.0 L132.9,438.8 L134.2,439.6 L135.5,440.5 L136.8,441.3 L138.1,442.2 L139.4,443.2 L140.7,444.1 L142.0,445.2 L143.3,446.2 L144.7,447.3 L146.0,448.4 L147.3,449.5 L148.6,450.6 L150.0,451.8 L151.3,452.9 L152.7,454.0 L154.0,455.2 L155.2,456.3 L156.4,457.5 L157.7,458.9 L158.8,460.2 L159.9,461.4 L160.8,462.5 L161.5,463.2" fill="none" stroke="#a8ecf4" stroke-width="1.3"/>
<path d="M45.4,449.6L48.7,447.7L48.7,451.5ZM52.1,441.7L55.4,439.9L55.4,443.6ZM57.8,435.4L61.1,433.5L61.1,437.3ZM62.8,430.1L66.1,428.2L66.1,432.0ZM67.3,426.1L70.5,424.2L70.5,428.0ZM71.2,422.9L74.5,421.0L74.5,424.8ZM74.8,420.4L78.1,418.5L78.1,422.3ZM78.1,418.5L81.4,416.6L81.4,420.4ZM81.1,417.5L84.4,415.6L84.4,419.4ZM84.0,417.3L87.2,415.4L87.2,419.2ZM86.6,417.6L89.8,415.7L89.8,419.5ZM89.1,418.0L92.3,416.1L92.3,419.9ZM91.4,418.5L94.6,416.6L94.6,420.3ZM93.5,418.9L96.8,417.0L96.8,420.8ZM95.6,419.4L98.9,417.5L98.9,421.3ZM97.6,420.0L100.8,418.1L100.8,421.9ZM99.4,420.6L102.7,418.7L102.7,422.5ZM101.2,421.2L104.5,419.3L104.5,423.1ZM102.9,421.8L106.2,419.9L106.2,423.7ZM104.6,422.4L107.8,420.5L107.8,424.3ZM106.1,423.2L109.4,421.4L109.4,425.1ZM107.6,424.2L110.9,422.3L110.9,426.1ZM109.1,425.1L112.3,423.2L112.3,426.9ZM110.5,425.9L113.7,424.0L113.7,427.8ZM111.8,426.8L115.1,424.9L115.1,428.7ZM113.1,427.6L116.4,425.7L116.4,429.5ZM114.4,428.4L117.6,426.6L117.6,430.3ZM115.6,429.2L118.9,427.3L118.9,431.1ZM116.8,430.0L120.1,428.1L120.1,431.9ZM118.0,430.8L121.2,428.9L121.2,432.6ZM119.1,431.5L122.3,429.6L122.3,433.4ZM120.2,432.2L123.4,430.3L123.4,434.1ZM121.2,432.8L124.5,431.0L124.5,434.7ZM122.2,433.5L125.5,431.6L125.5,435.4ZM123.2,434.1L126.5,432.2L126.5,436.0ZM124.2,434.7L127.5,432.8L127.5,436.6ZM125.2,435.2L128.4,433.4L128.4,437.1ZM126.1,435.8L129.3,433.9L129.3,437.7ZM127.0,436.3L130.3,434.4L130.3,438.2ZM127.9,436.8L131.1,434.9L131.1,438.7ZM128.8,437.3L132.0,435.4L132.0,439.2ZM129.6,437.9L132.9,436.0L132.9,439.7ZM130.4,438.4L133.7,436.5L133.7,440.3ZM131.3,438.9L134.5,437.0L134.5,440.8ZM132.1,439.4L135.3,437.5L135.3,441.3ZM132.8,439.9L136.1,438.0L136.1,441.8ZM133.6,440.4L136.8,438.5L136.8,442.3ZM134.4,440.9L137.6,439.0L137.6,442.8ZM135.1,441.4L138.3,439.5L138.3,443.3ZM135.8,441.9L139.1,440.0L139.1,443.8ZM136.5,442.4L139.8,440.5L139.8,444.3ZM137.2,442.9L140.5,441.0L140.5,444.8ZM137.9,443.4L141.1,441.5L141.1,445.3ZM138.6,443.9L141.8,442.0L141.8,445.8ZM139.2,444.4L142.5,442.5L142.5,446.3ZM139.9,444.9L143.1,443.0L143.1,446.8ZM140.5,445.4L143.8,443.5L143.8,447.3ZM141.2,445.9L144.4,444.0L144.4,447.8ZM141.8,446.4L145.0,444.5L145.0,448.3ZM142.4,446.9L145.6,445.0L145.6,448.8ZM143.0,447.4L146.2,445.5L146.2,449.3ZM143.6,447.9L146.8,446.0L146.8,449.8ZM144.2,448.4L147.4,446.5L147.4,450.3ZM144.7,448.9L148.0,447.0L148.0,450.8ZM145.3,449.4L148.5,447.5L148.5,451.3ZM145.8,449.8L149.1,447.9L149.1,451.7ZM146.4,450.3L149.6,448.4L149.6,452.2ZM146.9,450.7L150.2,448.8L150.2,452.6ZM147.5,451.2L150.7,449.3L150.7,453.1ZM148.0,451.6L151.2,449.7L151.2,453.5ZM148.5,452.0L151.8,450.2L151.8,453.9ZM149.0,452.5L152.3,450.6L152.3,454.4ZM149.5,452.9L152.8,451.0L152.8,454.8ZM150.0,453.3L153.3,451.4L153.3,455.2ZM150.5,453.7L153.8,451.8L153.8,455.6ZM151.0,454.2L154.3,452.3L154.3,456.0ZM151.5,454.6L154.7,452.7L154.7,456.5ZM152.0,455.0L155.2,453.1L155.2,456.9ZM152.4,455.4L155.7,453.5L155.7,457.3ZM152.9,455.9L156.1,454.0L156.1,457.8ZM153.4,456.3L156.6,454.4L156.6,458.2ZM153.8,456.7L157.1,454.9L157.1,458.6ZM154.3,457.2L157.5,455.3L157.5,459.1ZM154.7,457.6L157.9,455.8L157.9,459.5ZM155.1,458.1L158.4,456.2L158.4,460.0ZM155.6,458.6L158.8,456.7L158.8,460.5ZM156.0,459.0L159.2,457.1L159.2,460.9ZM156.4,459.5L159.7,457.6L159.7,461.4ZM156.9,460.0L160.1,458.1L160.1,461.9ZM157.3,460.4L160.5,458.5L160.5,462.3ZM157.7,460.9L160.9,459.0L160.9,462.8ZM158.1,461.4L161.3,459.5L161.3,463.3ZM158.5,461.8L161.7,459.9L161.7,463.7ZM158.9,462.3L162.1,460.4L162.1,464.2ZM159.3,462.7L162.5,460.8L162.5,464.6ZM159.7,463.2L162.9,461.3L162.9,465.0Z" fill="#a8ecf4"/>
<path d="M39.4,450.6 L40.3,449.9 L41.5,448.9 L43.0,447.7 L44.5,446.5 L46.1,445.2 L47.4,444.0 L48.6,442.9 L49.7,441.7 L50.8,440.6 L51.9,439.5 L53.0,438.3 L54.0,437.2 L55.0,436.1 L56.0,435.0 L57.0,433.9 L57.9,432.7 L58.9,431.7 L59.8,430.6 L60.7,429.6 L61.6,428.5 L62.5,427.5 L63.4,426.5 L64.2,425.6 L65.1,424.6 L65.9,423.7 L66.7,422.7 L67.5,421.8 L68.3,420.9 L69.1,420.0 L70.0,419.0 L70.9,417.9 L71.8,416.8 L72.8,415.6 L73.8,414.5 L74.7,413.4 L75.7,412.5 L76.7,411.7 L77.6,410.9 L78.6,410.3 L79.5,409.7 L80.5,409.2 L81.4,408.7 L82.3,408.3 L83.3,408.0 L84.2,407.7 L85.2,407.5 L86.1,407.3 L87.1,407.2 L88.1,407.1 L89.0,407.1 L90.0,407.1 L91.0,407.2 L91.9,407.3 L92.9,407.4 L93.9,407.5 L94.8,407.7 L95.8,407.9 L96.7,408.2 L97.7,408.4 L98.6,408.7 L99.5,409.0 L100.5,409.4 L101.4,409.7 L102.4,410.1 L103.3,410.6 L104.3,411.0 L105.2,411.5 L106.2,412.0 L107.1,412.5 L108.1,413.0 L109.0,413.6 L110.0,414.2 L110.9,414.8 L111.9,415.4 L112.8,416.0 L113.8,416.7 L114.8,417.4 L115.9,418.1 L117.1,418.8 L118.4,419.5 L119.7,420.3 L121.0,421.1 L122.4,422.0 L123.7,423.0 L125.0,424.2 L126.3,425.5 L127.7,426.9 L129.0,428.4 L130.3,429.9 L131.6,431.3 L132.9,432.7 L134.2,434.1 L135.5,435.5 L136.8,436.9 L138.1,438.2 L139.4,439.5 L140.7,440.7 L142.0,441.9 L143.3,443.0 L144.7,444.1 L146.0,445.3 L147.3,446.5 L148.6,447.7 L150.0,449.0 L151.3,450.3 L152.7,451.6 L154.0,452.9 L155.2,454.3 L156.4,455.8 L157.7,457.4 L158.8,459.1 L159.9,460.6 L160.8,462.0 L161.5,462.9" fill="none" stroke="#111111" stroke-width="0.8"/>
<path d="M37.3,450.6a1.80,1.80 0 1,0 3.60,0a1.80,1.80 0 1,0 -3.60,0M45.4,444.2a1.80,1.80 0 1,0 3.60,0a1.80,1.80 0 1,0 -3.60,0M52.1,437.3a1.80,1.80 0 1,0 3.60,0a1.80,1.80 0 1,0 -3.60,0M57.8,430.8a1.80,1.80 0 1,0 3.60,0a1.80,1.80 0 1,0 -3.60,0M62.8,425.1a1.80,1.80 0 1,0 3.60,0a1.80,1.80 0 1,0 -3.60,0M67.3,420.1a1.80,1.80 0 1,0 3.60,0a1.80,1.80 0 1,0 -3.60,0M71.2,415.4a1.80,1.80 0 1,0 3.60,0a1.80,1.80 0 1,0 -3.60,0M74.8,411.7a1.80,1.80 0 1,0 3.60,0a1.80,1.80 0 1,0 -3.60,0M78.1,409.5a1.80,1.80 0 1,0 3.60,0a1.80,1.80 0 1,0 -3.60,0M81.1,408.1a1.80,1.80 0 1,0 3.60,0a1.80,1.80 0 1,0 -3.60,0M84.0,407.4a1.80,1.80 0 1,0 3.60,0a1.80,1.80 0 1,0 -3.60,0M86.6,407.1a1.80,1.80 0 1,0 3.60,0a1.80,1.80 0 1,0 -3.60,0M89.1,407.2a1.80,1.80 0 1,0 3.60,0a1.80,1.80 0 1,0 -3.60,0M91.4,407.4a1.80,1.80 0 1,0 3.60,0a1.80,1.80 0 1,0 -3.60,0M93.5,407.8a1.80,1.80 0 1,0 3.60,0a1.80,1.80 0 1,0 -3.60,0M95.6,408.3a1.80,1.80 0 1,0 3.60,0a1.80,1.80 0 1,0 -3.60,0M97.6,409.0a1.80,1.80 0 1,0 3.60,0a1.80,1.80 0 1,0 -3.60,0M99.4,409.7a1.80,1.80 0 1,0 3.60,0a1.80,1.80 0 1,0 -3.60,0M101.2,410.4a1.80,1.80 0 1,0 3.60,0a1.80,1.80 0 1,0 -3.60,0M102.9,411.2a1.80,1.80 0 1,0 3.60,0a1.80,1.80 0 1,0 -3.60,0M104.6,412.1a1.80,1.80 0 1,0 3.60,0a1.80,1.80 0 1,0 -3.60,0M106.1,413.0a1.80,1.80 0 1,0 3.60,0a1.80,1.80 0 1,0 -3.60,0M107.6,413.9a1.80,1.80 0 1,0 3.60,0a1.80,1.80 0 1,0 -3.60,0M109.1,414.8a1.80,1.80 0 1,0 3.60,0a1.80,1.80 0 1,0 -3.60,0M110.5,415.7a1.80,1.80 0 1,0 3.60,0a1.80,1.80 0 1,0 -3.60,0M111.8,416.6a1.80,1.80 0 1,0 3.60,0a1.80,1.80 0 1,0 -3.60,0M113.1,417.5a1.80,1.80 0 1,0 3.60,0a1.80,1.80 0 1,0 -3.60,0M114.4,418.3a1.80,1.80 0 1,0 3.60,0a1.80,1.80 0 1,0 -3.60,0M115.6,419.0a1.80,1.80 0 1,0 3.60,0a1.80,1.80 0 1,0 -3.60,0M116.8,419.7a1.80,1.80 0 1,0 3.60,0a1.80,1.80 0 1,0 -3.60,0M118.0,420.3a1.80,1.80 0 1,0 3.60,0a1.80,1.80 0 1,0 -3.60,0M119.1,421.0a1.80,1.80 0 1,0 3.60,0a1.80,1.80 0 1,0 -3.60,0M120.2,421.7a1.80,1.80 0 1,0 3.60,0a1.80,1.80 0 1,0 -3.60,0M121.2,422.5a1.80,1.80 0 1,0 3.60,0a1.80,1.80 0 1,0 -3.60,0M122.2,423.3a1.80,1.80 0 1,0 3.60,0a1.80,1.80 0 1,0 -3.60,0M123.2,424.2a1.80,1.80 0 1,0 3.60,0a1.80,1.80 0 1,0 -3.60,0M124.2,425.2a1.80,1.80 0 1,0 3.60,0a1.80,1.80 0 1,0 -3.60,0M125.2,426.2a1.80,1.80 0 1,0 3.60,0a1.80,1.80 0 1,0 -3.60,0M126.1,427.2a1.80,1.80 0 1,0 3.60,0a1.80,1.80 0 1,0 -3.60,0M127.0,428.2a1.80,1.80 0 1,0 3.60,0a1.80,1.80 0 1,0 -3.60,0M127.9,429.2a1.80,1.80 0 1,0 3.60,0a1.80,1.80 0 1,0 -3.60,0M128.8,430.2a1.80,1.80 0 1,0 3.60,0a1.80,1.80 0 1,0 -3.60,0M129.6,431.1a1.80,1.80 0 1,0 3.60,0a1.80,1.80 0 1,0 -3.60,0M130.4,432.0a1.80,1.80 0 1,0 3.60,0a1.80,1.80 0 1,0 -3.60,0M131.3,432.9a1.80,1.80 0 1,0 3.60,0a1.80,1.80 0 1,0 -3.60,0M132.1,433.7a1.80,1.80 0 1,0 3.60,0a1.80,1.80 0 1,0 -3.60,0M132.8,434.6a1.80,1.80 0 1,0 3.60,0a1.80,1.80 0 1,0 -3.60,0M133.6,435.4a1.80,1.80 0 1,0 3.60,0a1.80,1.80 0 1,0 -3.60,0M134.4,436.2a1.80,1.80 0 1,0 3.60,0a1.80,1.80 0 1,0 -3.60,0M135.1,437.0a1.80,1.80 0 1,0 3.60,0a1.80,1.80 0 1,0 -3.60,0M135.8,437.7a1.80,1.80 0 1,0 3.60,0a1.80,1.80 0 1,0 -3.60,0M136.5,438.4a1.80,1.80 0 1,0 3.60,0a1.80,1.80 0 1,0 -3.60,0M137.2,439.1a1.80,1.80 0 1,0 3.60,0a1.80,1.80 0 1,0 -3.60,0M137.9,439.8a1.80,1.80 0 1,0 3.60,0a1.80,1.80 0 1,0 -3.60,0M138.6,440.4a1.80,1.80 0 1,0 3.60,0a1.80,1.80 0 1,0 -3.60,0M139.2,441.0a1.80,1.80 0 1,0 3.60,0a1.80,1.80 0 1,0 -3.60,0M139.9,441.6a1.80,1.80 0 1,0 3.60,0a1.80,1.80 0 1,0 -3.60,0M140.5,442.1a1.80,1.80 0 1,0 3.60,0a1.80,1.80 0 1,0 -3.60,0M141.2,442.7a1.80,1.80 0 1,0 3.60,0a1.80,1.80 0 1,0 -3.60,0M141.8,443.2a1.80,1.80 0 1,0 3.60,0a1.80,1.80 0 1,0 -3.60,0M142.4,443.7a1.80,1.80 0 1,0 3.60,0a1.80,1.80 0 1,0 -3.60,0M143.0,444.3a1.80,1.80 0 1,0 3.60,0a1.80,1.80 0 1,0 -3.60,0M143.6,444.8a1.80,1.80 0 1,0 3.60,0a1.80,1.80 0 1,0 -3.60,0M144.2,445.3a1.80,1.80 0 1,0 3.60,0a1.80,1.80 0 1,0 -3.60,0M144.7,445.8a1.80,1.80 0 1,0 3.60,0a1.80,1.80 0 1,0 -3.60,0M145.3,446.3a1.80,1.80 0 1,0 3.60,0a1.80,1.80 0 1,0 -3.60,0M145.8,446.8a1.80,1.80 0 1,0 3.60,0a1.80,1.80 0 1,0 -3.60,0M146.4,447.3a1.80,1.80 0 1,0 3.60,0a1.80,1.80 0 1,0 -3.60,0M146.9,447.8a1.80,1.80 0 1,0 3.60,0a1.80,1.80 0 1,0 -3.60,0M147.5,448.3a1.80,1.80 0 1,0 3.60,0a1.80,1.80 0 1,0 -3.60,0M148.0,448.8a1.80,1.80 0 1,0 3.60,0a1.80,1.80 0 1,0 -3.60,0M148.5,449.3a1.80,1.80 0 1,0 3.60,0a1.80,1.80 0 1,0 -3.60,0M149.0,449.8a1.80,1.80 0 1,0 3.60,0a1.80,1.80 0 1,0 -3.60,0M149.5,450.3a1.80,1.80 0 1,0 3.60,0a1.80,1.80 0 1,0 -3.60,0M150.0,450.8a1.80,1.80 0 1,0 3.60,0a1.80,1.80 0 1,0 -3.60,0M150.5,451.2a1.80,1.80 0 1,0 3.60,0a1.80,1.80 0 1,0 -3.60,0M151.0,451.7a1.80,1.80 0 1,0 3.60,0a1.80,1.80 0 1,0 -3.60,0M151.5,452.2a1.80,1.80 0 1,0 3.60,0a1.80,1.80 0 1,0 -3.60,0M152.0,452.7a1.80,1.80 0 1,0 3.60,0a1.80,1.80 0 1,0 -3.60,0M152.4,453.2a1.80,1.80 0 1,0 3.60,0a1.80,1.80 0 1,0 -3.60,0M152.9,453.7a1.80,1.80 0 1,0 3.60,0a1.80,1.80 0 1,0 -3.60,0M153.4,454.2a1.80,1.80 0 1,0 3.60,0a1.80,1.80 0 1,0 -3.60,0M153.8,454.8a1.80,1.80 0 1,0 3.60,0a1.80,1.80 0 1,0 -3.60,0M154.3,455.3a1.80,1.80 0 1,0 3.60,0a1.80,1.80 0 1,0 -3.60,0M154.7,455.9a1.80,1.80 0 1,0 3.60,0a1.80,1.80 0 1,0 -3.60,0M155.1,456.5a1.80,1.80 0 1,0 3.60,0a1.80,1.80 0 1,0 -3.60,0M155.6,457.0a1.80,1.80 0 1,0 3.60,0a1.80,1.80 0 1,0 -3.60,0M156.0,457.6a1.80,1.80 0 1,0 3.60,0a1.80,1.80 0 1,0 -3.60,0M156.4,458.2a1.80,1.80 0 1,0 3.60,0a1.80,1.80 0 1,0 -3.60,0M156.9,458.8a1.80,1.80 0 1,0 3.60,0a1.80,1.80 0 1,0 -3.60,0M157.3,459.4a1.80,1.80 0 1,0 3.60,0a1.80,1.80 0 1,0 -3.60,0M157.7,460.0a1.80,1.80 0 1,0 3.60,0a1.80,1.80 0 1,0 -3.60,0M158.1,460.6a1.80,1.80 0 1,0 3.60,0a1.80,1.80 0 1,0 -3.60,0M158.5,461.2a1.80,1.80 0 1,0 3.60,0a1.80,1.80 0 1,0 -3.60,0M158.9,461.7a1.80,1.80 0 1,0 3.60,0a1.80,1.80 0 1,0 -3.60,0M159.3,462.3a1.80,1.80 0 1,0 3.60,0a1.80,1.80 0 1,0 -3.60,0M159.7,462.8a1.80,1.80 0 1,0 3.60,0a1.80,1.80 0 1,0 -3.60,0" fill="#111111"/>
<path d="M44.0,448.9 L44.8,448.2 L46.0,447.3 L47.3,446.2 L48.7,445.0 L50.1,443.8 L51.4,442.6 L52.5,441.5 L53.6,440.3 L54.7,439.1 L55.7,437.9 L56.7,436.8 L57.7,435.7 L58.6,434.7 L59.5,433.9 L60.3,433.1 L61.2,432.2 L62.0,431.4 L62.9,430.5 L63.8,429.5 L64.8,428.5 L65.7,427.4 L66.7,426.4 L67.6,425.3 L68.6,424.3 L69.5,423.3 L70.4,422.3 L71.4,421.3 L72.3,420.3 L73.3,419.4 L74.3,418.6 L75.4,417.8 L76.4,417.2 L77.5,416.5 L78.7,415.9 L79.9,415.4 L81.4,415.0 L83.1,414.6 L84.9,414.3 L86.9,414.1 L88.9,413.9 L90.9,413.9 L92.9,413.9 L94.9,414.1 L96.9,414.4 L99.0,414.7 L100.9,415.2 L102.7,415.6 L104.3,416.1 L105.6,416.6 L106.6,417.1 L107.5,417.7 L108.3,418.2 L109.1,418.8 L110.0,419.3 L110.9,419.8 L111.9,420.2 L112.8,420.6 L113.8,421.1 L114.8,421.5 L115.9,422.0 L117.1,422.5 L118.4,422.9 L119.7,423.3 L121.0,423.8 L122.4,424.4 L123.7,425.2 L125.0,426.1 L126.3,427.2 L127.7,428.3 L129.0,429.6 L130.3,430.8 L131.6,432.2 L132.9,433.5 L134.2,435.0 L135.5,436.5 L136.8,438.0 L138.1,439.5 L139.4,440.9 L140.7,442.1 L142.0,443.3 L143.3,444.5 L144.7,445.6 L146.0,446.7 L147.3,447.9 L148.6,449.1 L150.0,450.4 L151.3,451.8 L152.7,453.1 L154.0,454.4 L155.2,455.7 L156.4,457.0 L157.7,458.4 L158.8,459.8 L159.9,461.1 L160.8,462.2 L161.5,463.0" fill="none" stroke="#d898f2" stroke-width="0.8"/>
<path d="M47.2,444.3L49.2,447.8L45.2,447.8ZM53.9,438.0L55.9,441.5L51.9,441.5ZM59.6,431.8L61.7,435.3L57.6,435.3ZM64.6,426.7L66.6,430.2L62.6,430.2ZM69.1,421.9L71.1,425.4L67.0,425.4ZM73.0,417.7L75.0,421.2L71.0,421.2ZM76.6,415.1L78.6,418.6L74.6,418.6ZM79.9,413.5L81.9,417.0L77.9,417.0ZM82.9,412.7L85.0,416.2L80.9,416.2ZM85.8,412.3L87.8,415.8L83.7,415.8ZM88.4,412.1L90.4,415.5L86.4,415.5ZM90.9,411.9L92.9,415.4L88.8,415.4ZM93.2,412.0L95.2,415.5L91.1,415.5ZM95.3,412.2L97.4,415.7L93.3,415.7ZM97.4,412.5L99.4,416.0L95.4,416.0ZM99.4,412.9L101.4,416.4L97.4,416.4ZM101.2,413.3L103.3,416.8L99.2,416.8ZM103.0,413.8L105.0,417.3L101.0,417.3ZM104.7,414.3L106.7,417.8L102.7,417.8ZM106.4,415.1L108.4,418.5L104.4,418.5ZM107.9,416.1L109.9,419.5L105.9,419.5ZM109.4,417.1L111.5,420.5L107.4,420.5ZM110.9,417.8L112.9,421.3L108.9,421.3ZM112.3,418.5L114.3,421.9L110.3,421.9ZM113.6,419.1L115.7,422.6L111.6,422.6ZM114.9,419.7L117.0,423.1L112.9,423.1ZM116.2,420.2L118.2,423.7L114.2,423.7ZM117.4,420.7L119.4,424.1L115.4,424.1ZM118.6,421.1L120.6,424.5L116.6,424.5ZM119.8,421.4L121.8,424.9L117.7,424.9ZM120.9,421.9L122.9,425.3L118.9,425.3ZM122.0,422.3L124.0,425.8L119.9,425.8ZM123.0,422.9L125.0,426.3L121.0,426.3ZM124.0,423.5L126.1,427.0L122.0,427.0ZM125.0,424.2L127.1,427.7L123.0,427.7ZM126.0,425.0L128.0,428.5L124.0,428.5ZM127.0,425.8L129.0,429.3L125.0,429.3ZM127.9,426.7L129.9,430.1L125.9,430.1ZM128.8,427.5L130.8,431.0L126.8,431.0ZM129.7,428.4L131.7,431.8L127.7,431.8ZM130.6,429.2L132.6,432.7L128.6,432.7ZM131.4,430.1L133.4,433.5L129.4,433.5ZM132.2,430.9L134.3,434.4L130.2,434.4ZM133.1,431.8L135.1,435.2L131.0,435.2ZM133.9,432.7L135.9,436.1L131.8,436.1ZM134.6,433.6L136.7,437.0L132.6,437.0ZM135.4,434.5L137.4,437.9L133.4,437.9ZM136.2,435.4L138.2,438.8L134.1,438.8ZM136.9,436.2L138.9,439.7L134.9,439.7ZM137.6,437.0L139.6,440.5L135.6,440.5ZM138.3,437.8L140.3,441.3L136.3,441.3ZM139.0,438.6L141.0,442.0L137.0,442.0ZM139.7,439.3L141.7,442.7L137.7,442.7ZM140.4,439.9L142.4,443.4L138.4,443.4ZM141.0,440.5L143.1,444.0L139.0,444.0ZM141.7,441.1L143.7,444.6L139.7,444.6ZM142.3,441.7L144.3,445.1L140.3,445.1ZM143.0,442.2L145.0,445.7L140.9,445.7ZM143.6,442.7L145.6,446.2L141.6,446.2ZM144.2,443.2L146.2,446.7L142.2,446.7ZM144.8,443.7L146.8,447.2L142.8,447.2ZM145.4,444.3L147.4,447.7L143.4,447.7ZM146.0,444.8L148.0,448.2L143.9,448.2ZM146.5,445.3L148.5,448.7L144.5,448.7ZM147.1,445.8L149.1,449.2L145.1,449.2ZM147.6,446.3L149.7,449.8L145.6,449.8ZM148.2,446.8L150.2,450.3L146.2,450.3ZM148.7,447.3L150.8,450.8L146.7,450.8ZM149.3,447.8L151.3,451.3L147.3,451.3ZM149.8,448.3L151.8,451.8L147.8,451.8ZM150.3,448.8L152.3,452.3L148.3,452.3ZM150.8,449.3L152.8,452.8L148.8,452.8ZM151.3,449.8L153.4,453.3L149.3,453.3ZM151.8,450.3L153.9,453.8L149.8,453.8ZM152.3,450.8L154.3,454.3L150.3,454.3ZM152.8,451.3L154.8,454.7L150.8,454.7ZM153.3,451.8L155.3,455.2L151.3,455.2ZM153.8,452.3L155.8,455.7L151.8,455.7ZM154.2,452.7L156.3,456.2L152.2,456.2ZM154.7,453.2L156.7,456.7L152.7,456.7ZM155.2,453.7L157.2,457.2L153.2,457.2ZM155.6,454.2L157.6,457.7L153.6,457.7ZM156.1,454.7L158.1,458.1L154.1,458.1ZM156.5,455.2L158.5,458.6L154.5,458.6ZM156.9,455.7L159.0,459.1L154.9,459.1ZM157.4,456.2L159.4,459.6L155.4,459.6ZM157.8,456.7L159.8,460.1L155.8,460.1ZM158.2,457.2L160.2,460.6L156.2,460.6ZM158.7,457.7L160.7,461.1L156.6,461.1ZM159.1,458.2L161.1,461.6L157.0,461.6ZM159.5,458.7L161.5,462.1L157.5,462.1ZM159.9,459.1L161.9,462.6L157.9,462.6ZM160.3,459.6L162.3,463.1L158.3,463.1ZM160.7,460.1L162.7,463.6L158.7,463.6ZM161.1,460.6L163.1,464.0L159.1,464.0ZM161.5,461.0L163.5,464.5L159.4,464.5Z" fill="#d898f2"/>
<path d="M46.3,452.9 L47.0,452.4 L48.1,451.7 L49.3,450.9 L50.6,450.0 L51.9,449.2 L53.1,448.3 L54.2,447.5 L55.3,446.6 L56.3,445.7 L57.4,444.8 L58.4,443.9 L59.4,443.1 L60.4,442.4 L61.4,441.7 L62.3,441.0 L63.3,440.4 L64.2,439.8 L65.1,439.1 L66.0,438.4 L66.8,437.7 L67.6,437.0 L68.4,436.3 L69.2,435.6 L70.0,435.0 L70.7,434.5 L71.4,434.0 L72.0,433.5 L72.7,433.1 L73.4,432.6 L74.3,432.0 L75.3,431.3 L76.3,430.6 L77.4,429.8 L78.6,429.0 L79.9,428.2 L81.4,427.6 L83.1,427.1 L84.9,426.6 L86.9,426.1 L88.9,425.8 L90.9,425.5 L92.9,425.3 L94.9,425.2 L96.9,425.3 L99.0,425.4 L100.9,425.7 L102.7,425.9 L104.3,426.2 L105.6,426.6 L106.6,427.0 L107.5,427.5 L108.3,428.0 L109.1,428.6 L110.0,429.1 L110.9,429.5 L111.9,430.0 L112.8,430.4 L113.8,430.9 L114.8,431.4 L115.9,431.9 L117.1,432.4 L118.4,432.9 L119.7,433.5 L121.0,434.0 L122.4,434.7 L123.7,435.3 L125.0,436.0 L126.3,436.8 L127.7,437.6 L129.0,438.4 L130.3,439.2 L131.6,440.0 L132.9,440.8 L134.2,441.5 L135.5,442.3 L136.8,443.1 L138.1,443.9 L139.4,444.7 L140.7,445.6 L142.0,446.4 L143.3,447.3 L144.7,448.2 L146.0,449.2 L147.3,450.2 L148.6,451.3 L150.0,452.5 L151.3,453.7 L152.7,454.9 L154.0,456.1 L155.2,457.3 L156.4,458.3 L157.7,459.4 L158.8,460.5 L159.9,461.5 L160.8,462.3 L161.5,462.9" fill="none" stroke="#3044ea" stroke-width="0.8"/>
<path d="M49.1,452.3L45.7,450.3L45.7,454.3ZM55.8,447.7L52.4,445.6L52.4,449.7ZM61.6,442.9L58.1,440.9L58.1,444.9ZM66.6,439.4L63.1,437.4L63.1,441.5ZM71.0,435.8L67.5,433.8L67.5,437.8ZM74.9,432.8L71.5,430.8L71.5,434.9ZM78.5,430.3L75.1,428.3L75.1,432.3ZM81.8,428.2L78.4,426.2L78.4,430.3ZM84.9,427.1L81.4,425.1L81.4,429.1ZM87.7,426.4L84.2,424.4L84.2,428.4ZM90.3,425.8L86.9,423.8L86.9,427.9ZM92.8,425.5L89.3,423.5L89.3,427.5ZM95.1,425.3L91.6,423.3L91.6,427.3ZM97.3,425.3L93.8,423.2L93.8,427.3ZM99.3,425.3L95.9,423.3L95.9,427.3ZM101.3,425.5L97.8,423.5L97.8,427.5ZM103.2,425.7L99.7,423.7L99.7,427.7ZM104.9,426.0L101.5,424.0L101.5,428.0ZM106.7,426.3L103.2,424.3L103.2,428.4ZM108.3,426.9L104.8,424.9L104.8,428.9ZM109.9,427.8L106.4,425.8L106.4,429.8ZM111.4,428.7L107.9,426.7L107.9,430.8ZM112.8,429.5L109.4,427.5L109.4,431.5ZM114.2,430.2L110.8,428.2L110.8,432.2ZM115.6,430.8L112.1,428.8L112.1,432.8ZM116.9,431.4L113.4,429.4L113.4,433.5ZM118.1,432.0L114.7,430.0L114.7,434.0ZM119.3,432.6L115.9,430.5L115.9,434.6ZM120.5,433.0L117.1,431.0L117.1,435.1ZM121.7,433.5L118.2,431.5L118.2,435.5ZM122.8,434.0L119.3,432.0L119.3,436.0ZM123.9,434.5L120.4,432.5L120.4,436.5ZM124.9,435.0L121.5,433.0L121.5,437.0ZM126.0,435.5L122.5,433.5L122.5,437.5ZM127.0,436.0L123.5,434.0L123.5,438.0ZM127.9,436.6L124.5,434.6L124.5,438.6ZM128.9,437.2L125.4,435.1L125.4,439.2ZM129.8,437.7L126.4,435.7L126.4,439.7ZM130.7,438.3L127.3,436.3L127.3,440.3ZM131.6,438.8L128.2,436.8L128.2,440.9ZM132.5,439.4L129.0,437.4L129.0,441.4ZM133.3,439.9L129.9,437.9L129.9,441.9ZM134.2,440.4L130.7,438.4L130.7,442.4ZM135.0,440.9L131.5,438.9L131.5,442.9ZM135.8,441.3L132.3,439.3L132.3,443.4ZM136.6,441.8L133.1,439.8L133.1,443.8ZM137.3,442.2L133.9,440.2L133.9,444.3ZM138.1,442.7L134.6,440.7L134.6,444.7ZM138.8,443.1L135.4,441.1L135.4,445.1ZM139.5,443.6L136.1,441.6L136.1,445.6ZM140.2,444.0L136.8,442.0L136.8,446.0ZM140.9,444.5L137.5,442.4L137.5,446.5ZM141.6,444.9L138.2,442.9L138.2,446.9ZM142.3,445.3L138.8,443.3L138.8,447.4ZM143.0,445.8L139.5,443.8L139.5,447.8ZM143.6,446.2L140.2,444.2L140.2,448.2ZM144.2,446.6L140.8,444.6L140.8,448.6ZM144.9,447.0L141.4,445.0L141.4,449.1ZM145.5,447.5L142.0,445.4L142.0,449.5ZM146.1,447.9L142.6,445.9L142.6,449.9ZM146.7,448.3L143.2,446.3L143.2,450.3ZM147.3,448.7L143.8,446.7L143.8,450.8ZM147.9,449.2L144.4,447.1L144.4,451.2ZM148.4,449.6L145.0,447.6L145.0,451.6ZM149.0,450.0L145.6,448.0L145.6,452.1ZM149.6,450.5L146.1,448.5L146.1,452.5ZM150.1,450.9L146.7,448.9L146.7,453.0ZM150.7,451.4L147.2,449.4L147.2,453.4ZM151.2,451.9L147.7,449.8L147.7,453.9ZM151.7,452.3L148.3,450.3L148.3,454.3ZM152.2,452.8L148.8,450.8L148.8,454.8ZM152.8,453.2L149.3,451.2L149.3,455.3ZM153.3,453.7L149.8,451.7L149.8,455.7ZM153.8,454.2L150.3,452.2L150.3,456.2ZM154.3,454.6L150.8,452.6L150.8,456.6ZM154.7,455.1L151.3,453.1L151.3,457.1ZM155.2,455.5L151.8,453.5L151.8,457.5ZM155.7,456.0L152.2,453.9L152.2,458.0ZM156.2,456.4L152.7,454.4L152.7,458.4ZM156.6,456.8L153.2,454.8L153.2,458.8ZM157.1,457.2L153.6,455.2L153.6,459.2ZM157.5,457.6L154.1,455.6L154.1,459.6ZM158.0,458.0L154.5,456.0L154.5,460.0ZM158.4,458.4L155.0,456.4L155.0,460.4ZM158.9,458.8L155.4,456.8L155.4,460.8ZM159.3,459.2L155.8,457.2L155.8,461.2ZM159.7,459.6L156.3,457.6L156.3,461.6ZM160.2,460.0L156.7,458.0L156.7,462.0ZM160.6,460.3L157.1,458.3L157.1,462.4ZM161.0,460.7L157.5,458.7L157.5,462.7ZM161.4,461.1L157.9,459.1L157.9,463.1ZM161.8,461.4L158.3,459.4L158.3,463.5ZM162.2,461.8L158.7,459.8L158.7,463.8ZM162.6,462.2L159.1,460.1L159.1,464.2ZM163.0,462.5L159.5,460.5L159.5,464.5ZM163.4,462.9L159.9,460.9L159.9,464.9Z" fill="#3044ea"/>
<path d="M46.9,455.1 L47.7,454.7 L48.7,454.1 L49.9,453.4 L51.3,452.6 L52.6,451.8 L53.7,451.1 L54.7,450.4 L55.7,449.7 L56.6,449.1 L57.5,448.4 L58.5,447.7 L59.4,447.1 L60.4,446.5 L61.3,446.0 L62.3,445.4 L63.3,444.9 L64.2,444.3 L65.1,443.7 L66.0,443.0 L66.8,442.3 L67.6,441.5 L68.4,440.8 L69.2,440.1 L70.0,439.5 L70.7,439.0 L71.4,438.6 L72.0,438.3 L72.7,437.9 L73.4,437.5 L74.3,437.0 L75.3,436.3 L76.3,435.4 L77.4,434.5 L78.6,433.6 L79.9,432.8 L81.4,432.1 L83.1,431.5 L84.9,431.1 L86.9,430.7 L88.9,430.3 L90.9,430.1 L92.9,429.9 L94.9,429.8 L96.9,429.8 L99.0,429.8 L100.9,429.9 L102.7,430.0 L104.3,430.2 L105.6,430.5 L106.6,430.7 L107.5,431.1 L108.3,431.5 L109.1,431.9 L110.0,432.2 L110.9,432.7 L111.9,433.1 L112.8,433.5 L113.8,434.0 L114.8,434.5 L115.9,435.0 L117.1,435.5 L118.4,436.1 L119.7,436.7 L121.0,437.3 L122.4,437.9 L123.7,438.6 L125.0,439.2 L126.3,439.8 L127.7,440.5 L129.0,441.2 L130.3,441.8 L131.6,442.6 L132.9,443.3 L134.2,444.1 L135.5,444.9 L136.8,445.7 L138.1,446.6 L139.4,447.4 L140.7,448.2 L142.0,448.9 L143.3,449.7 L144.7,450.5 L146.0,451.3 L147.3,452.2 L148.6,453.2 L150.0,454.2 L151.3,455.3 L152.7,456.5 L154.0,457.5 L155.2,458.5 L156.4,459.5 L157.7,460.5 L158.8,461.5 L159.9,462.4 L160.8,463.2 L161.5,463.7" fill="none" stroke="#5c1cdc" stroke-width="0.8"/>
<path d="M47.2,456.8L49.2,453.4L45.2,453.4ZM53.9,452.9L55.9,449.4L51.9,449.4ZM59.6,448.9L61.7,445.4L57.6,445.4ZM64.6,445.9L66.6,442.5L62.6,442.5ZM69.1,442.2L71.1,438.7L67.0,438.7ZM73.0,439.7L75.0,436.2L71.0,436.2ZM76.6,437.1L78.6,433.6L74.6,433.6ZM79.9,434.7L81.9,431.3L77.9,431.3ZM82.9,433.5L85.0,430.1L80.9,430.1ZM85.8,432.8L87.8,429.4L83.7,429.4ZM88.4,432.4L90.4,428.9L86.4,428.9ZM90.9,432.0L92.9,428.6L88.8,428.6ZM93.2,431.8L95.2,428.3L91.1,428.3ZM95.3,431.7L97.4,428.2L93.3,428.2ZM97.4,431.7L99.4,428.2L95.4,428.2ZM99.4,431.7L101.4,428.3L97.4,428.3ZM101.2,431.8L103.3,428.4L99.2,428.4ZM103.0,432.0L105.0,428.5L101.0,428.5ZM104.7,432.2L106.7,428.8L102.7,428.8ZM106.4,432.6L108.4,429.1L104.4,429.1ZM107.9,433.2L109.9,429.8L105.9,429.8ZM109.4,433.9L111.5,430.5L107.4,430.5ZM110.9,434.6L112.9,431.1L108.9,431.1ZM112.3,435.2L114.3,431.7L110.3,431.7ZM113.6,435.8L115.7,432.4L111.6,432.4ZM114.9,436.5L117.0,433.0L112.9,433.0ZM116.2,437.1L118.2,433.6L114.2,433.6ZM117.4,437.6L119.4,434.1L115.4,434.1ZM118.6,438.1L120.6,434.7L116.6,434.7ZM119.8,438.7L121.8,435.2L117.7,435.2ZM120.9,439.2L122.9,435.7L118.9,435.7ZM122.0,439.7L124.0,436.2L119.9,436.2ZM123.0,440.1L125.0,436.7L121.0,436.7ZM124.0,440.6L126.1,437.2L122.0,437.2ZM125.0,441.1L127.1,437.7L123.0,437.7ZM126.0,441.6L128.0,438.1L124.0,438.1ZM127.0,442.1L129.0,438.6L125.0,438.6ZM127.9,442.5L129.9,439.1L125.9,439.1ZM128.8,443.0L130.8,439.5L126.8,439.5ZM129.7,443.5L131.7,440.0L127.7,440.0ZM130.6,443.9L132.6,440.5L128.6,440.5ZM131.4,444.4L133.4,440.9L129.4,440.9ZM132.2,444.9L134.3,441.4L130.2,441.4ZM133.1,445.3L135.1,441.9L131.0,441.9ZM133.9,445.8L135.9,442.4L131.8,442.4ZM134.6,446.3L136.7,442.8L132.6,442.8ZM135.4,446.8L137.4,443.3L133.4,443.3ZM136.2,447.3L138.2,443.8L134.1,443.8ZM136.9,447.7L138.9,444.3L134.9,444.3ZM137.6,448.2L139.6,444.7L135.6,444.7ZM138.3,448.6L140.3,445.2L136.3,445.2ZM139.0,449.1L141.0,445.6L137.0,445.6ZM139.7,449.5L141.7,446.0L137.7,446.0ZM140.4,449.9L142.4,446.4L138.4,446.4ZM141.0,450.3L143.1,446.8L139.0,446.8ZM141.7,450.6L143.7,447.2L139.7,447.2ZM142.3,451.0L144.3,447.6L140.3,447.6ZM143.0,451.4L145.0,447.9L140.9,447.9ZM143.6,451.7L145.6,448.3L141.6,448.3ZM144.2,452.1L146.2,448.7L142.2,448.7ZM144.8,452.5L146.8,449.0L142.8,449.0ZM145.4,452.8L147.4,449.4L143.4,449.4ZM146.0,453.2L148.0,449.7L143.9,449.7ZM146.5,453.6L148.5,450.1L144.5,450.1ZM147.1,454.0L149.1,450.5L145.1,450.5ZM147.6,454.4L149.7,450.9L145.6,450.9ZM148.2,454.8L150.2,451.3L146.2,451.3ZM148.7,455.2L150.8,451.7L146.7,451.7ZM149.3,455.6L151.3,452.1L147.3,452.1ZM149.8,456.0L151.8,452.5L147.8,452.5ZM150.3,456.4L152.3,453.0L148.3,453.0ZM150.8,456.8L152.8,453.4L148.8,453.4ZM151.3,457.3L153.4,453.8L149.3,453.8ZM151.8,457.7L153.9,454.2L149.8,454.2ZM152.3,458.1L154.3,454.6L150.3,454.6ZM152.8,458.5L154.8,455.0L150.8,455.0ZM153.3,458.9L155.3,455.4L151.3,455.4ZM153.8,459.3L155.8,455.8L151.8,455.8ZM154.2,459.7L156.3,456.2L152.2,456.2ZM154.7,460.1L156.7,456.6L152.7,456.6ZM155.2,460.4L157.2,457.0L153.2,457.0ZM155.6,460.8L157.6,457.3L153.6,457.3ZM156.1,461.2L158.1,457.7L154.1,457.7ZM156.5,461.5L158.5,458.1L154.5,458.1ZM156.9,461.9L159.0,458.4L154.9,458.4ZM157.4,462.2L159.4,458.8L155.4,458.8ZM157.8,462.6L159.8,459.1L155.8,459.1ZM158.2,462.9L160.2,459.5L156.2,459.5ZM158.7,463.3L160.7,459.8L156.6,459.8ZM159.1,463.6L161.1,460.2L157.0,460.2ZM159.5,464.0L161.5,460.5L157.5,460.5ZM159.9,464.3L161.9,460.8L157.9,460.8ZM160.3,464.6L162.3,461.2L158.3,461.2ZM160.7,464.9L162.7,461.5L158.7,461.5ZM161.1,465.3L163.1,461.8L159.1,461.8ZM161.5,465.6L163.5,462.1L159.4,462.1Z" fill="#5c1cdc"/>
</g>
<clipPath id="cpb"><rect x="218.0" y="15.7" width="129.39999999999998" height="95.39999999999999"/></clipPath>
<g clip-path="url(#cpb)">
<path d="M226.3,100.2 L226.7,97.9 L227.3,94.6 L227.9,90.7 L228.7,86.6 L229.4,82.9 L230.0,79.8 L230.7,77.4 L231.3,75.3 L231.9,73.5 L232.5,71.9 L233.2,70.4 L233.8,69.0 L234.4,67.7 L235.0,66.5 L235.7,65.5 L236.3,64.5 L236.9,63.6 L237.5,62.8 L238.2,62.0 L238.8,61.4 L239.4,60.8 L240.0,60.2 L240.6,59.7 L241.3,59.1 L241.9,58.5 L242.5,58.0 L243.1,57.5 L243.8,57.0 L244.4,56.5 L245.0,56.0 L245.6,55.5 L246.3,55.0 L246.9,54.6 L247.5,54.1 L248.1,53.7 L248.7,53.3 L249.4,52.9 L250.0,52.6 L250.6,52.2 L251.2,51.9 L251.9,51.6 L252.5,51.2 L253.1,50.8 L253.6,50.4 L254.1,50.0 L254.7,49.6 L255.4,49.2 L256.2,48.8 L257.3,48.4 L258.4,47.9 L259.7,47.4 L261.1,47.0 L262.4,46.5 L263.7,46.0 L265.0,45.5 L266.2,44.9 L267.4,44.4 L268.7,43.8 L269.9,43.3 L271.2,42.8 L272.4,42.3 L273.7,41.9 L275.0,41.5 L276.3,41.1 L277.5,40.7 L278.7,40.3 L279.7,39.9 L280.7,39.5 L281.6,39.1 L282.5,38.8 L283.5,38.4 L284.6,38.0 L285.8,37.7 L287.1,37.3 L288.4,37.0 L289.8,36.6 L291.1,36.3 L292.3,36.0 L293.4,35.7 L294.4,35.4 L295.4,35.1 L296.4,34.9 L297.4,34.6 L298.7,34.3 L300.2,34.0 L301.8,33.6 L303.6,33.3 L305.3,32.9 L307.0,32.6 L308.6,32.3 L310.0,32.0 L311.2,31.7 L312.5,31.5 L313.7,31.3 L314.8,31.0 L316.1,30.8 L317.3,30.6 L318.5,30.4 L319.8,30.2 L321.0,30.0 L322.3,29.8 L323.5,29.7 L324.8,29.6 L326.1,29.5 L327.4,29.3 L328.6,29.3 L329.8,29.2 L331.0,29.1 L332.1,29.0 L333.2,29.0 L334.2,28.9 L335.1,28.9 L336.1,28.8 L337.1,28.8 L338.2,28.8 L339.3,28.7 L340.4,28.7 L341.5,28.7 L342.4,28.7 L343.0,28.7" fill="none" stroke="#111111" stroke-width="0.8"/>
<path d="M224.4,100.2a1.95,1.95 0 1,0 3.90,0a1.95,1.95 0 1,0 -3.90,0M228.1,79.8a1.95,1.95 0 1,0 3.90,0a1.95,1.95 0 1,0 -3.90,0M231.8,69.0a1.95,1.95 0 1,0 3.90,0a1.95,1.95 0 1,0 -3.90,0M235.6,62.8a1.95,1.95 0 1,0 3.90,0a1.95,1.95 0 1,0 -3.90,0M239.3,59.1a1.95,1.95 0 1,0 3.90,0a1.95,1.95 0 1,0 -3.90,0M243.1,56.0a1.95,1.95 0 1,0 3.90,0a1.95,1.95 0 1,0 -3.90,0M246.8,53.3a1.95,1.95 0 1,0 3.90,0a1.95,1.95 0 1,0 -3.90,0M250.5,51.2a1.95,1.95 0 1,0 3.90,0a1.95,1.95 0 1,0 -3.90,0M254.3,48.8a1.95,1.95 0 1,0 3.90,0a1.95,1.95 0 1,0 -3.90,0M258.0,47.4a1.95,1.95 0 1,0 3.90,0a1.95,1.95 0 1,0 -3.90,0M261.8,46.0a1.95,1.95 0 1,0 3.90,0a1.95,1.95 0 1,0 -3.90,0M265.5,44.4a1.95,1.95 0 1,0 3.90,0a1.95,1.95 0 1,0 -3.90,0M269.2,42.8a1.95,1.95 0 1,0 3.90,0a1.95,1.95 0 1,0 -3.90,0M273.0,41.5a1.95,1.95 0 1,0 3.90,0a1.95,1.95 0 1,0 -3.90,0M276.7,40.3a1.95,1.95 0 1,0 3.90,0a1.95,1.95 0 1,0 -3.90,0M280.5,38.8a1.95,1.95 0 1,0 3.90,0a1.95,1.95 0 1,0 -3.90,0M284.2,37.6a1.95,1.95 0 1,0 3.90,0a1.95,1.95 0 1,0 -3.90,0M287.9,36.6a1.95,1.95 0 1,0 3.90,0a1.95,1.95 0 1,0 -3.90,0M291.7,35.6a1.95,1.95 0 1,0 3.90,0a1.95,1.95 0 1,0 -3.90,0M295.4,34.6a1.95,1.95 0 1,0 3.90,0a1.95,1.95 0 1,0 -3.90,0M299.1,33.8a1.95,1.95 0 1,0 3.90,0a1.95,1.95 0 1,0 -3.90,0M302.9,33.0a1.95,1.95 0 1,0 3.90,0a1.95,1.95 0 1,0 -3.90,0M306.6,32.3a1.95,1.95 0 1,0 3.90,0a1.95,1.95 0 1,0 -3.90,0M310.4,31.5a1.95,1.95 0 1,0 3.90,0a1.95,1.95 0 1,0 -3.90,0M314.1,30.8a1.95,1.95 0 1,0 3.90,0a1.95,1.95 0 1,0 -3.90,0M317.8,30.2a1.95,1.95 0 1,0 3.90,0a1.95,1.95 0 1,0 -3.90,0M321.6,29.7a1.95,1.95 0 1,0 3.90,0a1.95,1.95 0 1,0 -3.90,0M325.3,29.4a1.95,1.95 0 1,0 3.90,0a1.95,1.95 0 1,0 -3.90,0M329.1,29.1a1.95,1.95 0 1,0 3.90,0a1.95,1.95 0 1,0 -3.90,0M332.8,28.9a1.95,1.95 0 1,0 3.90,0a1.95,1.95 0 1,0 -3.90,0M336.5,28.8a1.95,1.95 0 1,0 3.90,0a1.95,1.95 0 1,0 -3.90,0M340.3,28.7a1.95,1.95 0 1,0 3.90,0a1.95,1.95 0 1,0 -3.90,0" fill="#111111"/>
<path d="M226.3,96.1 L226.7,94.3 L227.3,91.8 L227.9,88.9 L228.7,85.8 L229.4,82.9 L230.0,80.4 L230.7,78.3 L231.3,76.4 L231.9,74.7 L232.5,73.0 L233.2,71.5 L233.8,70.1 L234.4,68.8 L235.0,67.6 L235.7,66.6 L236.3,65.6 L236.9,64.7 L237.5,63.9 L238.2,63.1 L238.8,62.5 L239.4,61.9 L240.0,61.3 L240.6,60.8 L241.3,60.2 L241.9,59.6 L242.5,59.1 L243.1,58.6 L243.8,58.1 L244.4,57.6 L245.0,57.1 L245.6,56.6 L246.3,56.1 L246.9,55.7 L247.5,55.2 L248.1,54.8 L248.7,54.4 L249.4,54.0 L250.0,53.7 L250.6,53.3 L251.2,53.0 L251.9,52.7 L252.5,52.3 L253.1,51.9 L253.6,51.5 L254.1,51.1 L254.7,50.7 L255.4,50.3 L256.2,49.9 L257.3,49.5 L258.4,49.0 L259.7,48.6 L261.1,48.1 L262.4,47.6 L263.7,47.1 L265.0,46.6 L266.2,46.0 L267.4,45.5 L268.7,44.9 L269.9,44.4 L271.2,43.9 L272.4,43.4 L273.7,43.0 L275.0,42.6 L276.3,42.1 L277.5,41.7 L278.7,41.3 L279.7,40.9 L280.7,40.4 L281.6,40.0 L282.5,39.5 L283.5,39.1 L284.6,38.7 L285.8,38.3 L287.1,37.9 L288.4,37.6 L289.8,37.3 L291.1,36.9 L292.3,36.6 L293.4,36.3 L294.4,36.0 L295.4,35.7 L296.4,35.5 L297.4,35.2 L298.7,34.9 L300.2,34.6 L301.8,34.2 L303.6,33.9 L305.3,33.5 L307.0,33.2 L308.6,32.9 L310.0,32.6 L311.2,32.3 L312.5,32.1 L313.7,31.9 L314.8,31.6 L316.1,31.4 L317.3,31.2 L318.5,31.0 L319.8,30.8 L321.0,30.6 L322.3,30.4 L323.5,30.3 L324.8,30.2 L326.1,30.1 L327.4,29.9 L328.6,29.9 L329.8,29.8 L331.0,29.7 L332.1,29.6 L333.2,29.6 L334.2,29.5 L335.1,29.5 L336.1,29.4 L337.1,29.4 L338.2,29.4 L339.3,29.3 L340.4,29.3 L341.5,29.3 L342.4,29.3 L343.0,29.3" fill="none" stroke="#5c1cdc" stroke-width="0.8"/>
<path d="M226.3,98.2L228.5,94.4L224.1,94.4ZM230.0,82.5L232.2,78.7L227.9,78.7ZM233.8,72.2L236.0,68.4L231.6,68.4ZM237.5,66.0L239.7,62.2L235.3,62.2ZM241.3,62.3L243.5,58.5L239.1,58.5ZM245.0,59.2L247.2,55.4L242.8,55.4ZM248.7,56.5L250.9,52.7L246.6,52.7ZM252.5,54.4L254.7,50.6L250.3,50.6ZM256.2,52.0L258.4,48.2L254.0,48.2ZM260.0,50.5L262.1,46.8L257.8,46.8ZM263.7,49.2L265.9,45.4L261.5,45.4ZM267.4,47.6L269.6,43.8L265.3,43.8ZM271.2,46.0L273.4,42.2L269.0,42.2ZM274.9,44.7L277.1,40.9L272.7,40.9ZM278.7,43.4L280.8,39.6L276.5,39.6ZM282.4,41.7L284.6,37.9L280.2,37.9ZM286.1,40.3L288.3,36.6L284.0,36.6ZM289.9,39.3L292.1,35.6L287.7,35.6ZM293.6,38.3L295.8,34.6L291.4,34.6ZM297.4,37.3L299.5,33.6L295.2,33.6ZM301.1,36.5L303.3,32.7L298.9,32.7ZM304.8,35.7L307.0,32.0L302.7,32.0ZM308.6,35.0L310.8,31.2L306.4,31.2ZM312.3,34.2L314.5,30.5L310.1,30.5ZM316.1,33.5L318.2,29.7L313.9,29.7ZM319.8,32.9L322.0,29.1L317.6,29.1ZM323.5,32.4L325.7,28.6L321.4,28.6ZM327.3,32.0L329.5,28.3L325.1,28.3ZM331.0,31.8L333.2,28.0L328.8,28.0ZM334.8,31.6L336.9,27.8L332.6,27.8ZM338.5,31.4L340.7,27.7L336.3,27.7ZM342.2,31.4L344.4,27.6L340.0,27.6Z" fill="#5c1cdc"/>
</g>
<clipPath id="cpd"><rect x="218.0" y="133.7" width="129.39999999999998" height="95.5"/></clipPath>
<g clip-path="url(#cpd)">
<path d="M226.3,173.5 L226.7,172.7 L227.3,171.6 L227.9,170.3 L228.7,169.1 L229.4,168.0 L230.0,167.5 L230.7,167.5 L231.3,167.8 L231.9,168.3 L232.5,169.0 L233.2,169.8 L233.8,170.5 L234.4,171.2 L235.0,172.0 L235.7,172.9 L236.3,173.8 L236.9,174.7 L237.5,175.5 L238.2,176.3 L238.8,177.1 L239.4,177.9 L240.0,178.7 L240.6,179.5 L241.3,180.3 L241.9,181.1 L242.5,181.9 L243.1,182.7 L243.8,183.5 L244.4,184.3 L245.0,185.0 L245.6,185.7 L246.3,186.4 L246.9,187.1 L247.5,187.7 L248.1,188.4 L248.7,189.0 L249.3,189.6 L249.9,190.2 L250.5,190.7 L251.1,191.3 L251.8,191.9 L252.5,192.5 L253.3,193.2 L254.2,194.0 L255.1,194.8 L256.1,195.6 L257.0,196.3 L258.0,197.0 L258.8,197.6 L259.5,198.1 L260.3,198.5 L261.1,199.0 L262.2,199.6 L263.7,200.3 L265.7,201.2 L268.0,202.3 L270.6,203.5 L273.3,204.7 L276.1,205.9 L278.7,207.0 L281.2,208.0 L283.7,208.9 L286.2,209.8 L288.7,210.7 L291.2,211.5 L293.6,212.3 L295.9,213.1 L298.2,213.8 L300.4,214.5 L302.6,215.2 L304.8,215.9 L307.1,216.6 L309.4,217.3 L311.8,218.0 L314.3,218.7 L316.7,219.4 L319.1,220.0 L321.4,220.6 L323.7,221.2 L326.1,221.7 L328.5,222.2 L330.7,222.7 L332.8,223.1 L334.8,223.5 L336.5,223.8 L338.2,224.1 L339.7,224.3 L341.1,224.5 L342.2,224.7 L343.0,224.8" fill="none" stroke="#a8ecf4" stroke-width="1.3"/>
<path d="M226.3,176.4 L226.7,174.5 L227.3,171.7 L227.9,168.4 L228.7,165.2 L229.4,162.5 L230.0,160.7 L230.7,160.0 L231.3,159.9 L231.9,160.4 L232.5,161.1 L233.2,162.0 L233.8,162.9 L234.4,163.8 L235.0,164.9 L235.7,166.1 L236.3,167.5 L236.9,168.8 L237.5,170.0 L238.2,171.2 L238.8,172.4 L239.4,173.6 L240.0,174.8 L240.6,176.0 L241.3,177.1 L241.9,178.2 L242.5,179.2 L243.1,180.1 L243.8,181.1 L244.4,182.0 L245.0,182.9 L245.6,183.8 L246.3,184.7 L246.9,185.5 L247.5,186.4 L248.1,187.2 L248.7,187.9 L249.4,188.6 L250.0,189.2 L250.6,189.7 L251.2,190.3 L251.9,190.8 L252.5,191.4 L253.1,192.0 L253.7,192.6 L254.4,193.3 L255.0,193.9 L255.6,194.5 L256.2,195.0 L256.8,195.4 L257.5,195.8 L258.1,196.1 L258.7,196.4 L259.3,196.7 L260.0,197.1 L260.5,197.5 L260.8,198.0 L261.1,198.5 L261.6,199.1 L262.4,199.7 L263.7,200.5 L265.5,201.5 L267.9,202.6 L270.5,203.9 L273.3,205.2 L276.0,206.4 L278.7,207.5 L281.2,208.5 L283.7,209.3 L286.2,210.2 L288.7,211.0 L291.2,211.7 L293.6,212.5 L295.9,213.3 L298.2,214.0 L300.4,214.7 L302.6,215.4 L304.8,216.1 L307.1,216.8 L309.4,217.5 L311.8,218.2 L314.3,218.9 L316.7,219.6 L319.1,220.2 L321.4,220.8 L323.7,221.4 L326.1,221.9 L328.5,222.4 L330.7,222.9 L332.8,223.3 L334.8,223.7 L336.5,224.0 L338.2,224.3 L339.7,224.5 L341.1,224.7 L342.2,224.9 L343.0,225.0" fill="none" stroke="#111111" stroke-width="0.8"/>
<path d="M224.4,176.4a1.95,1.95 0 1,0 3.90,0a1.95,1.95 0 1,0 -3.90,0M228.1,160.7a1.95,1.95 0 1,0 3.90,0a1.95,1.95 0 1,0 -3.90,0M231.8,162.9a1.95,1.95 0 1,0 3.90,0a1.95,1.95 0 1,0 -3.90,0M235.6,170.0a1.95,1.95 0 1,0 3.90,0a1.95,1.95 0 1,0 -3.90,0M239.3,177.1a1.95,1.95 0 1,0 3.90,0a1.95,1.95 0 1,0 -3.90,0M243.1,182.9a1.95,1.95 0 1,0 3.90,0a1.95,1.95 0 1,0 -3.90,0M246.8,187.9a1.95,1.95 0 1,0 3.90,0a1.95,1.95 0 1,0 -3.90,0M250.5,191.4a1.95,1.95 0 1,0 3.90,0a1.95,1.95 0 1,0 -3.90,0M254.3,195.0a1.95,1.95 0 1,0 3.90,0a1.95,1.95 0 1,0 -3.90,0M258.0,197.1a1.95,1.95 0 1,0 3.90,0a1.95,1.95 0 1,0 -3.90,0M261.8,200.5a1.95,1.95 0 1,0 3.90,0a1.95,1.95 0 1,0 -3.90,0M265.5,202.4a1.95,1.95 0 1,0 3.90,0a1.95,1.95 0 1,0 -3.90,0M269.2,204.2a1.95,1.95 0 1,0 3.90,0a1.95,1.95 0 1,0 -3.90,0M273.0,205.9a1.95,1.95 0 1,0 3.90,0a1.95,1.95 0 1,0 -3.90,0M276.7,207.5a1.95,1.95 0 1,0 3.90,0a1.95,1.95 0 1,0 -3.90,0M280.5,208.9a1.95,1.95 0 1,0 3.90,0a1.95,1.95 0 1,0 -3.90,0M284.2,210.1a1.95,1.95 0 1,0 3.90,0a1.95,1.95 0 1,0 -3.90,0M287.9,211.3a1.95,1.95 0 1,0 3.90,0a1.95,1.95 0 1,0 -3.90,0M291.7,212.5a1.95,1.95 0 1,0 3.90,0a1.95,1.95 0 1,0 -3.90,0M295.4,213.7a1.95,1.95 0 1,0 3.90,0a1.95,1.95 0 1,0 -3.90,0M299.1,214.9a1.95,1.95 0 1,0 3.90,0a1.95,1.95 0 1,0 -3.90,0M302.9,216.1a1.95,1.95 0 1,0 3.90,0a1.95,1.95 0 1,0 -3.90,0M306.6,217.2a1.95,1.95 0 1,0 3.90,0a1.95,1.95 0 1,0 -3.90,0M310.4,218.3a1.95,1.95 0 1,0 3.90,0a1.95,1.95 0 1,0 -3.90,0M314.1,219.4a1.95,1.95 0 1,0 3.90,0a1.95,1.95 0 1,0 -3.90,0M317.8,220.4a1.95,1.95 0 1,0 3.90,0a1.95,1.95 0 1,0 -3.90,0M321.6,221.3a1.95,1.95 0 1,0 3.90,0a1.95,1.95 0 1,0 -3.90,0M325.3,222.2a1.95,1.95 0 1,0 3.90,0a1.95,1.95 0 1,0 -3.90,0M329.1,223.0a1.95,1.95 0 1,0 3.90,0a1.95,1.95 0 1,0 -3.90,0M332.8,223.7a1.95,1.95 0 1,0 3.90,0a1.95,1.95 0 1,0 -3.90,0M336.5,224.3a1.95,1.95 0 1,0 3.90,0a1.95,1.95 0 1,0 -3.90,0M340.3,224.9a1.95,1.95 0 1,0 3.90,0a1.95,1.95 0 1,0 -3.90,0" fill="#111111"/>
<path d="M226.3,170.7 L226.7,169.9 L227.3,168.7 L227.9,167.3 L228.7,165.9 L229.4,164.9 L230.0,164.3 L230.7,164.3 L231.3,164.7 L231.9,165.3 L232.5,166.2 L233.2,167.1 L233.8,167.9 L234.4,168.7 L235.0,169.7 L235.7,170.7 L236.3,171.7 L236.9,172.7 L237.5,173.6 L238.2,174.5 L238.8,175.3 L239.4,176.1 L240.0,176.9 L240.6,177.7 L241.3,178.5 L241.9,179.3 L242.5,180.2 L243.1,181.0 L243.8,181.9 L244.4,182.7 L245.0,183.5 L245.6,184.3 L246.3,185.0 L246.9,185.8 L247.5,186.5 L248.1,187.2 L248.7,187.8 L249.3,188.3 L249.9,188.8 L250.5,189.1 L251.1,189.5 L251.8,190.0 L252.5,190.5 L253.3,191.2 L254.2,191.9 L255.1,192.7 L256.1,193.5 L257.0,194.3 L258.0,195.0 L258.8,195.5 L259.5,196.0 L260.3,196.4 L261.1,196.8 L262.2,197.3 L263.7,198.0 L265.7,198.9 L268.0,200.0 L270.6,201.1 L273.3,202.3 L276.1,203.5 L278.7,204.5 L281.2,205.4 L283.7,206.4 L286.2,207.2 L288.7,208.1 L291.2,208.9 L293.6,209.7 L295.9,210.5 L298.2,211.3 L300.4,212.0 L302.6,212.8 L304.8,213.5 L307.1,214.2 L309.4,214.9 L311.8,215.6 L314.3,216.3 L316.7,217.0 L319.1,217.6 L321.4,218.2 L323.7,218.8 L326.1,219.3 L328.5,219.8 L330.7,220.3 L332.8,220.8 L334.8,221.2 L336.5,221.6 L338.2,221.9 L339.7,222.2 L341.1,222.5 L342.2,222.7 L343.0,222.9" fill="none" stroke="#d898f2" stroke-width="0.8"/>
<path d="M226.3,168.6L228.5,172.4L224.1,172.4ZM230.0,162.2L232.2,166.0L227.9,166.0ZM233.8,165.8L236.0,169.6L231.6,169.6ZM237.5,171.5L239.7,175.3L235.3,175.3ZM241.3,176.4L243.5,180.2L239.1,180.2ZM245.0,181.4L247.2,185.2L242.8,185.2ZM248.7,185.7L250.9,189.5L246.6,189.5ZM252.5,188.4L254.7,192.2L250.3,192.2ZM256.2,191.6L258.4,195.3L254.0,195.3ZM260.0,194.1L262.1,197.9L257.8,197.9ZM263.7,195.9L265.9,199.7L261.5,199.7ZM267.4,197.6L269.6,201.4L265.3,201.4ZM271.2,199.3L273.4,203.0L269.0,203.0ZM274.9,200.9L277.1,204.6L272.7,204.6ZM278.7,202.4L280.8,206.2L276.5,206.2ZM282.4,203.8L284.6,207.6L280.2,207.6ZM286.1,205.1L288.3,208.9L284.0,208.9ZM289.9,206.4L292.1,210.1L287.7,210.1ZM293.6,207.6L295.8,211.4L291.4,211.4ZM297.4,208.9L299.5,212.6L295.2,212.6ZM301.1,210.2L303.3,213.9L298.9,213.9ZM304.8,211.4L307.0,215.2L302.7,215.2ZM308.6,212.6L310.8,216.3L306.4,216.3ZM312.3,213.7L314.5,217.4L310.1,217.4ZM316.1,214.7L318.2,218.5L313.9,218.5ZM319.8,215.7L322.0,219.4L317.6,219.4ZM323.5,216.6L325.7,220.4L321.4,220.4ZM327.3,217.5L329.5,221.2L325.1,221.2ZM331.0,218.3L333.2,222.1L328.8,222.1ZM334.8,219.1L336.9,222.9L332.6,222.9ZM338.5,219.9L340.7,223.7L336.3,223.7ZM342.2,220.7L344.4,224.4L340.0,224.4Z" fill="#d898f2"/>
<path d="M226.3,175.7 L226.7,175.1 L227.3,174.1 L227.9,173.0 L228.7,172.0 L229.4,171.1 L230.0,170.7 L230.7,170.7 L231.3,171.0 L231.9,171.6 L232.5,172.2 L233.2,172.9 L233.8,173.6 L234.4,174.2 L235.0,174.9 L235.7,175.7 L236.3,176.4 L236.9,177.2 L237.5,177.9 L238.2,178.6 L238.8,179.3 L239.4,180.0 L240.0,180.7 L240.6,181.4 L241.3,182.1 L241.9,182.8 L242.5,183.6 L243.1,184.3 L243.8,185.0 L244.4,185.7 L245.0,186.4 L245.6,187.0 L246.3,187.7 L246.9,188.3 L247.5,188.9 L248.1,189.4 L248.7,190.0 L249.3,190.5 L249.9,191.0 L250.5,191.4 L251.1,191.9 L251.8,192.4 L252.5,193.0 L253.3,193.7 L254.2,194.4 L255.1,195.2 L256.1,196.0 L257.0,196.8 L258.0,197.5 L258.8,198.1 L259.5,198.7 L260.3,199.2 L261.1,199.7 L262.2,200.3 L263.7,201.1 L265.7,202.1 L268.0,203.2 L270.6,204.4 L273.3,205.6 L276.1,206.7 L278.7,207.8 L281.2,208.8 L283.7,209.7 L286.2,210.6 L288.7,211.4 L291.2,212.2 L293.6,213.0 L295.9,213.8 L298.2,214.5 L300.4,215.2 L302.6,215.9 L304.8,216.6 L307.1,217.3 L309.4,218.0 L311.8,218.7 L314.3,219.4 L316.7,220.1 L319.1,220.7 L321.4,221.3 L323.7,221.9 L326.1,222.4 L328.5,223.0 L330.7,223.5 L332.8,223.9 L334.8,224.3 L336.5,224.6 L338.2,224.9 L339.7,225.1 L341.1,225.3 L342.2,225.5 L343.0,225.6" fill="none" stroke="#3044ea" stroke-width="0.8"/>
<path d="M228.4,175.7L224.6,173.5L224.6,177.9ZM232.1,170.7L228.4,168.5L228.4,172.9ZM235.9,173.6L232.1,171.4L232.1,175.8ZM239.6,177.9L235.9,175.7L235.9,180.1ZM243.3,182.1L239.6,179.9L239.6,184.3ZM247.1,186.4L243.3,184.2L243.3,188.6ZM250.8,190.0L247.1,187.8L247.1,192.2ZM254.6,193.0L250.8,190.8L250.8,195.2ZM258.3,196.1L254.6,193.9L254.6,198.3ZM262.0,199.0L258.3,196.8L258.3,201.1ZM265.8,201.1L262.0,198.9L262.0,203.3ZM269.5,202.9L265.8,200.7L265.8,205.1ZM273.3,204.6L269.5,202.4L269.5,206.8ZM277.0,206.2L273.3,204.1L273.3,208.4ZM280.7,207.8L277.0,205.6L277.0,210.0ZM284.5,209.2L280.7,207.0L280.7,211.4ZM288.2,210.5L284.5,208.3L284.5,212.7ZM292.0,211.8L288.2,209.6L288.2,213.9ZM295.7,213.0L292.0,210.8L292.0,215.2ZM299.4,214.2L295.7,212.1L295.7,216.4ZM303.2,215.4L299.4,213.3L299.4,217.6ZM306.9,216.6L303.2,214.4L303.2,218.8ZM310.7,217.7L306.9,215.6L306.9,219.9ZM314.4,218.8L310.7,216.6L310.7,221.0ZM318.1,219.9L314.4,217.7L314.4,222.1ZM321.9,220.9L318.1,218.7L318.1,223.1ZM325.6,221.8L321.9,219.6L321.9,224.0ZM329.4,222.7L325.6,220.5L325.6,224.9ZM333.1,223.5L329.3,221.3L329.3,225.7ZM336.8,224.3L333.1,222.1L333.1,226.5ZM340.6,225.0L336.8,222.8L336.8,227.1ZM344.3,225.5L340.6,223.3L340.6,227.7Z" fill="#3044ea"/>
<path d="M226.3,181.4 L226.7,180.8 L227.3,179.8 L227.9,178.8 L228.7,177.7 L229.4,176.9 L230.0,176.4 L230.7,176.3 L231.3,176.5 L231.9,176.9 L232.5,177.4 L233.2,178.0 L233.8,178.6 L234.4,179.2 L235.0,179.9 L235.7,180.7 L236.3,181.4 L236.9,182.2 L237.5,182.9 L238.2,183.5 L238.8,184.1 L239.4,184.7 L240.0,185.3 L240.6,185.8 L241.3,186.4 L241.9,187.0 L242.5,187.6 L243.1,188.2 L243.8,188.8 L244.4,189.4 L245.0,190.0 L245.6,190.6 L246.3,191.3 L246.9,191.9 L247.5,192.5 L248.1,193.1 L248.7,193.6 L249.3,194.0 L249.9,194.3 L250.5,194.6 L251.1,194.9 L251.8,195.3 L252.5,195.7 L253.3,196.2 L254.2,196.9 L255.1,197.5 L256.1,198.2 L257.0,198.9 L258.0,199.5 L258.8,200.0 L259.5,200.5 L260.3,200.9 L261.1,201.3 L262.2,201.9 L263.7,202.6 L265.7,203.5 L268.0,204.6 L270.6,205.7 L273.3,206.9 L276.1,208.1 L278.7,209.1 L281.2,210.0 L283.7,210.9 L286.2,211.7 L288.7,212.5 L291.2,213.3 L293.6,214.1 L295.9,214.9 L298.2,215.6 L300.4,216.3 L302.6,217.0 L304.8,217.7 L307.1,218.4 L309.4,219.1 L311.8,219.8 L314.3,220.5 L316.7,221.2 L319.1,221.8 L321.4,222.4 L323.7,223.0 L326.1,223.5 L328.5,224.0 L330.7,224.4 L332.8,224.9 L334.8,225.2 L336.5,225.5 L338.2,225.7 L339.7,225.9 L341.1,226.0 L342.2,226.1 L343.0,226.2" fill="none" stroke="#5c1cdc" stroke-width="0.8"/>
<path d="M226.3,183.5L228.5,179.7L224.1,179.7ZM230.0,178.5L232.2,174.7L227.9,174.7ZM233.8,180.7L236.0,176.9L231.6,176.9ZM237.5,185.0L239.7,181.2L235.3,181.2ZM241.3,188.5L243.5,184.7L239.1,184.7ZM245.0,192.1L247.2,188.3L242.8,188.3ZM248.7,195.7L250.9,191.9L246.6,191.9ZM252.5,197.8L254.7,194.0L250.3,194.0ZM256.2,200.4L258.4,196.7L254.0,196.7ZM260.0,202.8L262.1,199.0L257.8,199.0ZM263.7,204.7L265.9,200.9L261.5,200.9ZM267.4,206.4L269.6,202.7L265.3,202.7ZM271.2,208.1L273.4,204.3L269.0,204.3ZM274.9,209.7L277.1,205.9L272.7,205.9ZM278.7,211.2L280.8,207.4L276.5,207.4ZM282.4,212.5L284.6,208.8L280.2,208.8ZM286.1,213.8L288.3,210.0L284.0,210.0ZM289.9,215.0L292.1,211.2L287.7,211.2ZM293.6,216.2L295.8,212.4L291.4,212.4ZM297.4,217.4L299.5,213.7L295.2,213.7ZM301.1,218.6L303.3,214.9L298.9,214.9ZM304.8,219.8L307.0,216.0L302.7,216.0ZM308.6,220.9L310.8,217.2L306.4,217.2ZM312.3,222.0L314.5,218.3L310.1,218.3ZM316.1,223.1L318.2,219.3L313.9,219.3ZM319.8,224.1L322.0,220.3L317.6,220.3ZM323.5,225.0L325.7,221.2L321.4,221.2ZM327.3,225.8L329.5,222.1L325.1,222.1ZM331.0,226.6L333.2,222.8L328.8,222.8ZM334.8,227.3L336.9,223.5L332.6,223.5ZM338.5,227.8L340.7,224.1L336.3,224.1ZM342.2,228.2L344.4,224.5L340.0,224.5Z" fill="#5c1cdc"/>
</g>
<clipPath id="cpf"><rect x="218.0" y="253.5" width="129.39999999999998" height="94.80000000000001"/></clipPath>
<g clip-path="url(#cpf)">
<path d="M228.2,346.0 L228.4,345.0 L228.6,343.6 L228.9,341.9 L229.2,340.0 L229.6,338.0 L230.0,336.0 L230.6,333.8 L231.2,331.4 L231.8,328.9 L232.5,326.4 L233.1,323.9 L233.8,321.5 L234.4,319.3 L235.0,317.1 L235.7,314.9 L236.3,312.8 L236.9,310.9 L237.5,309.0 L238.2,307.3 L238.8,305.6 L239.5,304.1 L240.1,302.6 L240.7,301.3 L241.3,300.0 L241.7,298.8 L242.0,297.8 L242.3,296.8 L242.7,296.0 L243.1,295.2 L243.6,294.5 L244.3,293.9 L245.0,293.5 L245.9,293.1 L246.8,292.8 L247.7,292.4 L248.7,292.0 L249.9,291.4 L251.1,290.7 L252.3,290.0 L253.6,289.4 L255.0,288.8 L256.2,288.5 L257.5,288.4 L258.8,288.5 L260.1,288.8 L261.4,289.0 L262.6,289.2 L263.7,289.3 L264.7,289.1 L265.6,288.8 L266.4,288.5 L267.3,288.2 L268.1,288.0 L269.0,288.0 L270.0,288.3 L271.0,288.9 L272.1,289.6 L273.1,290.3 L274.1,291.0 L274.9,291.5 L275.5,291.8 L275.8,291.9 L276.0,291.9 L276.4,291.9 L277.2,292.1 L278.7,292.5 L280.9,293.2 L283.7,294.0 L287.0,295.0 L290.4,296.0 L294.0,297.0 L297.4,298.0 L300.7,299.0 L304.1,300.0 L307.5,300.9 L311.0,301.9 L314.5,302.8 L317.9,303.5 L321.5,304.1 L325.3,304.6 L329.2,305.0 L332.8,305.3 L336.0,305.5 L338.5,305.8 L340.3,306.0 L341.5,306.2 L342.3,306.3 L342.8,306.4 L343.1,306.4 L343.5,306.5" fill="none" stroke="#a8ecf4" stroke-width="1.3"/>
<path d="M228.2,346.0 L228.4,344.9 L228.6,343.5 L228.9,341.8 L229.2,339.9 L229.6,337.8 L230.0,335.7 L230.6,333.4 L231.2,330.9 L231.8,328.3 L232.5,325.6 L233.1,323.0 L233.8,320.5 L234.4,318.2 L235.0,315.9 L235.7,313.7 L236.3,311.5 L236.9,309.5 L237.5,307.5 L238.2,305.6 L238.8,303.8 L239.5,302.0 L240.1,300.4 L240.7,298.9 L241.3,297.5 L241.7,296.3 L242.1,295.3 L242.4,294.4 L242.8,293.6 L243.1,292.9 L243.6,292.2 L244.1,291.6 L244.7,291.1 L245.4,290.7 L246.0,290.3 L246.7,289.9 L247.3,289.5 L247.9,289.0 L248.4,288.6 L249.0,288.1 L249.6,287.7 L250.2,287.2 L250.9,286.8 L251.7,286.4 L252.6,285.9 L253.6,285.5 L254.5,285.1 L255.4,284.8 L256.2,284.6 L256.9,284.6 L257.6,284.6 L258.2,284.8 L258.8,285.0 L259.4,285.2 L260.0,285.3 L260.6,285.3 L261.2,285.4 L261.8,285.4 L262.5,285.3 L263.1,285.3 L263.7,285.3 L264.3,285.2 L265.0,285.1 L265.6,285.0 L266.2,284.9 L266.8,284.9 L267.4,285.0 L268.1,285.3 L268.7,285.7 L269.3,286.2 L269.9,286.7 L270.6,287.2 L271.2,287.7 L271.8,288.1 L272.4,288.5 L273.1,288.9 L273.7,289.3 L274.3,289.7 L274.9,290.0 L275.5,290.3 L276.0,290.5 L276.6,290.6 L277.1,290.8 L277.8,291.0 L278.7,291.3 L279.6,291.6 L280.7,292.0 L281.9,292.3 L283.2,292.7 L284.6,293.2 L286.1,293.6 L287.8,294.1 L289.7,294.6 L291.6,295.1 L293.6,295.7 L295.5,296.3 L297.4,296.8 L299.1,297.3 L300.7,297.9 L302.3,298.4 L303.8,299.0 L305.4,299.5 L307.1,300.0 L308.8,300.5 L310.6,301.0 L312.4,301.5 L314.3,302.0 L316.1,302.4 L317.9,302.8 L319.7,303.1 L321.5,303.4 L323.3,303.7 L325.1,303.9 L326.9,304.1 L328.6,304.3 L330.4,304.5 L332.1,304.6 L333.9,304.7 L335.6,304.7 L337.1,304.8 L338.5,304.9 L339.7,305.0 L340.7,305.1 L341.6,305.1 L342.4,305.2 L343.0,305.3 L343.5,305.3" fill="none" stroke="#111111" stroke-width="0.8"/>
<path d="M228.1,335.7a1.95,1.95 0 1,0 3.90,0a1.95,1.95 0 1,0 -3.90,0M231.8,320.5a1.95,1.95 0 1,0 3.90,0a1.95,1.95 0 1,0 -3.90,0M235.6,307.5a1.95,1.95 0 1,0 3.90,0a1.95,1.95 0 1,0 -3.90,0M239.3,297.5a1.95,1.95 0 1,0 3.90,0a1.95,1.95 0 1,0 -3.90,0M243.1,290.9a1.95,1.95 0 1,0 3.90,0a1.95,1.95 0 1,0 -3.90,0M246.8,288.3a1.95,1.95 0 1,0 3.90,0a1.95,1.95 0 1,0 -3.90,0M250.5,286.0a1.95,1.95 0 1,0 3.90,0a1.95,1.95 0 1,0 -3.90,0M254.3,284.6a1.95,1.95 0 1,0 3.90,0a1.95,1.95 0 1,0 -3.90,0M258.0,285.3a1.95,1.95 0 1,0 3.90,0a1.95,1.95 0 1,0 -3.90,0M261.8,285.3a1.95,1.95 0 1,0 3.90,0a1.95,1.95 0 1,0 -3.90,0M265.5,285.0a1.95,1.95 0 1,0 3.90,0a1.95,1.95 0 1,0 -3.90,0M269.2,287.7a1.95,1.95 0 1,0 3.90,0a1.95,1.95 0 1,0 -3.90,0M273.0,290.0a1.95,1.95 0 1,0 3.90,0a1.95,1.95 0 1,0 -3.90,0M276.7,291.3a1.95,1.95 0 1,0 3.90,0a1.95,1.95 0 1,0 -3.90,0M280.5,292.5a1.95,1.95 0 1,0 3.90,0a1.95,1.95 0 1,0 -3.90,0M284.2,293.6a1.95,1.95 0 1,0 3.90,0a1.95,1.95 0 1,0 -3.90,0M287.9,294.7a1.95,1.95 0 1,0 3.90,0a1.95,1.95 0 1,0 -3.90,0M291.7,295.7a1.95,1.95 0 1,0 3.90,0a1.95,1.95 0 1,0 -3.90,0M295.4,296.8a1.95,1.95 0 1,0 3.90,0a1.95,1.95 0 1,0 -3.90,0M299.1,298.0a1.95,1.95 0 1,0 3.90,0a1.95,1.95 0 1,0 -3.90,0M302.9,299.3a1.95,1.95 0 1,0 3.90,0a1.95,1.95 0 1,0 -3.90,0M306.6,300.4a1.95,1.95 0 1,0 3.90,0a1.95,1.95 0 1,0 -3.90,0M310.4,301.5a1.95,1.95 0 1,0 3.90,0a1.95,1.95 0 1,0 -3.90,0M314.1,302.4a1.95,1.95 0 1,0 3.90,0a1.95,1.95 0 1,0 -3.90,0M317.8,303.2a1.95,1.95 0 1,0 3.90,0a1.95,1.95 0 1,0 -3.90,0M321.6,303.7a1.95,1.95 0 1,0 3.90,0a1.95,1.95 0 1,0 -3.90,0M325.3,304.2a1.95,1.95 0 1,0 3.90,0a1.95,1.95 0 1,0 -3.90,0M329.1,304.5a1.95,1.95 0 1,0 3.90,0a1.95,1.95 0 1,0 -3.90,0M332.8,304.7a1.95,1.95 0 1,0 3.90,0a1.95,1.95 0 1,0 -3.90,0M336.5,304.9a1.95,1.95 0 1,0 3.90,0a1.95,1.95 0 1,0 -3.90,0M340.3,305.2a1.95,1.95 0 1,0 3.90,0a1.95,1.95 0 1,0 -3.90,0" fill="#111111"/>
<path d="M228.2,346.0 L228.4,344.9 L228.6,343.5 L228.9,341.8 L229.2,339.9 L229.6,337.8 L230.0,335.7 L230.6,333.4 L231.2,330.9 L231.8,328.3 L232.5,325.6 L233.1,323.0 L233.8,320.5 L234.4,318.2 L235.0,315.9 L235.7,313.7 L236.3,311.5 L236.9,309.5 L237.5,307.5 L238.2,305.6 L238.8,303.8 L239.5,302.0 L240.1,300.4 L240.7,298.9 L241.3,297.5 L241.7,296.3 L242.1,295.3 L242.4,294.4 L242.8,293.6 L243.1,292.9 L243.6,292.2 L244.1,291.6 L244.7,291.1 L245.4,290.7 L246.0,290.3 L246.7,289.9 L247.3,289.5 L247.9,289.0 L248.4,288.6 L249.0,288.1 L249.6,287.7 L250.2,287.2 L250.9,286.8 L251.7,286.4 L252.6,285.9 L253.6,285.5 L254.5,285.1 L255.4,284.8 L256.2,284.6 L256.9,284.6 L257.6,284.6 L258.2,284.8 L258.8,285.0 L259.4,285.2 L260.0,285.3 L260.6,285.3 L261.2,285.4 L261.8,285.4 L262.5,285.3 L263.1,285.3 L263.7,285.3 L264.3,285.2 L265.0,285.1 L265.6,285.0 L266.2,284.9 L266.8,284.9 L267.4,285.0 L268.1,285.3 L268.7,285.7 L269.3,286.2 L269.9,286.7 L270.6,287.2 L271.2,287.7 L271.8,288.1 L272.4,288.5 L273.1,288.9 L273.7,289.3 L274.3,289.7 L274.9,290.0 L275.5,290.3 L276.0,290.5 L276.6,290.6 L277.1,290.8 L277.8,291.0 L278.7,291.3 L279.6,291.6 L280.7,292.0 L281.9,292.3 L283.2,292.7 L284.6,293.2 L286.1,293.6 L287.8,294.1 L289.7,294.6 L291.6,295.1 L293.6,295.7 L295.5,296.3 L297.4,296.8 L299.1,297.3 L300.7,297.9 L302.3,298.4 L303.8,299.0 L305.4,299.5 L307.1,300.0 L308.8,300.5 L310.6,301.0 L312.4,301.5 L314.3,302.0 L316.1,302.4 L317.9,302.8 L319.7,303.1 L321.5,303.4 L323.3,303.7 L325.1,303.9 L326.9,304.1 L328.6,304.3 L330.4,304.5 L332.1,304.6 L333.9,304.7 L335.6,304.7 L337.1,304.8 L338.5,304.9 L339.7,305.0 L340.7,305.1 L341.6,305.1 L342.4,305.2 L343.0,305.3 L343.5,305.3" fill="none" stroke="#d898f2" stroke-width="0.8"/>
<path d="M230.0,333.6L232.2,337.4L227.9,337.4ZM233.8,318.4L236.0,322.2L231.6,322.2ZM237.5,305.4L239.7,309.2L235.3,309.2ZM241.3,295.4L243.5,299.2L239.1,299.2ZM245.0,288.8L247.2,292.6L242.8,292.6ZM248.7,286.2L250.9,290.0L246.6,290.0ZM252.5,283.9L254.7,287.6L250.3,287.6ZM256.2,282.5L258.4,286.3L254.0,286.3ZM260.0,283.2L262.1,287.0L257.8,287.0ZM263.7,283.2L265.9,287.0L261.5,287.0ZM267.4,282.9L269.6,286.7L265.3,286.7ZM271.2,285.6L273.4,289.4L269.0,289.4ZM274.9,287.9L277.1,291.7L272.7,291.7ZM278.7,289.2L280.8,293.0L276.5,293.0ZM282.4,290.4L284.6,294.1L280.2,294.1ZM286.1,291.5L288.3,295.3L284.0,295.3ZM289.9,292.6L292.1,296.3L287.7,296.3ZM293.6,293.6L295.8,297.4L291.4,297.4ZM297.4,294.7L299.5,298.5L295.2,298.5ZM301.1,295.9L303.3,299.7L298.9,299.7ZM304.8,297.2L307.0,301.0L302.7,301.0ZM308.6,298.3L310.8,302.1L306.4,302.1ZM312.3,299.4L314.5,303.1L310.1,303.1ZM316.1,300.3L318.2,304.1L313.9,304.1ZM319.8,301.1L322.0,304.8L317.6,304.8ZM323.5,301.6L325.7,305.4L321.4,305.4ZM327.3,302.1L329.5,305.8L325.1,305.8ZM331.0,302.4L333.2,306.2L328.8,306.2ZM334.8,302.6L336.9,306.4L332.6,306.4ZM338.5,302.8L340.7,306.6L336.3,306.6ZM342.2,303.1L344.4,306.9L340.0,306.9Z" fill="#d898f2"/>
<path d="M228.2,346.0 L228.4,345.0 L228.6,343.7 L228.9,342.1 L229.2,340.4 L229.6,338.5 L230.0,336.5 L230.6,334.4 L231.2,332.1 L231.8,329.7 L232.5,327.2 L233.1,324.8 L233.8,322.5 L234.4,320.3 L235.0,318.1 L235.7,315.9 L236.3,313.8 L236.9,311.8 L237.5,310.0 L238.2,308.3 L238.8,306.7 L239.5,305.1 L240.1,303.7 L240.7,302.5 L241.3,301.3 L241.7,300.3 L242.0,299.4 L242.3,298.7 L242.7,298.0 L243.1,297.4 L243.6,296.8 L244.3,296.2 L245.0,295.8 L245.9,295.3 L246.8,294.9 L247.7,294.5 L248.7,294.0 L249.9,293.4 L251.1,292.7 L252.3,292.0 L253.6,291.3 L255.0,290.7 L256.2,290.4 L257.5,290.3 L258.8,290.5 L260.1,290.7 L261.4,291.0 L262.6,291.3 L263.7,291.3 L264.7,291.1 L265.6,290.7 L266.4,290.2 L267.3,289.8 L268.1,289.5 L269.0,289.5 L270.0,289.8 L271.0,290.4 L272.1,291.1 L273.1,291.9 L274.1,292.6 L274.9,293.1 L275.5,293.4 L275.8,293.5 L276.0,293.5 L276.4,293.5 L277.2,293.6 L278.7,294.0 L280.9,294.6 L283.7,295.3 L287.0,296.2 L290.4,297.1 L294.0,298.0 L297.4,298.9 L300.7,299.8 L304.1,300.8 L307.5,301.8 L311.0,302.7 L314.5,303.6 L317.9,304.3 L321.5,304.9 L325.3,305.3 L329.2,305.6 L332.8,305.9 L336.0,306.2 L338.5,306.4 L340.3,306.6 L341.5,306.8 L342.3,307.0 L342.8,307.1 L343.1,307.2 L343.5,307.3" fill="none" stroke="#3044ea" stroke-width="0.8"/>
<path d="M232.1,336.5L228.4,334.3L228.4,338.7ZM235.9,322.5L232.1,320.3L232.1,324.7ZM239.6,310.0L235.9,307.8L235.9,312.2ZM243.3,301.3L239.6,299.1L239.6,303.5ZM247.1,295.8L243.3,293.6L243.3,298.0ZM250.8,294.0L247.1,291.8L247.1,296.2ZM254.6,291.9L250.8,289.7L250.8,294.1ZM258.3,290.4L254.6,288.2L254.6,292.6ZM262.0,290.7L258.3,288.5L258.3,292.9ZM265.8,291.3L262.0,289.1L262.0,293.5ZM269.5,289.7L265.8,287.6L265.8,291.9ZM273.3,290.5L269.5,288.3L269.5,292.7ZM277.0,293.1L273.3,290.9L273.3,295.3ZM280.7,294.0L277.0,291.8L277.0,296.2ZM284.5,295.0L280.7,292.8L280.7,297.2ZM288.2,296.0L284.5,293.8L284.5,298.1ZM292.0,296.9L288.2,294.8L288.2,299.1ZM295.7,297.9L292.0,295.7L292.0,300.1ZM299.4,298.9L295.7,296.7L295.7,301.1ZM303.2,299.9L299.4,297.7L299.4,302.1ZM306.9,301.0L303.2,298.8L303.2,303.2ZM310.7,302.1L306.9,299.9L306.9,304.3ZM314.4,303.1L310.7,300.9L310.7,305.2ZM318.1,303.9L314.4,301.7L314.4,306.1ZM321.9,304.6L318.1,302.4L318.1,306.8ZM325.6,305.1L321.9,302.9L321.9,307.3ZM329.4,305.5L325.6,303.3L325.6,307.6ZM333.1,305.8L329.3,303.6L329.3,308.0ZM336.8,306.1L333.1,303.9L333.1,308.2ZM340.6,306.4L336.8,304.2L336.8,308.6ZM344.3,307.0L340.6,304.8L340.6,309.2Z" fill="#3044ea"/>
<path d="M228.2,346.0 L228.4,345.2 L228.6,344.1 L228.9,342.9 L229.2,341.4 L229.6,339.8 L230.0,338.0 L230.6,336.0 L231.2,333.7 L231.8,331.2 L232.5,328.7 L233.1,326.3 L233.8,324.0 L234.4,321.9 L235.0,319.7 L235.7,317.7 L236.3,315.7 L236.9,313.9 L237.5,312.2 L238.2,310.7 L238.8,309.3 L239.4,308.0 L240.0,306.9 L240.6,305.9 L241.3,304.9 L241.9,304.1 L242.5,303.4 L243.1,302.8 L243.8,302.3 L244.4,301.8 L245.0,301.3 L245.6,300.8 L246.1,300.3 L246.6,299.9 L247.2,299.4 L247.9,299.0 L248.7,298.6 L249.8,298.1 L251.0,297.6 L252.3,297.2 L253.6,296.7 L254.9,296.4 L256.2,296.2 L257.5,296.2 L258.9,296.4 L260.2,296.6 L261.5,296.9 L262.7,297.2 L263.7,297.3 L264.5,297.3 L265.1,297.1 L265.7,297.0 L266.2,296.8 L266.7,296.7 L267.4,296.8 L268.3,297.1 L269.3,297.5 L270.4,298.0 L271.5,298.5 L272.5,299.1 L273.5,299.5 L274.4,299.9 L275.2,300.2 L276.0,300.5 L276.8,300.8 L277.7,301.1 L278.7,301.3 L279.7,301.5 L280.8,301.6 L282.0,301.6 L283.3,301.7 L284.7,301.8 L286.1,302.1 L287.8,302.5 L289.7,303.0 L291.6,303.6 L293.6,304.2 L295.5,304.8 L297.4,305.3 L299.1,305.7 L300.7,306.1 L302.3,306.5 L303.8,306.8 L305.4,307.2 L307.1,307.5 L308.8,307.9 L310.6,308.2 L312.4,308.6 L314.3,309.0 L316.1,309.3 L317.9,309.6 L319.7,309.8 L321.5,310.1 L323.3,310.3 L325.1,310.4 L326.9,310.6 L328.6,310.7 L330.4,310.8 L332.1,310.9 L333.9,310.9 L335.6,311.0 L337.1,311.0 L338.5,311.1 L339.7,311.2 L340.7,311.3 L341.6,311.4 L342.4,311.5 L343.0,311.5 L343.5,311.6" fill="none" stroke="#5c1cdc" stroke-width="0.8"/>
<path d="M230.0,340.1L232.2,336.3L227.9,336.3ZM233.8,326.1L236.0,322.3L231.6,322.3ZM237.5,314.3L239.7,310.5L235.3,310.5ZM241.3,307.0L243.5,303.2L239.1,303.2ZM245.0,303.4L247.2,299.6L242.8,299.6ZM248.7,300.7L250.9,296.9L246.6,296.9ZM252.5,299.2L254.7,295.4L250.3,295.4ZM256.2,298.3L258.4,294.5L254.0,294.5ZM260.0,298.7L262.1,294.9L257.8,294.9ZM263.7,299.4L265.9,295.6L261.5,295.6ZM267.4,298.9L269.6,295.1L265.3,295.1ZM271.2,300.5L273.4,296.7L269.0,296.7ZM274.9,302.2L277.1,298.4L272.7,298.4ZM278.7,303.4L280.8,299.6L276.5,299.6ZM282.4,303.7L284.6,300.0L280.2,300.0ZM286.1,304.2L288.3,300.4L284.0,300.4ZM289.9,305.2L292.1,301.4L287.7,301.4ZM293.6,306.3L295.8,302.6L291.4,302.6ZM297.4,307.4L299.5,303.6L295.2,303.6ZM301.1,308.3L303.3,304.5L298.9,304.5ZM304.8,309.1L307.0,305.4L302.7,305.4ZM308.6,309.9L310.8,306.1L306.4,306.1ZM312.3,310.7L314.5,306.9L310.1,306.9ZM316.1,311.4L318.2,307.6L313.9,307.6ZM319.8,311.9L322.0,308.2L317.6,308.2ZM323.5,312.4L325.7,308.6L321.4,308.6ZM327.3,312.7L329.5,308.9L325.1,308.9ZM331.0,312.9L333.2,309.2L328.8,309.2ZM334.8,313.0L336.9,309.3L332.6,309.3ZM338.5,313.2L340.7,309.4L336.3,309.4ZM342.2,313.5L344.4,309.8L340.0,309.8Z" fill="#5c1cdc"/>
</g>
<clipPath id="cph"><rect x="218.0" y="374.4" width="129.39999999999998" height="95.40000000000003"/></clipPath>
<g clip-path="url(#cph)">
<path d="M226.3,447.2 L226.7,444.9 L227.3,441.8 L227.9,438.0 L228.7,434.1 L229.4,430.3 L230.0,427.0 L230.7,424.1 L231.3,421.3 L231.9,418.7 L232.5,416.2 L233.2,414.0 L233.8,412.0 L234.4,410.3 L234.9,408.7 L235.4,407.4 L236.0,406.4 L236.7,405.6 L237.5,405.0 L238.6,404.8 L239.8,404.9 L241.1,405.3 L242.5,405.8 L243.8,406.4 L245.0,406.9 L246.1,407.4 L247.1,408.0 L248.1,408.6 L249.1,409.2 L250.1,409.9 L251.0,410.5 L251.9,411.1 L252.7,411.7 L253.5,412.3 L254.3,412.8 L255.2,413.5 L256.2,414.1 L257.3,414.8 L258.6,415.5 L259.8,416.2 L261.1,417.0 L262.4,417.7 L263.7,418.5 L264.9,419.3 L266.1,420.0 L267.2,420.8 L268.4,421.6 L269.7,422.5 L271.2,423.5 L272.8,424.6 L274.6,425.8 L276.6,427.1 L278.5,428.4 L280.5,429.8 L282.4,431.0 L284.3,432.2 L286.1,433.4 L288.0,434.5 L289.9,435.7 L291.7,436.8 L293.6,438.0 L295.5,439.2 L297.4,440.4 L299.2,441.6 L301.1,442.7 L303.0,443.9 L304.8,445.0 L306.7,446.1 L308.6,447.1 L310.4,448.1 L312.3,449.0 L314.2,450.0 L316.1,451.0 L317.9,452.0 L319.8,453.0 L321.7,454.0 L323.5,455.0 L325.4,456.0 L327.3,457.0 L329.2,458.0 L331.3,459.1 L333.3,460.2 L335.2,461.2 L337.0,462.1 L338.5,462.9 L339.7,463.5 L340.7,464.0 L341.5,464.4 L342.2,464.7 L342.7,464.9 L343.1,465.1" fill="none" stroke="#a8ecf4" stroke-width="1.3"/>
<path d="M226.3,448.6 L226.7,446.1 L227.3,442.5 L227.9,438.3 L228.7,433.8 L229.4,429.6 L230.0,425.9 L230.7,422.7 L231.3,419.7 L231.9,416.9 L232.5,414.2 L233.2,411.8 L233.8,409.6 L234.4,407.6 L235.0,405.9 L235.7,404.4 L236.3,403.1 L236.9,402.0 L237.5,401.1 L238.2,400.5 L238.8,400.2 L239.4,400.2 L240.0,400.2 L240.6,400.4 L241.3,400.5 L241.9,400.7 L242.5,400.9 L243.1,401.2 L243.8,401.5 L244.4,402.0 L245.0,402.4 L245.6,402.9 L246.3,403.5 L246.9,404.1 L247.5,404.7 L248.1,405.4 L248.7,406.0 L249.4,406.6 L250.0,407.2 L250.6,407.9 L251.2,408.5 L251.9,409.1 L252.5,409.6 L253.1,410.1 L253.7,410.6 L254.4,411.0 L255.0,411.4 L255.6,411.9 L256.2,412.3 L256.8,412.7 L257.5,413.2 L258.1,413.6 L258.7,414.1 L259.3,414.5 L260.0,415.0 L260.6,415.5 L261.2,415.9 L261.8,416.4 L262.5,416.9 L263.1,417.3 L263.7,417.8 L264.3,418.2 L265.0,418.7 L265.6,419.1 L266.2,419.5 L266.8,420.0 L267.4,420.5 L268.0,421.1 L268.4,421.6 L268.8,422.2 L269.4,422.9 L270.1,423.6 L271.2,424.5 L272.6,425.5 L274.4,426.6 L276.3,427.8 L278.4,429.0 L280.4,430.3 L282.4,431.5 L284.3,432.7 L286.1,433.9 L288.0,435.1 L289.9,436.2 L291.7,437.4 L293.6,438.6 L295.5,439.8 L297.4,441.0 L299.2,442.1 L301.1,443.3 L303.0,444.4 L304.8,445.5 L306.7,446.5 L308.6,447.5 L310.4,448.5 L312.3,449.5 L314.2,450.4 L316.1,451.4 L317.9,452.4 L319.8,453.3 L321.7,454.3 L323.5,455.2 L325.4,456.1 L327.3,457.1 L329.2,458.1 L331.3,459.2 L333.3,460.2 L335.2,461.2 L337.0,462.1 L338.5,462.9 L339.7,463.5 L340.7,464.0 L341.5,464.4 L342.2,464.7 L342.7,464.9 L343.1,465.1" fill="none" stroke="#111111" stroke-width="0.8"/>
<path d="M224.4,448.6a1.95,1.95 0 1,0 3.90,0a1.95,1.95 0 1,0 -3.90,0M228.1,425.9a1.95,1.95 0 1,0 3.90,0a1.95,1.95 0 1,0 -3.90,0M231.8,409.6a1.95,1.95 0 1,0 3.90,0a1.95,1.95 0 1,0 -3.90,0M235.6,401.1a1.95,1.95 0 1,0 3.90,0a1.95,1.95 0 1,0 -3.90,0M239.3,400.5a1.95,1.95 0 1,0 3.90,0a1.95,1.95 0 1,0 -3.90,0M243.1,402.4a1.95,1.95 0 1,0 3.90,0a1.95,1.95 0 1,0 -3.90,0M246.8,406.0a1.95,1.95 0 1,0 3.90,0a1.95,1.95 0 1,0 -3.90,0M250.5,409.6a1.95,1.95 0 1,0 3.90,0a1.95,1.95 0 1,0 -3.90,0M254.3,412.3a1.95,1.95 0 1,0 3.90,0a1.95,1.95 0 1,0 -3.90,0M258.0,415.0a1.95,1.95 0 1,0 3.90,0a1.95,1.95 0 1,0 -3.90,0M261.8,417.8a1.95,1.95 0 1,0 3.90,0a1.95,1.95 0 1,0 -3.90,0M265.5,420.5a1.95,1.95 0 1,0 3.90,0a1.95,1.95 0 1,0 -3.90,0M269.2,424.5a1.95,1.95 0 1,0 3.90,0a1.95,1.95 0 1,0 -3.90,0M273.0,426.9a1.95,1.95 0 1,0 3.90,0a1.95,1.95 0 1,0 -3.90,0M276.7,429.2a1.95,1.95 0 1,0 3.90,0a1.95,1.95 0 1,0 -3.90,0M280.5,431.5a1.95,1.95 0 1,0 3.90,0a1.95,1.95 0 1,0 -3.90,0M284.2,433.9a1.95,1.95 0 1,0 3.90,0a1.95,1.95 0 1,0 -3.90,0M287.9,436.2a1.95,1.95 0 1,0 3.90,0a1.95,1.95 0 1,0 -3.90,0M291.7,438.6a1.95,1.95 0 1,0 3.90,0a1.95,1.95 0 1,0 -3.90,0M295.4,441.0a1.95,1.95 0 1,0 3.90,0a1.95,1.95 0 1,0 -3.90,0M299.1,443.3a1.95,1.95 0 1,0 3.90,0a1.95,1.95 0 1,0 -3.90,0M302.9,445.5a1.95,1.95 0 1,0 3.90,0a1.95,1.95 0 1,0 -3.90,0M306.6,447.5a1.95,1.95 0 1,0 3.90,0a1.95,1.95 0 1,0 -3.90,0M310.4,449.5a1.95,1.95 0 1,0 3.90,0a1.95,1.95 0 1,0 -3.90,0M314.1,451.4a1.95,1.95 0 1,0 3.90,0a1.95,1.95 0 1,0 -3.90,0M317.8,453.3a1.95,1.95 0 1,0 3.90,0a1.95,1.95 0 1,0 -3.90,0M321.6,455.2a1.95,1.95 0 1,0 3.90,0a1.95,1.95 0 1,0 -3.90,0M325.3,457.1a1.95,1.95 0 1,0 3.90,0a1.95,1.95 0 1,0 -3.90,0M329.1,459.0a1.95,1.95 0 1,0 3.90,0a1.95,1.95 0 1,0 -3.90,0M332.8,461.0a1.95,1.95 0 1,0 3.90,0a1.95,1.95 0 1,0 -3.90,0M336.5,462.9a1.95,1.95 0 1,0 3.90,0a1.95,1.95 0 1,0 -3.90,0M340.3,464.7a1.95,1.95 0 1,0 3.90,0a1.95,1.95 0 1,0 -3.90,0" fill="#111111"/>
<path d="M226.3,446.7 L226.7,444.2 L227.3,440.6 L227.9,436.4 L228.7,431.9 L229.4,427.7 L230.0,424.1 L230.7,421.0 L231.3,418.1 L231.9,415.4 L232.5,412.9 L233.2,410.7 L233.8,408.7 L234.4,407.1 L235.0,405.7 L235.7,404.6 L236.3,403.7 L236.9,403.0 L237.5,402.4 L238.2,402.0 L238.8,401.9 L239.4,401.9 L240.0,402.1 L240.6,402.3 L241.3,402.4 L241.9,402.5 L242.5,402.6 L243.1,402.7 L243.8,402.8 L244.4,403.0 L245.0,403.3 L245.6,403.6 L246.1,404.1 L246.6,404.5 L247.2,405.0 L247.9,405.5 L248.7,406.0 L249.8,406.4 L251.1,406.9 L252.5,407.3 L253.9,407.7 L255.2,408.2 L256.2,408.7 L257.0,409.3 L257.6,409.9 L258.1,410.5 L258.6,411.1 L259.2,411.7 L260.0,412.3 L261.0,412.8 L262.3,413.2 L263.7,413.7 L265.1,414.1 L266.4,414.5 L267.4,415.0 L268.2,415.5 L268.7,415.9 L269.1,416.3 L269.5,416.8 L270.2,417.5 L271.2,418.3 L272.6,419.4 L274.4,420.6 L276.3,422.0 L278.4,423.5 L280.4,424.9 L282.4,426.3 L284.3,427.6 L286.1,429.0 L288.0,430.3 L289.9,431.6 L291.7,433.0 L293.6,434.3 L295.5,435.6 L297.4,437.0 L299.2,438.4 L301.1,439.7 L303.0,441.0 L304.8,442.3 L306.7,443.5 L308.6,444.7 L310.4,445.8 L312.3,446.9 L314.2,448.0 L316.1,449.1 L317.9,450.2 L319.8,451.4 L321.7,452.5 L323.5,453.7 L325.4,454.8 L327.3,456.0 L329.2,457.2 L331.3,458.5 L333.3,459.7 L335.2,460.9 L337.0,462.0 L338.5,462.9 L339.7,463.6 L340.7,464.1 L341.5,464.4 L342.2,464.7 L342.7,464.9 L343.1,465.1" fill="none" stroke="#d898f2" stroke-width="0.8"/>
<path d="M226.3,444.6L228.5,448.4L224.1,448.4ZM230.0,422.0L232.2,425.8L227.9,425.8ZM233.8,406.6L236.0,410.4L231.6,410.4ZM237.5,400.3L239.7,404.1L235.3,404.1ZM241.3,400.3L243.5,404.1L239.1,404.1ZM245.0,401.2L247.2,405.0L242.8,405.0ZM248.7,403.9L250.9,407.7L246.6,407.7ZM252.5,405.2L254.7,409.0L250.3,409.0ZM256.2,406.6L258.4,410.4L254.0,410.4ZM260.0,410.2L262.1,414.0L257.8,414.0ZM263.7,411.6L265.9,415.3L261.5,415.3ZM267.4,412.9L269.6,416.7L265.3,416.7ZM271.2,416.2L273.4,420.0L269.0,420.0ZM274.9,418.9L277.1,422.7L272.7,422.7ZM278.7,421.6L280.8,425.3L276.5,425.3ZM282.4,424.2L284.6,428.0L280.2,428.0ZM286.1,426.9L288.3,430.6L284.0,430.6ZM289.9,429.6L292.1,433.3L287.7,433.3ZM293.6,432.2L295.8,436.0L291.4,436.0ZM297.4,434.9L299.5,438.7L295.2,438.7ZM301.1,437.6L303.3,441.4L298.9,441.4ZM304.8,440.2L307.0,444.0L302.7,444.0ZM308.6,442.6L310.8,446.3L306.4,446.3ZM312.3,444.8L314.5,448.5L310.1,448.5ZM316.1,447.0L318.2,450.8L313.9,450.8ZM319.8,449.3L322.0,453.1L317.6,453.1ZM323.5,451.6L325.7,455.4L321.4,455.4ZM327.3,453.9L329.5,457.7L325.1,457.7ZM331.0,456.2L333.2,460.0L328.8,460.0ZM334.8,458.6L336.9,462.3L332.6,462.3ZM338.5,460.8L340.7,464.6L336.3,464.6ZM342.2,462.7L344.4,466.4L340.0,466.4Z" fill="#d898f2"/>
<path d="M226.3,447.7 L226.7,445.7 L227.3,442.8 L227.9,439.4 L228.7,435.8 L229.4,432.4 L230.0,429.5 L230.7,427.0 L231.3,424.6 L231.9,422.4 L232.5,420.4 L233.2,418.5 L233.8,416.9 L234.4,415.5 L235.0,414.4 L235.6,413.4 L236.2,412.6 L236.8,412.0 L237.5,411.4 L238.3,411.0 L239.1,410.7 L240.0,410.5 L240.9,410.4 L241.8,410.4 L242.7,410.5 L243.7,410.6 L244.7,410.9 L245.8,411.2 L246.9,411.5 L247.9,411.9 L248.7,412.3 L249.5,412.7 L250.0,413.1 L250.5,413.6 L251.0,414.1 L251.7,414.5 L252.5,415.0 L253.6,415.5 L254.8,415.9 L256.2,416.4 L257.6,416.9 L258.9,417.3 L260.0,417.8 L260.8,418.2 L261.3,418.6 L261.8,419.0 L262.3,419.5 L262.9,419.9 L263.7,420.5 L264.8,421.2 L266.1,421.9 L267.4,422.7 L268.8,423.5 L270.1,424.3 L271.2,425.0 L272.0,425.7 L272.6,426.3 L273.1,426.9 L273.5,427.4 L274.1,428.0 L274.9,428.6 L275.9,429.1 L277.0,429.6 L278.2,430.1 L279.5,430.6 L280.9,431.2 L282.4,432.0 L284.1,432.9 L285.9,434.0 L287.8,435.2 L289.7,436.5 L291.7,437.7 L293.6,438.9 L295.5,440.1 L297.4,441.2 L299.2,442.4 L301.1,443.5 L303.0,444.6 L304.8,445.7 L306.7,446.7 L308.6,447.7 L310.4,448.6 L312.3,449.5 L314.2,450.5 L316.1,451.4 L317.9,452.3 L319.8,453.3 L321.7,454.2 L323.5,455.2 L325.4,456.1 L327.3,457.1 L329.2,458.1 L331.3,459.2 L333.3,460.2 L335.2,461.2 L337.0,462.1 L338.5,462.9 L339.7,463.5 L340.7,464.0 L341.5,464.4 L342.2,464.7 L342.7,464.9 L343.1,465.1" fill="none" stroke="#3044ea" stroke-width="0.8"/>
<path d="M228.4,447.7L224.6,445.5L224.6,449.9ZM232.1,429.5L228.4,427.3L228.4,431.7ZM235.9,416.9L232.1,414.7L232.1,419.1ZM239.6,411.4L235.9,409.2L235.9,413.6ZM243.3,410.4L239.6,408.3L239.6,412.6ZM247.1,410.9L243.3,408.8L243.3,413.1ZM250.8,412.3L247.1,410.1L247.1,414.5ZM254.6,415.0L250.8,412.8L250.8,417.2ZM258.3,416.4L254.6,414.2L254.6,418.6ZM262.0,417.8L258.3,415.6L258.3,420.0ZM265.8,420.5L262.0,418.3L262.0,422.7ZM269.5,422.7L265.8,420.5L265.8,424.9ZM273.3,425.0L269.5,422.8L269.5,427.2ZM277.0,428.6L273.3,426.4L273.3,430.8ZM280.7,430.3L277.0,428.1L277.0,432.5ZM284.5,432.0L280.7,429.8L280.7,434.2ZM288.2,434.2L284.5,432.0L284.5,436.4ZM292.0,436.6L288.2,434.4L288.2,438.7ZM295.7,438.9L292.0,436.7L292.0,441.1ZM299.4,441.2L295.7,439.0L295.7,443.4ZM303.2,443.5L299.4,441.3L299.4,445.7ZM306.9,445.7L303.2,443.5L303.2,447.9ZM310.7,447.7L306.9,445.5L306.9,449.9ZM314.4,449.5L310.7,447.4L310.7,451.7ZM318.1,451.4L314.4,449.2L314.4,453.6ZM321.9,453.3L318.1,451.1L318.1,455.5ZM325.6,455.2L321.9,453.0L321.9,457.4ZM329.4,457.1L325.6,454.9L325.6,459.3ZM333.1,459.0L329.3,456.8L329.3,461.2ZM336.8,461.0L333.1,458.8L333.1,463.2ZM340.6,462.9L336.8,460.7L336.8,465.1ZM344.3,464.7L340.6,462.5L340.6,466.9Z" fill="#3044ea"/>
<path d="M226.3,451.3 L226.7,449.6 L227.3,447.1 L227.9,444.3 L228.7,441.3 L229.4,438.4 L230.0,435.9 L230.7,433.7 L231.2,431.7 L231.8,429.8 L232.4,428.0 L233.1,426.4 L233.8,425.0 L234.6,423.8 L235.5,422.9 L236.4,422.1 L237.3,421.5 L238.2,421.0 L239.1,420.5 L239.9,420.1 L240.6,419.8 L241.4,419.7 L242.1,419.6 L242.8,419.6 L243.6,419.6 L244.4,419.7 L245.2,420.0 L246.1,420.3 L247.0,420.7 L247.8,421.1 L248.7,421.4 L249.7,421.7 L250.6,422.0 L251.6,422.3 L252.6,422.6 L253.6,422.9 L254.5,423.2 L255.4,423.5 L256.3,423.8 L257.3,424.1 L258.2,424.4 L259.1,424.7 L260.0,425.0 L260.9,425.3 L261.8,425.6 L262.7,425.8 L263.6,426.1 L264.5,426.4 L265.4,426.8 L266.4,427.2 L267.3,427.6 L268.3,428.1 L269.3,428.6 L270.3,429.0 L271.2,429.5 L272.1,430.0 L272.9,430.4 L273.7,430.9 L274.5,431.3 L275.4,431.8 L276.3,432.3 L277.2,432.8 L278.1,433.2 L279.0,433.6 L280.0,434.1 L281.1,434.7 L282.4,435.4 L284.0,436.3 L285.8,437.5 L287.7,438.7 L289.7,439.9 L291.7,441.2 L293.6,442.3 L295.5,443.3 L297.4,444.3 L299.2,445.2 L301.1,446.1 L303.0,447.1 L304.8,448.0 L306.7,449.0 L308.6,449.9 L310.4,450.9 L312.3,451.9 L314.2,452.8 L316.1,453.7 L317.9,454.5 L319.8,455.3 L321.7,456.0 L323.5,456.7 L325.4,457.5 L327.3,458.3 L329.2,459.2 L331.3,460.3 L333.3,461.3 L335.2,462.3 L337.0,463.3 L338.5,464.0 L339.7,464.5 L340.7,465.0 L341.5,465.3 L342.2,465.5 L342.7,465.6 L343.1,465.8" fill="none" stroke="#5c1cdc" stroke-width="0.8"/>
<path d="M226.3,453.4L228.5,449.6L224.1,449.6ZM230.0,438.0L232.2,434.2L227.9,434.2ZM233.8,427.1L236.0,423.3L231.6,423.3ZM237.5,423.5L239.7,419.7L235.3,419.7ZM241.3,421.8L243.5,418.0L239.1,418.0ZM245.0,422.0L247.2,418.3L242.8,418.3ZM248.7,423.5L250.9,419.7L246.6,419.7ZM252.5,424.7L254.7,420.9L250.3,420.9ZM256.2,425.8L258.4,422.1L254.0,422.1ZM260.0,427.1L262.1,423.3L257.8,423.3ZM263.7,428.3L265.9,424.5L261.5,424.5ZM267.4,429.8L269.6,426.0L265.3,426.0ZM271.2,431.6L273.4,427.8L269.0,427.8ZM274.9,433.6L277.1,429.9L272.7,429.9ZM278.7,435.5L280.8,431.8L276.5,431.8ZM282.4,437.5L284.6,433.7L280.2,433.7ZM286.1,439.8L288.3,436.0L284.0,436.0ZM289.9,442.1L292.1,438.4L287.7,438.4ZM293.6,444.4L295.8,440.6L291.4,440.6ZM297.4,446.4L299.5,442.6L295.2,442.6ZM301.1,448.2L303.3,444.5L298.9,444.5ZM304.8,450.1L307.0,446.3L302.7,446.3ZM308.6,452.0L310.8,448.3L306.4,448.3ZM312.3,454.0L314.5,450.2L310.1,450.2ZM316.1,455.8L318.2,452.0L313.9,452.0ZM319.8,457.4L322.0,453.6L317.6,453.6ZM323.5,458.8L325.7,455.1L321.4,455.1ZM327.3,460.4L329.5,456.6L325.1,456.6ZM331.0,462.2L333.2,458.5L328.8,458.5ZM334.8,464.2L336.9,460.4L332.6,460.4ZM338.5,466.1L340.7,462.3L336.3,462.3ZM342.2,467.6L344.4,463.8L340.0,463.8Z" fill="#5c1cdc"/>
</g>
<text x="0.3" y="9.4" class="pl">(<tspan font-style="italic">a</tspan>)</text>
<text x="183.3" y="9.4" class="pl">(<tspan font-style="italic">b</tspan>)</text>
<text x="0.3" y="131.3" class="pl">(<tspan font-style="italic">c</tspan>)</text>
<text x="183.3" y="131.3" class="pl">(<tspan font-style="italic">d</tspan>)</text>
<text x="0.3" y="250.5" class="pl">(<tspan font-style="italic">e</tspan>)</text>
<text x="183.3" y="250.5" class="pl">(<tspan font-style="italic">f</tspan>)</text>
<text x="0.3" y="369" class="pl">(<tspan font-style="italic">g</tspan>)</text>
<text x="183.3" y="369" class="pl">(<tspan font-style="italic">h</tspan>)</text>
<g transform="translate(16.00,65.60) rotate(-90)">
<text x="-7.26" y="0.00" class="al" style="font-size:11.50px;font-style:italic">U</text>
<text x="1.34" y="-4.37" class="al" style="font-size:9.89px;font-style:normal">+</text>
<text x="-0.26" y="2.88" class="al" style="font-size:11.27px;font-style:italic">sf</text>
</g>
<g transform="translate(196.00,63.60) rotate(-90)">
<text x="-14.50" y="0.00" class="al" style="font-size:10.30px;font-style:italic">U</text>
<text x="-7.86" y="2.27" class="al" style="font-size:8.86px;font-style:italic">sf</text>
<text x="-0.75" y="1.24" class="al" style="font-size:12.15px;font-style:normal">/</text>
<text x="3.43" y="0.00" class="al" style="font-size:10.30px;font-style:italic">U</text>
<text x="10.57" y="2.27" class="al" style="font-size:8.86px;font-style:italic">c</text>
</g>
<g transform="translate(20.00,180.50) rotate(-90)">
<text x="-14.88" y="0.00" class="al" style="font-size:10.30px;font-style:italic">u</text>
<text x="-10.03" y="0.52" class="al" style="font-size:12.88px;font-style:normal">′</text>
<text x="-7.12" y="-3.91" class="al" style="font-size:8.86px;font-style:normal">+</text>
<text x="-9.23" y="2.27" class="al" style="font-size:8.86px;font-style:italic">xf, rms</text>
</g>
<g transform="translate(191.50,177.20) rotate(-90)">
<text x="-23.80" y="0.00" class="al" style="font-size:10.30px;font-style:italic">u</text>
<text x="-18.95" y="0.52" class="al" style="font-size:12.88px;font-style:normal">′</text>
<text x="-16.04" y="-3.91" class="al" style="font-size:8.86px;font-style:normal">+</text>
<text x="-18.15" y="2.27" class="al" style="font-size:8.86px;font-style:italic">xf, rms</text>
<text x="7.76" y="1.24" class="al" style="font-size:12.15px;font-style:normal">/</text>
<text x="12.43" y="0.00" class="al" style="font-size:10.30px;font-style:italic">U</text>
<text x="19.87" y="2.27" class="al" style="font-size:8.86px;font-style:italic">c</text>
</g>
<g transform="translate(13.80,300.40) rotate(-90)">
<text x="-14.64" y="0.00" class="al" style="font-size:10.30px;font-style:italic">u</text>
<text x="-9.79" y="0.52" class="al" style="font-size:12.88px;font-style:normal">′</text>
<text x="-6.87" y="-3.91" class="al" style="font-size:8.86px;font-style:normal">+</text>
<text x="-8.99" y="2.27" class="al" style="font-size:8.86px;font-style:italic">rf, rms</text>
</g>
<g transform="translate(191.50,298.40) rotate(-90)">
<text x="-23.56" y="0.00" class="al" style="font-size:10.30px;font-style:italic">u</text>
<text x="-18.71" y="0.52" class="al" style="font-size:12.88px;font-style:normal">′</text>
<text x="-15.80" y="-3.91" class="al" style="font-size:8.86px;font-style:normal">+</text>
<text x="-17.91" y="2.27" class="al" style="font-size:8.86px;font-style:italic">rf, rms</text>
<text x="7.52" y="1.24" class="al" style="font-size:12.15px;font-style:normal">/</text>
<text x="12.19" y="0.00" class="al" style="font-size:10.30px;font-style:italic">U</text>
<text x="19.63" y="2.27" class="al" style="font-size:8.86px;font-style:italic">c</text>
</g>
<g transform="translate(13.50,423.30) rotate(-90)">
<path d="M-15.05,-7.60 L-17.25,-2.60 L-15.05,2.40" fill="none" stroke="#222" stroke-width="0.9"/>
<text x="-14.45" y="0.00" class="al" style="font-size:10.30px;font-style:italic">u</text>
<text x="-9.50" y="0.52" class="al" style="font-size:12.88px;font-style:normal">′</text>
<text x="-9.20" y="2.27" class="al" style="font-size:8.86px;font-style:italic">xf</text>
<text x="-2.31" y="0.00" class="al" style="font-size:10.30px;font-style:italic">u</text>
<text x="2.64" y="0.52" class="al" style="font-size:12.88px;font-style:normal">′</text>
<text x="2.94" y="2.27" class="al" style="font-size:8.86px;font-style:italic">rf</text>
<path d="M9.55,-7.60 L11.75,-2.60 L9.55,2.40" fill="none" stroke="#222" stroke-width="0.9"/>
<text x="12.85" y="-3.91" class="al" style="font-size:8.86px;font-style:normal">+</text>
</g>
<g transform="translate(195.50,421.60) rotate(-90)">
<path d="M-21.27,-7.60 L-23.47,-2.60 L-21.27,2.40" fill="none" stroke="#222" stroke-width="0.9"/>
<text x="-20.67" y="0.00" class="al" style="font-size:10.30px;font-style:italic">u</text>
<text x="-15.72" y="0.52" class="al" style="font-size:12.88px;font-style:normal">′</text>
<text x="-15.42" y="2.27" class="al" style="font-size:8.86px;font-style:italic">xf</text>
<text x="-8.53" y="0.00" class="al" style="font-size:10.30px;font-style:italic">u</text>
<text x="-3.58" y="0.52" class="al" style="font-size:12.88px;font-style:normal">′</text>
<text x="-3.28" y="2.27" class="al" style="font-size:8.86px;font-style:italic">rf</text>
<path d="M3.33,-7.60 L5.53,-2.60 L3.33,2.40" fill="none" stroke="#222" stroke-width="0.9"/>
<text x="7.73" y="1.24" class="al" style="font-size:12.15px;font-style:normal">/</text>
<text x="12.10" y="0.00" class="al" style="font-size:10.30px;font-style:italic">U</text>
<text x="19.94" y="-3.91" class="al" style="font-size:8.86px;font-style:normal">2</text>
<text x="20.14" y="2.27" class="al" style="font-size:8.86px;font-style:italic">c</text>
</g>
<g transform="translate(99.50,494.00)">
<text x="-4.93" y="0.00" class="al" style="font-size:10.30px;font-style:italic">y</text>
<text x="-0.06" y="-3.91" class="al" style="font-size:8.86px;font-style:normal">+</text>
</g>
<g transform="translate(281.50,490.40)">
<text x="-8.02" y="0.00" class="al" style="font-size:10.30px;font-style:italic">y</text>
<text x="-2.55" y="1.24" class="al" style="font-size:12.15px;font-style:normal">/</text>
<text x="1.73" y="0.00" class="al" style="font-size:10.30px;font-style:italic">R</text>
</g>
<text x="222.3" y="373.6" class="t" style="font-size:9px">×10<tspan dy="-3.3" font-size="6.5">−3</tspan></text>
</svg></body></html>
